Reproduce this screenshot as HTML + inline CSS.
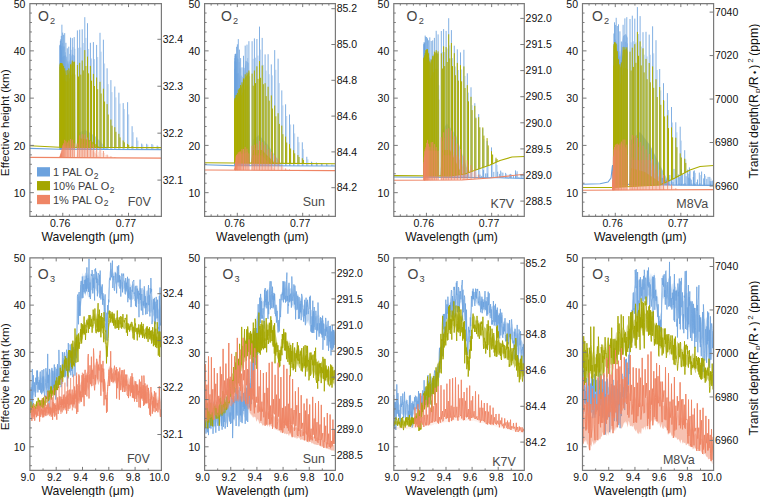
<!DOCTYPE html>
<html><head><meta charset="utf-8"><style>
html,body{margin:0;padding:0;background:#fff;}
svg{display:block;}
text{font-family:"Liberation Sans", sans-serif;fill:#111;}
.tk{font-size:10.5px;}
.ti{font-size:12.2px;}
.yt{font-size:11.75px;}
.mol{font-size:14px;fill:#454545;}
.star{font-size:12.5px;fill:#4a4a4a;}
.leg{font-size:11px;fill:#404040;}
</style></head><body>
<svg width="760" height="497" viewBox="0 0 760 497">
<rect width="760" height="497" fill="#fff"/>
<path d="M29.9 148.4 L59.4 149.3 L161.4 149.6" fill="none" stroke="#6ca2de" stroke-width="1.1"/>
<path d="M59.5 149.3 60.2 63.7 60.5 57.9 66 55 68 65 72 54 75 56 75.2 133.8 L75.3 149.3 L59.5 149.3Z" fill="#6ca2de" fill-opacity="0.45"/>
<path d="M76.2 149.3 78 133.5 78.2 132.9 85 129.7 95 136 108 149.4 L108 149.4 L76.2 149.3Z" fill="#6ca2de" fill-opacity="0.45"/>
<path d="M74.9 149.3V48.8M78.5 149.4V47.8M73 149.3V47.2M80.8 149.4V47.5M71.2 149.3V49.8M83.3 149.4V43M69.5 149.3V53.9M85.9 149.4V37.9M68 149.3V61.3M88.6 149.4V49M66.7 149.3V56.8M91.5 149.4V58.5M65.4 149.3V52.3M94.5 149.4V59.1M64.4 149.3V46.5M97.7 149.4V57.1M63.4 149.3V46.5M101.1 149.4V51.7M62.6 149.3V43.1M104.6 149.4V63.5M62 149.3V46.3M108.2 149.4V84.1M61.5 149.3V45.7M112 149.5V92.1M61.1 149.3V49.8M115.9 149.5V97.4M60.9 149.3V52.5M120 149.5V103.6M60.8 149.3V51.2M124.3 149.5V109.1M60.9 149.3V51.8M128.7 149.5V114.4M61.1 149.3V50.2M133.2 149.5V132.2M137.9 149.5V140.6M142.8 149.5V144.5M147.8 149.6V144.7M153 149.6V144.8M158.4 149.6V146.5" stroke="#6ca2de" stroke-width="0.85" stroke-opacity="0.55" fill="none"/>
<path d="M74.2 149.3V37.1M77.4 149.4V30.4M72.3 149.3V38.1M79.7 149.4V29.7M70.5 149.3V37.6M82.2 149.4V29.3M68.8 149.3V46.7M84.8 149.4V17.2M67.3 149.3V48.3M87.5 149.4V23.2M65.9 149.3V42.8M90.4 149.4V42.8M64.7 149.3V33.1M93.4 149.4V42.1M63.6 149.3V34.8M96.6 149.4V44.9M62.7 149.3V32.6M100 149.4V32.8M61.9 149.3V24.7M103.4 149.4V39.7M61.3 149.3V35.9M107.1 149.4V68.3M60.8 149.3V39.3M110.9 149.5V80.1M60.4 149.3V40.9M114.8 149.5V86.5M60.2 149.3V45.1M118.9 149.5V92.7M60.1 149.3V45.2M123.2 149.5V103.1M60.2 149.3V45.8M127.6 149.5V102.2M60.4 149.3V44.2M132.1 149.5V126.2M136.8 149.5V137.4M141.7 149.5V143.6M146.7 149.6V143.8M151.9 149.6V144M157.2 149.6V145.6" stroke="#6ca2de" stroke-width="0.85" fill="none"/>
<path d="M29.9 145.7 L59.4 147.3 L161.4 147.6" fill="none" stroke="#abad00" stroke-width="1.1"/>
<path d="M59.5 147.3 60.2 64.9 62 63 66 75 68 75 72 62 75 62 75.2 133.1 L75.3 147.3 L59.5 147.3Z" fill="#abad00" fill-opacity="0.7"/>
<path d="M76.2 147.3 78 138.3 78.2 138 90 140 100 147.4 L100 147.4 L76.2 147.3Z" fill="#abad00" fill-opacity="0.7"/>
<path d="M74.9 147.3V74.6M73 147.3V73.6M71.2 147.3V74.8M69.5 147.3V78.3M68 147.3V81.5M66.7 147.3V81.6M65.4 147.3V80.8M64.4 147.3V79.2M63.4 147.3V77.8M62.6 147.3V76.6M62 147.3V75.6M61.5 147.3V75.6M61.1 147.3V75.6M60.9 147.3V75.6M60.8 147.3V75.6M60.9 147.3V75.6M61.1 147.3V75.6" stroke="#abad00" stroke-width="1.0" stroke-opacity="0.55" fill="none"/>
<path d="M74.2 147.3V61.5M77.4 147.4V65M78.5 147.4V76.5M72.3 147.3V60.6M79.7 147.4V62.8M80.8 147.4V74.6M70.5 147.3V64.3M82.2 147.4V60.5M83.3 147.4V70.4M68.8 147.3V68.3M84.8 147.4V50.1M85.9 147.4V66M67.3 147.3V70.1M87.5 147.4V56.6M88.6 147.4V73.3M65.9 147.3V70.5M90.4 147.4V65.9M91.5 147.4V80.7M64.7 147.3V68.2M93.4 147.4V73.9M94.5 147.4V86M63.6 147.3V65.9M96.6 147.4V77.5M97.7 147.4V89.2M62.7 147.3V64.3M100 147.4V81.8M101.1 147.4V93.5M61.9 147.3V63M103.4 147.4V88.7M104.6 147.4V101.5M61.3 147.3V63.2M107.1 147.4V104.1M108.2 147.4V114.5M60.8 147.3V63.1M110.9 147.5V119.5M112 147.5V125.7M60.4 147.3V63.2M114.8 147.5V127.2M115.9 147.5V131.8M60.2 147.3V64.4M118.9 147.5V133.8M120 147.5V137.4M60.1 147.3V66.8M123.2 147.5V140.5M124.3 147.5V142.3M60.2 147.3V64.6M127.6 147.5V143.9M128.7 147.5V144.9M60.4 147.3V63.2M132.1 147.5V146.1M133.2 147.5V146.8" stroke="#abad00" stroke-width="1.0" fill="none"/>
<path d="M29.9 157.4 L161.4 158.1" fill="none" stroke="#ef8565" stroke-width="1.1"/>
<path d="M60 157.5 62.5 146.3 74 146 75.2 157.2 L75.3 157.6 L60 157.6Z" fill="#ef8565" fill-opacity="0.25"/>
<path d="M76.2 157.6 78 148.3 78.2 148 90 148 100 157.8 L100 157.8 L76.2 157.6Z" fill="#ef8565" fill-opacity="0.25"/>
<path d="M74.9 157.6V146.9M78.5 157.7V142.3M78.9 157.7V145.9M73 157.6V143M80.8 157.7V138.2M81.3 157.7V143.8M71.2 157.6V141.3M83.3 157.7V137.8M83.8 157.7V143.7M69.5 157.6V141.2M85.9 157.7V139M86.5 157.7V144.9M68 157.6V143M88.6 157.7V141.6M89.3 157.7V146.9M66.7 157.6V144.6M91.5 157.7V144.5M92.3 157.7V148.9M65.4 157.6V144M94.5 157.7V147.2M95.4 157.7V150.9M64.4 157.6V143.5M97.7 157.8V149.2M98.7 157.8V151.8M63.4 157.6V145.3M101.1 157.8V150.2M102.1 157.8V153M62.6 157.6V147.4M104.6 157.8V153M105.7 157.8V155.1M62 157.6V149.7M108.2 157.8V155.6M109.4 157.8V156.5M61.5 157.6V151.5M112 157.8V156.7M113.2 157.8V157.2M61.1 157.6V152.9M115.9 157.9V157.5M60.9 157.6V153.7M60.8 157.6V154M60.9 157.6V153.8M61.1 157.6V153" stroke="#ef8565" stroke-width="0.8" stroke-opacity="0.3" fill="none"/>
<path d="M74.2 157.6V143.4M77.4 157.7V143.5M72.3 157.6V139.6M79.7 157.7V135.3M70.5 157.6V139M82.2 157.7V134.2M68.8 157.6V140.4M84.8 157.7V134.5M67.3 157.6V142.4M87.5 157.7V137.5M65.9 157.6V141.1M90.4 157.7V140.9M64.7 157.6V139.8M93.4 157.7V144.2M63.6 157.6V143.3M96.6 157.8V147.5M62.7 157.6V145.3M100 157.8V147.9M61.9 157.6V148.7M103.4 157.8V151M61.3 157.6V151.5M107.1 157.8V154.7M60.8 157.6V153.7M110.9 157.8V156.3M60.4 157.6V155.3M114.8 157.9V157.1M60.2 157.6V156.3M60.1 157.6V156.6M60.2 157.6V156.4M60.4 157.6V155.4" stroke="#ef8565" stroke-width="0.8" fill="none"/>
<path d="M204.6 164.8 L233.5 165.6 L335.4 166" fill="none" stroke="#6ca2de" stroke-width="1.1"/>
<path d="M234.2 165.6 234.9 79.7 235.2 74 238.9 73 240.9 86.6 241.2 86.1 242.9 78.2 245.9 61.3 246.2 61.1 248.9 63 249.7 152.8 L249.8 165.7 L234.2 165.6Z" fill="#6ca2de" fill-opacity="0.45"/>
<path d="M251 165.7 253 140 259 135 268 145 282 165.8 L282 165.8 L251 165.7Z" fill="#6ca2de" fill-opacity="0.45"/>
<path d="M249.6 165.7V76.2M253.2 165.7V58.8M247.7 165.7V58.1M255.5 165.7V57.7M245.9 165.6V60.8M258 165.7V55.6M244.2 165.6V68M260.6 165.7V49.6M242.7 165.6V76.9M263.3 165.7V64.9M241.4 165.6V75.6M266.2 165.7V70.6M240.1 165.6V68.4M269.2 165.7V74.2M239.1 165.6V62.2M272.4 165.8V75.4M238.1 165.6V59.2M275.8 165.8V69.8M237.3 165.6V58.3M279.3 165.8V83.1M236.7 165.6V56.2M282.9 165.8V105.4M236.2 165.6V62M286.7 165.8V116M235.8 165.6V65.3M290.6 165.8V124.5M235.6 165.6V67.6M294.7 165.8V133.4M235.5 165.6V66.3M299 165.9V142.2M235.6 165.6V66.2M303.4 165.9V149.1M235.8 165.6V66.6M307.9 165.9V159.3M312.6 165.9V162.5M317.5 165.9V163.1M322.5 165.9V163.7M327.7 166V164.3M333.1 166V164.9" stroke="#6ca2de" stroke-width="0.85" stroke-opacity="0.55" fill="none"/>
<path d="M248.9 165.7V41.2M252.1 165.7V41.2M247 165.7V44.6M254.4 165.7V38.4M245.2 165.6V45.6M256.9 165.7V39M243.5 165.6V55.8M259.5 165.7V26.6M242 165.6V67.4M262.2 165.7V37.9M240.6 165.6V58.1M265.1 165.7V54.4M239.4 165.6V49.6M268.1 165.7V54.2M238.3 165.6V39.1M271.3 165.7V64.4M237.4 165.6V44.3M274.7 165.8V50.1M236.6 165.6V46.8M278.1 165.8V58.7M236 165.6V53.8M281.8 165.8V90.4M235.5 165.6V53.8M285.6 165.8V104.3M235.1 165.6V55.7M289.5 165.8V114.5M234.9 165.6V58.2M293.6 165.8V124.4M234.8 165.6V68.8M297.9 165.9V136.8M234.9 165.6V61.3M302.3 165.9V142.3M235.1 165.6V54M306.8 165.9V156.8M311.5 165.9V161.7M316.4 165.9V162.5M321.4 165.9V163.2M326.6 166V163.9M331.9 166V164.6" stroke="#6ca2de" stroke-width="0.85" fill="none"/>
<path d="M204.6 162.8 L233.5 163 L335.4 163.7" fill="none" stroke="#abad00" stroke-width="1.1"/>
<path d="M234.2 163 234.9 108.6 235.2 104.4 238.2 95.5 244.9 78.1 249.4 72.1 249.7 132.7 L249.8 163.1 L234.2 163Z" fill="#abad00" fill-opacity="0.7"/>
<path d="M251 163.1 253 150 262 150 275 163.3 L275 163.3 L251 163.1Z" fill="#abad00" fill-opacity="0.7"/>
<path d="M247.7 163.1V84.8M245.9 163.1V85.9M244.2 163.1V89.4M242.7 163.1V92.6M241.4 163.1V95.2M240.1 163V97.3M239.1 163V99.1M238.1 163V100.7M237.3 163V102.1M236.7 163V103.4M236.2 163V104.7M235.8 163V105.6M235.6 163V106.2M235.5 163V106.4M235.6 163V106.2M235.8 163V105.7" stroke="#abad00" stroke-width="1.0" stroke-opacity="0.55" fill="none"/>
<path d="M248.9 163.1V70.5M252.1 163.1V73.6M253.2 163.1V85.7M247 163.1V72.6M254.4 163.1V70.5M255.5 163.2V83.1M245.2 163.1V74.3M256.9 163.2V66.3M258 163.2V78.9M243.5 163.1V78.4M259.5 163.2V61M260.6 163.2V77.8M242 163.1V82.3M262.2 163.2V65.5M263.3 163.2V84.2M240.6 163V85M265.1 163.2V83.2M266.2 163.2V96.1M239.4 163V88.2M268.1 163.2V86.7M269.2 163.2V100.7M238.3 163V89.5M271.3 163.3V95.4M272.4 163.3V108.5M237.4 163V93M274.7 163.3V105.5M275.8 163.3V116.3M236.6 163V94.9M278.1 163.3V113.2M279.3 163.3V123.9M236 163V95.1M281.8 163.3V125.6M282.9 163.3V134.2M235.5 163V97.7M285.6 163.4V136.6M286.7 163.4V142.5M235.1 163V97.9M289.5 163.4V144.2M290.6 163.4V148.5M234.9 163V99.5M293.6 163.4V150.2M294.7 163.4V153.3M234.8 163V101.2M297.9 163.4V155.1M299 163.4V157M234.9 163V100.6M302.3 163.5V158.3M303.4 163.5V160M235.1 163V98.7" stroke="#abad00" stroke-width="1.0" fill="none"/>
<path d="M204.6 170 L335.4 170.6" fill="none" stroke="#ef8565" stroke-width="1.1"/>
<path d="M234.8 169.3 236.1 156.2 247.8 152.1 248.1 152.5 249.6 168.9 L249.6 170.2 L234.8 170.1Z" fill="#ef8565" fill-opacity="0.25"/>
<path d="M251 169.5 252.5 155.2 262 155.2 275 169.6 L275 170.3 L251 170.2Z" fill="#ef8565" fill-opacity="0.25"/>
<path d="M253.2 170.2V149.1M253.6 170.2V155.2M247.7 170.2V151.3M255.5 170.2V148.1M256 170.2V154.5M245.9 170.2V150.3M258 170.2V146.8M258.5 170.2V153.3M244.2 170.2V150.6M260.6 170.3V145.1M261.2 170.3V152.8M242.7 170.2V152M263.3 170.3V147.3M264 170.3V154.5M241.4 170.2V152.8M266.2 170.3V150.1M267 170.3V156.7M240.1 170.2V153.3M269.2 170.3V153.1M270.1 170.3V158.6M239.1 170.2V154M272.4 170.3V155.5M273.4 170.3V160.4M238.1 170.2V155M275.8 170.3V158.2M276.8 170.3V162.3M237.3 170.2V156.1M279.3 170.3V161.9M280.4 170.3V165.6M236.7 170.1V157.1M282.9 170.4V166.8M284.1 170.4V168.5M236.2 170.1V157.8M286.7 170.4V168.9M287.9 170.4V169.5M235.8 170.1V159.8M235.6 170.1V161.8M235.5 170.1V162.6M235.6 170.1V162M235.8 170.1V160" stroke="#ef8565" stroke-width="0.8" stroke-opacity="0.3" fill="none"/>
<path d="M248.9 170.2V153.4M252.1 170.2V145.9M247 170.2V148.6M254.4 170.2V144.7M245.2 170.2V146.9M256.9 170.2V143.7M243.5 170.2V149M259.5 170.3V140.8M242 170.2V148.9M262.2 170.3V142.1M240.6 170.2V151.4M265.1 170.3V145M239.4 170.2V151.6M268.1 170.3V149.2M238.3 170.2V152.3M271.3 170.3V151.8M237.4 170.2V153.8M274.7 170.3V155.1M236.6 170.1V154.9M278.1 170.3V158.3M236 170.1V156.4M281.8 170.4V165.2M235.5 170.1V161.9M285.6 170.4V168.4M235.1 170.1V165.8M289.5 170.4V169.4M234.9 170.1V168.2M234.9 170.1V168.4M235.1 170.1V166.1" stroke="#ef8565" stroke-width="0.8" fill="none"/>
<path d="M393.8 177 L420 177.2 L500 177.8 L524.3 178.5" fill="none" stroke="#6ca2de" stroke-width="1.1"/>
<path d="M423.2 177.2 423.9 63.6 424.2 55.9 427.9 54 429.9 67.6 430.2 67.3 433.9 54.2 434.2 54 438.4 54 438.7 136.2 L438.8 177.3 L423.2 177.2Z" fill="#6ca2de" fill-opacity="0.45"/>
<path d="M440.5 177.4 442 130 447 123.6 456 135 470 177.5 L470 177.6 L440.5 177.4Z" fill="#6ca2de" fill-opacity="0.45"/>
<path d="M438.8 177.3V85.3M442.4 177.4V52.1M436.9 177.3V51.2M444.7 177.4V52.1M435.1 177.3V51.9M447.2 177.4V48.5M433.4 177.3V54.4M449.8 177.4V45.4M431.9 177.3V58.9M452.5 177.4V58.1M430.6 177.3V58.9M455.4 177.5V66.5M429.3 177.3V57.4M458.4 177.5V70M428.3 177.3V53.3M461.6 177.5V69.5M427.3 177.3V52.6M465 177.5V75.9M426.5 177.2V53.3M468.5 177.6V92.6M425.9 177.2V53.8M472.1 177.6V105.2M425.4 177.2V54.9M475.9 177.6V116.9M425 177.2V56.8M479.8 177.6V127M424.8 177.2V58M483.9 177.7V139M424.7 177.2V58.4M488.2 177.7V147.6M424.8 177.2V58.1M492.6 177.7V154.5M425 177.2V57M497.1 177.8V164.9M501.8 177.9V172.2M506.7 178V173.9M511.7 178.1V174.3M516.9 178.3V174.1M522.3 178.4V175.1" stroke="#6ca2de" stroke-width="0.85" stroke-opacity="0.55" fill="none"/>
<path d="M438.1 177.3V34.4M441.3 177.4V31M436.2 177.3V30.8M443.6 177.4V29.1M434.4 177.3V37.9M446.1 177.4V30.9M432.7 177.3V40.4M448.7 177.4V18.2M431.2 177.3V41M451.4 177.4V30.1M429.8 177.3V37.4M454.3 177.5V45.7M428.6 177.3V40.3M457.3 177.5V49.3M427.5 177.3V38.3M460.5 177.5V52.4M426.6 177.2V37M463.9 177.5V49.8M425.8 177.2V36.9M467.3 177.6V73.3M425.2 177.2V35.6M471 177.6V87.3M424.7 177.2V42.7M474.8 177.6V103.2M424.3 177.2V45.2M478.7 177.6V114.1M424.1 177.2V42.1M482.8 177.7V128.4M424 177.2V43.8M487.1 177.7V141M424.1 177.2V44.3M491.5 177.7V147.4M424.3 177.2V43.6M496 177.8V159.5M500.7 177.8V170.6M505.6 178V172.9M510.6 178.1V173.9M515.8 178.3V173.2M521.1 178.4V174.3M480 177.7V174.6M481.7 177.7V175.9M483.5 177.7V170.1M485.6 177.7V173.4M487.3 177.7V173.4M488.7 177.7V177.6M491.2 177.7V177.7M493.8 177.8V171.9M496.2 177.8V177.7M497.7 177.8V171.7M499.6 177.8V173.9M501 177.8V177.2M502.9 177.9V172.7M504.9 177.9V177.7M507.4 178V177.6M509.3 178.1V174.4M511 178.1V175.9M513.5 178.2V175.7M515.5 178.2V170.4M517.1 178.3V171.3M518.9 178.3V176.9M521.4 178.4V178.3M523.9 178.5V172.1" stroke="#6ca2de" stroke-width="0.85" fill="none"/>
<path d="M393.8 175.6 L450 176 L465 174 L475 170.2 L490 165 L500 160.5 L512 157 L524.3 156.5" fill="none" stroke="#abad00" stroke-width="1.1"/>
<path d="M423.2 175.7 423.9 69.1 424.2 60.8 425.9 50.3 426.2 50 427.9 50 429.9 63.6 430.2 63.5 432.9 57.1 435.9 52.1 438.4 54 438.7 135.2 L438.8 175.9 L423.2 175.8Z" fill="#abad00" fill-opacity="0.7"/>
<path d="M440.5 175.9 442 150 450 150 462 174.4 L462 174.4 L440.5 175.9Z" fill="#abad00" fill-opacity="0.7"/>
<path d="M438.8 175.9V99.7M436.9 175.9V68.9M435.1 175.9V68.9M433.4 175.9V72.2M431.9 175.9V75.2M430.6 175.9V78M429.3 175.9V75.5M428.3 175.8V69.5M427.3 175.8V68M426.5 175.8V68M425.9 175.8V68.4M425.4 175.8V70.3M425 175.8V71.7M424.8 175.8V72.5M424.7 175.8V72.8M424.8 175.8V72.6M425 175.8V71.8" stroke="#abad00" stroke-width="1.0" stroke-opacity="0.55" fill="none"/>
<path d="M438.1 175.9V51.4M441.3 175.9V53.3M442.4 175.9V68.5M436.2 175.9V50.2M443.6 176V46.3M444.7 176V66.1M434.4 175.9V51.6M446.1 176V47.1M447.2 176V62M432.7 175.9V55.8M448.7 176V34.3M449.8 176V58.4M431.2 175.9V59.6M451.4 175.8V43M452.5 175.7V66.1M429.8 175.9V61.4M454.3 175.4V53.2M455.4 175.3V75.2M428.6 175.8V53.3M457.3 175V62.9M458.4 174.9V80.6M427.5 175.8V49.1M460.5 174.6V65.2M461.6 174.4V81.3M426.6 175.8V49.3M463.9 174.2V66.4M465 174V88M425.8 175.8V50.2M467.3 173.1V85.1M468.5 172.7V101.3M425.2 175.8V53M471 171.7V96.8M472.1 171.3V110.1M424.7 175.8V55.3M474.8 170.3V105.8M475.9 169.9V118.2M424.3 175.8V57.2M478.7 168.9V117.2M479.8 168.5V127.4M424.1 175.8V58.3M482.8 167.5V127.4M483.9 167.1V135.6M424 175.8V58.6M487.1 166V138.1M488.2 165.6V145.4M424.1 175.8V58.1M491.5 164.3V151.2M492.6 163.8V154.6M424.3 175.8V57.1M496 162.3V157.7M497.1 161.8V159.1" stroke="#abad00" stroke-width="1.0" fill="none"/>
<path d="M393.8 180.3 L462 180 L490 178 L524.3 174.3" fill="none" stroke="#ef8565" stroke-width="1.1"/>
<path d="M423.3 180.1 424.6 151 436.8 150.7 437.1 151.5 438.8 180.1 L438.8 180.1 L423.3 180.2Z" fill="#ef8565" fill-opacity="0.25"/>
<path d="M440.5 180.1 443 155.2 458 155.2 467.8 179.4 468 179.6 L468 179.6 L440.5 180.1Z" fill="#ef8565" fill-opacity="0.25"/>
<path d="M442.4 180.1V141.3M442.8 180.1V152.3M436.9 180.1V152.4M444.7 180.1V137.8M445.2 180.1V149.8M435.1 180.1V150.4M447.2 180.1V136.5M447.7 180.1V149.2M433.4 180.1V147.9M449.8 180.1V136.6M450.4 180.1V149.8M431.9 180.1V147.2M452.5 180V139M453.2 180V152M430.6 180.1V149.7M455.4 180V145.5M456.2 180V156.9M429.3 180.1V149.6M458.4 180V150.6M459.3 180V160.1M428.3 180.1V146.9M461.6 180V155.9M462.6 180V164.3M427.3 180.2V146.9M465 179.8V160.7M466 179.7V167M426.5 180.2V148.5M468.5 179.5V164.5M469.6 179.5V169.8M425.9 180.2V151M472.1 179.3V168.5M473.3 179.2V172.5M425.4 180.2V152.9M475.9 179V172.3M477.1 178.9V175.1M425 180.2V154.3M479.8 178.7V176.2M481.1 178.6V177.3M424.8 180.2V155.1M483.9 178.4V177.7M424.7 180.2V155.4M424.8 180.2V155.2M425 180.2V154.4" stroke="#ef8565" stroke-width="0.8" stroke-opacity="0.3" fill="none"/>
<path d="M438.1 180.1V150.8M441.3 180.1V137.3M436.2 180.1V147.1M443.6 180.1V132.3M434.4 180.1V144.1M446.1 180.1V129.2M432.7 180.1V142M448.7 180.1V128.2M431.2 180.1V142.3M451.4 180V130.6M429.8 180.1V146.7M454.3 180V136.3M428.6 180.1V143.7M457.3 180V143.7M427.5 180.2V139.9M460.5 180V149.1M426.6 180.2V142.8M463.9 179.9V156M425.8 180.2V147.3M467.3 179.6V160.3M425.2 180.2V149.2M471 179.4V165.2M424.7 180.2V151.3M474.8 179.1V169.8M424.3 180.2V156.7M478.7 178.8V174.5M424.1 180.2V161.9M482.8 178.5V177.1M424 180.2V163.7M424.1 180.2V162.2M424.3 180.2V157.4" stroke="#ef8565" stroke-width="0.8" fill="none"/>
<path d="M582.5 184.2 L600 183.8 L608 182.1 L611 178 L612.5 165 L613 184 L660 185 L713.6 185.4" fill="none" stroke="#6ca2de" stroke-width="1.1"/>
<path d="M612.8 176.4 613.5 50 616.8 48.1 617 48.2 619.8 57.3 620 57.6 623 36 625.8 34.1 626 34.1 627.8 38 L628 184.3 L612.8 176.4Z" fill="#6ca2de" fill-opacity="0.6"/>
<path d="M629.3 184.3 631 140 640 132.1 650 145.1 669.8 184.6 L670 185.1 L629.3 184.3Z" fill="#6ca2de" fill-opacity="0.6"/>
<path d="M627.5 184.3V43.4M631.1 184.4V42.3M625.6 184.3V41.8M633.4 184.4V41.3M623.8 184.2V46.1M635.9 184.5V42.5M622.1 184.2V55.7M638.5 184.5V34M620.6 184.2V62M641.2 184.6V46.6M619.3 184.1V51.3M644.1 184.7V54.7M618 184.1V45.1M647.1 184.7V56.4M617 184.1V43.3M650.3 184.8V54.8M616 184.1V41.2M653.7 184.9V53.3M615.2 184V39.5M657.2 184.9V70M614.6 184V40.3M660.8 185V90.4M614.1 184V48.3M664.6 185V100.7M613.7 184V56.4M668.5 185.1V110M672.6 185.1V122.5M676.9 185.1V132.3M681.3 185.2V140.6M613.7 184V57.1M685.8 185.2V159.4M690.5 185.2V170.8M695.4 185.3V172.9M700.4 185.3V175.1M705.6 185.3V175.7M711 185.4V178.5" stroke="#6ca2de" stroke-width="0.85" stroke-opacity="0.55" fill="none"/>
<path d="M626.8 184.3V17.2M630 184.4V19M624.9 184.3V18.4M632.3 184.4V15.7M623.1 184.2V24.8M634.8 184.5V18.6M621.4 184.2V41.5M637.4 184.5V7.1M619.9 184.1V31.3M640.1 184.6V16.1M618.5 184.1V24.3M643 184.6V32.2M617.3 184.1V26M646 184.7V31.8M616.2 184.1V17.8M649.2 184.8V34.6M615.3 184V24.9M652.6 184.8V26.3M614.5 184V22.3M656 184.9V40.2M613.9 184V33.5M659.7 185V69M663.5 185V83.2M667.4 185.1V93.1M671.5 185.1V107M675.8 185.1V122.3M680.2 185.2V126.7M684.7 185.2V150.2M689.4 185.2V167.4M694.3 185.3V170.4M699.3 185.3V172.6M704.5 185.3V174M709.8 185.4V176.9M660 185V171.3M662.4 185V178M664 185V184.8M665.8 185V180.1M667.1 185.1V184.8M669.8 185.1V175M671.3 185.1V179.6M674 185.1V168.9M676.5 185.1V180.4M678.4 185.1V174.5M679.7 185.1V177.2M681.3 185.2V169.4M682.6 185.2V174.4M685.1 185.2V183.1M687.6 185.2V169.6M688.9 185.2V173.8M690.1 185.2V178.4M691.9 185.2V183.5M693.6 185.3V171.3M695.3 185.3V184.2M697.5 185.3V179.5M699.9 185.3V183.1M701.6 185.3V171.5M703.6 185.3V178.4M705.1 185.3V185.3M707.7 185.4V184.9M710.2 185.4V181.1M712.8 185.4V180.5M662 185V177.7M663.6 185V180.8M666 185V179.6M668.6 185.1V177.8M671.1 185.1V185M673 185.1V182M674.3 185.1V185.1M676.7 185.1V176.2M679.1 185.1V183.5M681.4 185.2V183.7M683.7 185.2V183.8M686.1 185.2V176.2M688.7 185.2V177.6M691.3 185.2V179.7M693.3 185.2V177M694.7 185.3V183.2M696.8 185.3V182.2M699.2 185.3V184.5M700.5 185.3V184.9M703.1 185.3V184.9M704.7 185.3V183.2M706.8 185.3V178.9M708.1 185.4V176.9M710.5 185.4V183.7M711.9 185.4V181.1" stroke="#6ca2de" stroke-width="0.85" fill="none"/>
<path d="M582.5 187.5 L612 187.5 L660 185 L675 178 L690 170 L700 166.5 L713.6 165.5" fill="none" stroke="#abad00" stroke-width="1.1"/>
<path d="M612.8 187.5 613.5 46 615.8 44.2 616 44.3 619 64.1 620.8 67.6 621 67.6 623 50 626.8 49.1 627 49.2 627.8 52 L628 186.7 L612.8 187.5Z" fill="#abad00" fill-opacity="0.7"/>
<path d="M629.3 186.6 631 168 645 172 659.8 181.9 L660 185 L629.3 186.6Z" fill="#abad00" fill-opacity="0.7"/>
<path d="M627.5 186.7V69.3M625.6 186.8V68M623.8 186.9V68M622.1 187V74.9M620.6 187.1V83.5M619.3 187.1V81.2M618 187.2V75.4M617 187.2V69.3M616 187.3V64M615.2 187.3V63.8M614.6 187.4V63.8M614.1 187.4V64.9M613.7 187.4V65.8M613.7 187.4V65.9" stroke="#abad00" stroke-width="1.0" stroke-opacity="0.55" fill="none"/>
<path d="M626.8 186.7V47.3M630 186.6V51.7M631.1 186.5V70.5M624.9 186.8V47.2M632.3 186.4V47.7M633.4 186.4V66.9M623.1 186.9V47.1M634.8 186.3V44.2M635.9 186.3V62.8M621.4 187V62.5M637.4 186.2V31.9M638.5 186.1V55.8M619.9 187.1V64.3M640.1 186V41.4M641.2 186V65.4M618.5 187.2V59.3M643 185.9V48.3M644.1 185.8V72.4M617.3 187.2V51.2M646 185.7V58.9M647.1 185.7V79.2M616.2 187.3V43.7M649.2 185.6V63M650.3 185.5V82.3M615.3 187.3V42.4M652.6 185.4V66.4M653.7 185.3V87.8M614.5 187.4V42.2M656 185.2V79.2M657.2 185.1V97M613.9 187.4V44.2M659.7 185V87M660.8 184.6V104.8M663.5 183.4V100.1M664.6 182.9V116.4M667.4 181.5V115.4M668.5 181V128.1M671.5 179.6V127.4M672.6 179.1V137.3M675.8 177.6V137.7M676.9 177V147.2M680.2 175.3V153.4M681.3 174.6V157.5M684.7 172.8V158.7M685.8 172.2V162.9" stroke="#abad00" stroke-width="1.0" fill="none"/>
<path d="M582.5 190.3 L713.6 189.6" fill="none" stroke="#ef8565" stroke-width="1.1"/>
<path d="M612.8 190.1 613.5 151.9 618 146 623 143.1 626.8 149.6 627 152.5 627.8 190.1 L627.8 190.1 L612.8 190.1Z" fill="#ef8565" fill-opacity="0.25"/>
<path d="M629.3 190.1 632 160 650 160.1 664.8 189.6 L665 189.9 L629.3 190.1Z" fill="#ef8565" fill-opacity="0.25"/>
<path d="M627.5 190.1V155M631.1 190V144.8M631.5 190V157.6M625.6 190.1V147.3M633.4 190V143.6M633.9 190V157.3M623.8 190.1V146.3M635.9 190V144.1M636.4 190V158M622.1 190.1V147.1M638.5 190V147.2M639.1 190V160.4M620.6 190.1V149.3M641.2 190V150.4M641.9 190V162.6M619.3 190.1V151.4M644.1 190V153.4M644.9 190V164.7M618 190.1V151M647.1 190V156.9M648 190V167.3M617 190.1V150M650.3 189.9V160.7M651.3 189.9V170.2M616 190.1V149.2M653.7 189.9V165.2M654.7 189.9V173.5M615.2 190.1V151.3M657.2 189.9V169.6M658.3 189.9V176.5M614.6 190.1V153.1M660.8 189.9V173.9M662 189.9V179.6M614.1 190.1V154.4M664.6 189.9V178.5M665.8 189.9V182.7M613.7 190.1V155.4M668.5 189.8V182.5M669.8 189.8V185.6M613.5 190.1V156.1M672.6 189.8V186.3M674 189.8V188.1M613.4 190.1V158.8M676.9 189.8V188.8M678.3 189.8V189.4M613.5 190.1V156.6M613.7 190.1V155.5" stroke="#ef8565" stroke-width="0.8" stroke-opacity="0.3" fill="none"/>
<path d="M626.8 190.1V144.6M630 190V140M624.9 190.1V139.5M632.3 190V135.1M623.1 190.1V139.5M634.8 190V135.7M621.4 190.1V141.5M637.4 190V138M619.9 190.1V143.4M640.1 190V142.1M618.5 190.1V144.6M643 190V145.6M617.3 190.1V143.6M646 190V149.4M616.2 190.1V144M649.2 189.9V153.9M615.3 190.1V144.9M652.6 189.9V159.1M614.5 190.1V147M656 189.9V164.5M613.9 190.1V149.5M659.7 189.9V169.6M613.4 190.1V156.7M663.5 189.9V174.9M613 190.1V171M667.4 189.8V179.9M612.8 190.1V180.1M671.5 189.8V184.5M612.7 190.1V183.9M675.8 189.8V188.2M612.8 190.1V180.4M613 190.1V173.5" stroke="#ef8565" stroke-width="0.8" fill="none"/>
<path d="M30.5 381.9 31.1 381.5 31.7 384 32.3 384.8 32.9 385.2 33.5 378.8 34.1 384.4 34.7 385.3 35.3 378.5 35.9 377.5 36.5 378.2 37.1 380.9 37.7 374.9 38.3 377.2 38.9 376.5 39.5 380.6 40.1 374.7 40.7 377.2 41.3 378.2 41.9 372.2 42.5 379 43.1 375.9 43.7 379 44.3 375 44.9 379.3 45.5 379.3 46.1 372.5 46.7 370.9 47.3 371.8 47.9 374.1 48.5 378.6 49.1 370.8 49.7 377.1 50.3 370.6 50.9 368.9 51.5 369.6 52.1 368.6 52.7 371 53.3 371.7 53.9 374.6 54.5 367.9 55.1 373.8 55.7 369.1 56.3 373.5 56.9 365.5 57.5 369.8 58.1 369.3 58.7 365.8 59.3 365.3 59.9 370.2 60.5 370 61.1 364.6 61.7 367.8 62.3 363 62.9 358.2 63.5 359 64.1 362.3 64.7 362.2 65.3 361.3 65.9 354.7 66.5 356.8 67.1 351.4 67.7 352.7 68.3 348.4 68.9 350.7 69.5 353.3 70.1 351.9 70.7 346.4 71.3 351.9 71.9 349.6 72.5 344.3 73.1 349.7 73.7 342.6 74.3 342.2 74.9 348.9 75.5 347.1 76.1 346.6 76.7 327.9 77.3 311.5 77.9 303.7 78.5 296 79.1 295.9 79.7 292.7 80.3 285.2 80.9 284.2 81.5 280.7 82.1 282.4 82.7 272.6 83.3 276.4 83.9 275.5 84.5 276.6 85.1 273 85.7 272.6 86.3 275.8 86.9 276.9 87.5 272.1 88.1 276 88.7 273 89.3 279.8 89.9 274.2 90.5 280.9 91.1 273 91.7 279.5 92.3 279.4 92.9 272 93.5 279.1 94.1 278.9 94.7 276.4 95.3 278 95.9 273.1 96.5 276 97.1 275.3 97.7 278.1 98.3 279.4 98.9 279.4 99.5 283.5 100.1 284.8 100.7 284.8 101.3 284.6 101.9 290.9 102.5 289.4 103.1 294.5 103.7 296.3 104.3 295.9 104.9 307 105.5 310.2 106.1 313.5 106.7 320.1 107.3 314.9 107.9 307.2 108.5 290.7 109.1 285.9 109.7 272.1 110.3 269.8 110.9 269 111.5 269.1 112.1 273.7 112.7 271.4 113.3 273.9 113.9 271.7 114.5 271.7 115.1 274.1 115.7 271.1 116.3 274 116.9 273.4 117.5 272 118.1 276.2 118.7 274.4 119.3 277 119.9 277.2 120.5 275.2 121.1 276.7 121.7 281.4 122.3 281.8 122.9 282.5 123.5 277.9 124.1 281.5 124.7 280 125.3 283.4 125.9 282.8 126.5 279.7 127.1 285.8 127.7 285.9 128.3 286.3 128.9 282.1 129.5 287.8 130.1 286.7 130.7 282.9 131.3 286.4 131.9 284.4 132.5 284.5 133.1 283.5 133.7 283.8 134.3 287.7 134.9 285.8 135.5 286.5 136.1 285.4 136.7 285.7 137.3 285.4 137.9 286 138.5 290.8 139.1 293.9 139.7 286.8 140.3 292 140.9 290.9 141.5 289.2 142.1 288.2 142.7 287.7 143.3 289.4 143.9 289.9 144.5 291.1 145.1 288.2 145.7 295.9 146.3 290.8 146.9 290.7 147.5 290.4 148.1 289.9 148.7 294.4 149.3 294.3 149.9 289.8 150.5 290 151.1 300.4 151.7 299.6 152.3 295.7 152.9 302.4 153.5 302.5 154.1 303.4 154.7 300.2 155.3 302.8 155.9 306.7 156.5 299.6 157.1 306.7 157.7 305.8 158.3 310.5 158.9 308.2 159.5 303.7 160.1 308.8 160.7 303.8 160.7 324.1 160.1 326 159.5 318.7 158.9 318.1 158.3 321.5 157.7 321.1 157.1 318.4 156.5 318.8 155.9 319.5 155.3 313.1 154.7 314.6 154.1 316.7 153.5 314.9 152.9 317.7 152.3 312 151.7 313 151.1 310.8 150.5 312.9 149.9 312.8 149.3 311.5 148.7 311.6 148.1 311.6 147.5 304 146.9 308.4 146.3 307.9 145.7 306.9 145.1 306 144.5 306.3 143.9 307.1 143.3 308.3 142.7 304.9 142.1 305.9 141.5 305.7 140.9 306.7 140.3 303.1 139.7 304.8 139.1 300.1 138.5 304 137.9 304 137.3 298.8 136.7 302.9 136.1 303.3 135.5 301.6 134.9 300.8 134.3 301.2 133.7 298.8 133.1 298.9 132.5 300.2 131.9 298.6 131.3 298.5 130.7 300.1 130.1 299.9 129.5 295.6 128.9 295.1 128.3 295 127.7 296.5 127.1 296 126.5 291.5 125.9 294.1 125.3 291.5 124.7 289.8 124.1 288.4 123.5 289 122.9 291.7 122.3 291.2 121.7 285.8 121.1 290.1 120.5 287.9 119.9 288.5 119.3 288 118.7 286.3 118.1 286.4 117.5 282.2 116.9 283.3 116.3 285.4 115.7 283 115.1 284 114.5 280.6 113.9 279.8 113.3 279.7 112.7 280.1 112.1 279.7 111.5 277 110.9 279.1 110.3 278.2 109.7 283.2 109.1 295.4 108.5 302.5 107.9 315.7 107.3 324.1 106.7 333.1 106.1 331.9 105.5 322.6 104.9 318.9 104.3 311.3 103.7 304.9 103.1 305.7 102.5 301.3 101.9 299.5 101.3 296 100.7 295.6 100.1 291 99.5 292.3 98.9 294.7 98.3 292.9 97.7 291.4 97.1 291 96.5 291.1 95.9 288.3 95.3 289.5 94.7 291.3 94.1 294.2 93.5 286.7 92.9 293.8 92.3 290.7 91.7 289.8 91.1 290.5 90.5 290.7 89.9 295.8 89.3 291.8 88.7 289.4 88.1 290.2 87.5 296.8 86.9 292.5 86.3 290.2 85.7 295.3 85.1 295.7 84.5 292.2 83.9 289.8 83.3 292.7 82.7 296.6 82.1 298.9 81.5 301.8 80.9 306.9 80.3 304.9 79.7 314 79.1 311.3 78.5 319.9 77.9 317.7 77.3 328.6 76.7 345 76.1 360.4 75.5 363.4 74.9 363.9 74.3 361.9 73.7 364.6 73.1 367.3 72.5 365.6 71.9 360.7 71.3 368 70.7 364.9 70.1 361.9 69.5 367.1 68.9 371.2 68.3 364.2 67.7 366.5 67.1 368.8 66.5 370.7 65.9 376.2 65.3 370.9 64.7 375.1 64.1 377 63.5 376 62.9 375.5 62.3 380.8 61.7 376.9 61.1 379 60.5 377.9 59.9 378.8 59.3 379.6 58.7 380.8 58.1 382.3 57.5 384.3 56.9 388.2 56.3 381.7 55.7 388.5 55.1 387.7 54.5 387 53.9 389.4 53.3 389.5 52.7 388 52.1 391.1 51.5 388.2 50.9 393.9 50.3 391.8 49.7 388.5 49.1 392 48.5 390.7 47.9 387.7 47.3 387.9 46.7 389.6 46.1 388.3 45.5 387 44.9 392.6 44.3 388 43.7 393 43.1 386.9 42.5 389.1 41.9 390.7 41.3 390 40.7 392.2 40.1 389.5 39.5 387.5 38.9 387.1 38.3 388.4 37.7 388.5 37.1 389.3 36.5 392.8 35.9 392.9 35.3 393.6 34.7 392.3 34.1 398.5 33.5 395 32.9 395.2 32.3 398.1 31.7 399.3 31.1 399.7 30.5 396.6Z" fill="#6ca2de" fill-opacity="0.45"/>
<path d="M30.5 402.1 30.9 390.7 31.2 387.3 31.6 412.5 31.9 400.1 32.3 369 32.6 409.3 33 399.6 33.3 375.2 33.7 384.4 34 391.5 34.4 387 34.7 382.3 35.1 393.2 35.4 396.8 35.8 377.7 36.1 380.8 36.5 384.8 36.8 370.5 37.2 383.3 37.5 370.6 37.9 392.4 38.2 382.2 38.6 383.8 38.9 389.7 39.3 380.1 39.6 389.8 40 373.6 40.3 371.6 40.7 392.6 41 382.9 41.4 388.4 41.7 394.2 42.1 370.1 42.4 384 42.8 392.6 43.1 376.5 43.5 391.1 43.8 369.2 44.2 390.8 44.5 396.7 44.9 397.3 45.2 386.8 45.6 382.7 45.9 368.2 46.3 375.1 46.6 390.4 47 398.2 47.3 393.4 47.7 353.9 48 383 48.4 374.8 48.7 397.5 49.1 408.5 49.4 368.9 49.8 378.3 50.1 388.5 50.5 387.9 50.8 395.9 51.2 392.6 51.5 397.6 51.9 367.9 52.2 381.1 52.6 392.9 52.9 370.8 53.3 389.8 53.6 394.2 54 375.1 54.3 364.5 54.7 394.4 55 367.2 55.4 388.1 55.7 399.5 56.1 393.3 56.4 383.7 56.8 368.8 57.1 376.4 57.5 364.2 57.8 385 58.2 381.5 58.5 387.8 58.9 349.9 59.2 360.3 59.6 379.5 59.9 376.1 60.3 379.5 60.6 365.1 61 387.2 61.3 385.7 61.7 374.3 62 383.8 62.4 352.1 62.7 356.8 63.1 367.3 63.4 359.8 63.8 357.5 64.1 352.3 64.5 352.4 64.8 377.4 65.2 361.1 65.5 376.4 65.9 365.9 66.2 353.9 66.6 349.7 66.9 353.6 67.3 386.5 67.6 365.8 68 378.6 68.3 343.1 68.7 371.3 69 367.3 69.4 362.9 69.7 372.4 70.1 344.4 70.4 349.3 70.8 375.3 71.1 356.5 71.5 370.8 71.8 352.1 72.2 365.2 72.5 371.8 72.9 377.1 73.2 353.2 73.6 347.1 73.9 361 74.3 349.3 74.6 359.7 75 375.7 75.3 360.7 75.7 359.9 76 338.2 76.4 358.3 76.7 350 77.1 322 77.4 296.3 77.8 294.5 78.1 301 78.5 324.3 78.8 293.3 79.2 292 79.5 315.8 79.9 301.4 80.2 315.8 80.6 284.7 80.9 281.1 81.3 281.1 81.6 281.1 82 298.3 82.3 276.5 82.7 295.3 83 297.8 83.4 290.6 83.7 284.1 84.1 291.9 84.4 280.1 84.8 280.3 85.1 293.4 85.5 279.6 85.8 289.1 86.2 275.7 86.5 291.3 86.9 267.4 87.2 288.7 87.6 282.2 87.9 278.1 88.3 283.4 88.6 292 89 258.8 89.3 297.2 89.7 289.7 90 282.4 90.4 299 90.7 294.8 91.1 273.9 91.4 274.2 91.8 276.1 92.1 270 92.5 274.6 92.8 293.4 93.2 277.9 93.5 287.8 93.9 274.1 94.2 286 94.6 300.5 94.9 269.3 95.3 271.5 95.6 268.4 96 279.4 96.3 271.7 96.7 282.9 97 278.8 97.4 296.3 97.7 280.6 98.1 273.1 98.4 273.5 98.8 275.3 99.1 285.3 99.5 274.8 99.8 297.7 100.2 270.6 100.5 293.6 100.9 299.5 101.2 286.6 101.6 292.3 101.9 294.3 102.3 284.4 102.6 304.7 103 293.3 103.3 300.1 103.7 298.9 104 302.4 104.4 321.1 104.7 307.5 105.1 294.4 105.4 322.4 105.8 330.7 106.1 340.2 106.5 327.8 106.8 312.7 107.2 340.8 107.5 305.2 107.9 310.5 108.2 314.3 108.6 299.6 108.9 302.3 109.3 280.4 109.6 278.7 110 277.7 110.3 280.3 110.7 262.8 111 266 111.4 276 111.7 277.2 112.1 267.5 112.4 260.6 112.8 288 113.1 282 113.5 278.4 113.8 275.9 114.2 289.8 114.5 290.7 114.9 282.5 115.2 280.8 115.6 272.6 115.9 275.5 116.3 287.7 116.6 293.3 117 280.2 117.3 266.3 117.7 270.4 118 282.3 118.4 271.4 118.7 265.2 119.1 282.3 119.4 275.2 119.8 283.7 120.1 288.7 120.5 279.8 120.8 296.6 121.2 276.3 121.5 275.5 121.9 273.4 122.2 284.4 122.6 292.4 122.9 274.6 123.3 275.6 123.6 273.6 124 281.4 124.3 281.2 124.7 288.7 125 293.6 125.4 294.4 125.7 278.1 126.1 291.3 126.4 282.7 126.8 287.7 127.1 289.4 127.5 276.8 127.8 302.2 128.2 289.5 128.5 298.1 128.9 278.7 129.2 290.5 129.6 294.9 129.9 299.5 130.3 287.2 130.6 293.9 131 307.1 131.3 303.9 131.7 294.7 132 289.8 132.4 291.7 132.7 281.7 133.1 281.6 133.4 281.1 133.8 280 134.1 293.7 134.5 292.6 134.8 296.2 135.2 296.3 135.5 306.2 135.9 285.8 136.2 305.2 136.6 307.1 136.9 295.4 137.3 288.6 137.6 296.6 138 298.7 138.3 290.8 138.7 304.7 139 317.2 139.4 293.1 139.7 295 140.1 279.6 140.4 300 140.8 288.2 141.1 310.4 141.5 310.4 141.8 294 142.2 305.1 142.5 310 142.9 315.1 143.2 301.3 143.6 305.6 143.9 296 144.3 286.3 144.6 302.4 145 308.3 145.3 296.2 145.7 314.5 146 302.6 146.4 305 146.7 303 147.1 314 147.4 297.9 147.8 295.8 148.1 291.9 148.5 285.1 148.8 305.2 149.2 295.3 149.5 302.7 149.9 316.4 150.2 288 150.6 293.4 150.9 278 151.3 291.7 151.6 288.9 152 324.1 152.3 320.8 152.7 321.2 153 308.1 153.4 299.1 153.7 309.5 154.1 306.1 154.4 297.9 154.8 331.4 155.1 301.7 155.5 324.2 155.8 317.7 156.2 296.9 156.5 303.4 156.9 313.7 157.2 318.1 157.6 299.7 157.9 319.8 158.3 328.9 158.6 327.1 159 340.5 159.3 295.9 159.7 335.8 160 287.5 160.4 325.4 160.7 322.6" fill="none" stroke="#6ca2de" stroke-width="0.8" stroke-linejoin="round"/>
<path d="M30.5 405.8 31.1 407.7 31.7 407.3 32.3 404.6 32.9 404.5 33.5 405.5 34.1 406.2 34.7 404.1 35.3 404 35.9 405 36.5 402.5 37.1 404.7 37.7 404.9 38.3 404 38.9 404.3 39.5 402.4 40.1 401 40.7 402.9 41.3 403.2 41.9 402.1 42.5 399.5 43.1 400 43.7 399.3 44.3 400.9 44.9 398.5 45.5 397.3 46.1 398.2 46.7 397.5 47.3 396.7 47.9 396.3 48.5 396 49.1 394.9 49.7 393.6 50.3 391.5 50.9 393.3 51.5 390.9 52.1 389.6 52.7 391.4 53.3 388.5 53.9 390.3 54.5 387.7 55.1 388.9 55.7 387.6 56.3 386.2 56.9 383.9 57.5 380.2 58.1 380.6 58.7 378.3 59.3 377.6 59.9 374.5 60.5 373.9 61.1 371.8 61.7 369.9 62.3 368.4 62.9 368.4 63.5 365 64.1 364.2 64.7 362.8 65.3 359.5 65.9 361.8 66.5 360.7 67.1 359.9 67.7 357.1 68.3 357.7 68.9 355.4 69.5 350.8 70.1 350.5 70.7 353.8 71.3 351.3 71.9 352.7 72.5 344.4 73.1 350.1 73.7 345.8 74.3 340.7 74.9 342.5 75.5 344 76.1 339.6 76.7 342.8 77.3 339 77.9 335.8 78.5 339.8 79.1 338.3 79.7 331.8 80.3 332.5 80.9 328.6 81.5 330.2 82.1 328.9 82.7 327.1 83.3 325.2 83.9 323.5 84.5 321.3 85.1 324.2 85.7 322.5 86.3 320.8 86.9 318.7 87.5 318.3 88.1 319 88.7 318.7 89.3 319.3 89.9 315.5 90.5 314.6 91.1 318.9 91.7 316.6 92.3 315.5 92.9 318.1 93.5 317.6 94.1 317.1 94.7 313.4 95.3 314.6 95.9 318.9 96.5 312.4 97.1 318.4 97.7 319.5 98.3 319.2 98.9 319.1 99.5 320.2 100.1 314.7 100.7 316.6 101.3 317.3 101.9 321.1 102.5 321.2 103.1 325.3 103.7 326.3 104.3 331.6 104.9 332.8 105.5 335.3 106.1 341.4 106.7 343.8 107.3 341.9 107.9 334.6 108.5 327.8 109.1 321.1 109.7 317.2 110.3 313.4 110.9 314.6 111.5 315.7 112.1 317 112.7 315 113.3 317.9 113.9 316.1 114.5 318.5 115.1 318.2 115.7 318.4 116.3 317.9 116.9 317.1 117.5 317.1 118.1 321 118.7 317.6 119.3 321.2 119.9 319.8 120.5 322.3 121.1 320.2 121.7 323.7 122.3 321 122.9 323.2 123.5 321.1 124.1 321.4 124.7 322.5 125.3 323.3 125.9 322.4 126.5 321.4 127.1 321.5 127.7 324.6 128.3 324.2 128.9 324 129.5 323.8 130.1 325.5 130.7 322.7 131.3 323.6 131.9 323.6 132.5 324.3 133.1 325.1 133.7 325.9 134.3 325.9 134.9 327.1 135.5 327.6 136.1 327.4 136.7 328.5 137.3 328 137.9 327 138.5 327.9 139.1 329.9 139.7 326.9 140.3 330.1 140.9 326.6 141.5 327.5 142.1 327.7 142.7 328 143.3 327.9 143.9 329.6 144.5 329.6 145.1 328.6 145.7 328.2 146.3 328.6 146.9 329.8 147.5 331.3 148.1 331.6 148.7 333.4 149.3 333.8 149.9 331.2 150.5 331.4 151.1 331 151.7 334.3 152.3 330.8 152.9 331.5 153.5 331.2 154.1 332.6 154.7 330.3 155.3 334 155.9 334.7 156.5 331.8 157.1 337.7 157.7 336.5 158.3 334.2 158.9 337.3 159.5 333.5 160.1 336.9 160.7 335.4 160.7 346.7 160.1 346.3 159.5 343.9 158.9 348.5 158.3 348.6 157.7 346.8 157.1 342.5 156.5 346.7 155.9 346.9 155.3 344.8 154.7 342.4 154.1 340.4 153.5 339.7 152.9 339.7 152.3 340.4 151.7 342.3 151.1 339.5 150.5 341.3 149.9 337.7 149.3 339.8 148.7 338.1 148.1 336.6 147.5 338.6 146.9 338.4 146.3 339.4 145.7 335.5 145.1 337.4 144.5 337.3 143.9 337.6 143.3 337.7 142.7 335.1 142.1 335.2 141.5 335.8 140.9 334.4 140.3 335.4 139.7 333.8 139.1 333.8 138.5 334.4 137.9 334.4 137.3 334.6 136.7 334.5 136.1 333.8 135.5 331.2 134.9 331.3 134.3 330.7 133.7 330.4 133.1 332.1 132.5 332.9 131.9 332.1 131.3 329.7 130.7 329.7 130.1 330.8 129.5 331.1 128.9 329.8 128.3 330.1 127.7 330.6 127.1 330.2 126.5 328 125.9 329.8 125.3 328.1 124.7 328.9 124.1 329.5 123.5 328 122.9 328.9 122.3 327 121.7 327.9 121.1 327.5 120.5 327.2 119.9 328.2 119.3 327.6 118.7 328 118.1 326.6 117.5 325 116.9 325 116.3 323.8 115.7 324.5 115.1 325.9 114.5 323.4 113.9 324 113.3 322.1 112.7 324 112.1 320.5 111.5 323.4 110.9 320 110.3 322.2 109.7 324.2 109.1 327.7 108.5 336.1 107.9 344.1 107.3 350.3 106.7 353.7 106.1 352.6 105.5 343.9 104.9 343.9 104.3 338.9 103.7 339.5 103.1 334.1 102.5 333.2 101.9 332.4 101.3 331 100.7 328.4 100.1 329.5 99.5 332 98.9 331.3 98.3 325.7 97.7 327 97.1 326.9 96.5 326.2 95.9 328.2 95.3 326.8 94.7 323.2 94.1 324.2 93.5 328.5 92.9 328.1 92.3 323.7 91.7 325.2 91.1 327.2 90.5 326.8 89.9 323.3 89.3 326.2 88.7 325.8 88.1 323.7 87.5 327.9 86.9 327.2 86.3 327.1 85.7 329.1 85.1 330.8 84.5 333.1 83.9 334.3 83.3 334.9 82.7 339.2 82.1 339.7 81.5 343.1 80.9 340.5 80.3 340.4 79.7 347.3 79.1 347.4 78.5 348.6 77.9 351.8 77.3 349.1 76.7 349.9 76.1 352.5 75.5 358.2 74.9 355.3 74.3 357.1 73.7 363 73.1 358.3 72.5 360.5 71.9 362.7 71.3 364.3 70.7 362.2 70.1 364 69.5 367.5 68.9 368.6 68.3 364.2 67.7 368.1 67.1 370 66.5 370.2 65.9 371.6 65.3 369 64.7 369.3 64.1 372.5 63.5 375.9 62.9 375.2 62.3 378 61.7 379.9 61.1 380.1 60.5 378.9 59.9 380.4 59.3 382.2 58.7 384.7 58.1 387.5 57.5 388.1 56.9 387.7 56.3 390.7 55.7 390.5 55.1 394.3 54.5 393.7 53.9 394.7 53.3 394.2 52.7 396.3 52.1 396.1 51.5 398.3 50.9 398.5 50.3 397.2 49.7 400.2 49.1 399.6 48.5 400.9 47.9 401.9 47.3 401.9 46.7 402.7 46.1 403.2 45.5 403.6 44.9 404.4 44.3 405.4 43.7 405.4 43.1 405.4 42.5 404.8 41.9 407.4 41.3 407.8 40.7 406.1 40.1 407 39.5 407.8 38.9 406.9 38.3 407.8 37.7 409.6 37.1 408.8 36.5 408.7 35.9 410.2 35.3 409.6 34.7 410.5 34.1 410.4 33.5 410.4 32.9 411.3 32.3 411.6 31.7 412 31.1 412.3 30.5 411.1Z" fill="#a4a600" fill-opacity="0.6"/>
<path d="M30.5 413 30.9 401.6 31.2 411.8 31.6 411.7 31.9 409.9 32.3 410.9 32.6 406.2 33 411.8 33.3 403.5 33.7 403.7 34 412.5 34.4 406.4 34.7 413.6 35.1 410.9 35.4 407.5 35.8 407.3 36.1 406.6 36.5 401.5 36.8 408.6 37.2 409.2 37.5 402.6 37.9 400.5 38.2 397.8 38.6 400.9 38.9 409.8 39.3 399.9 39.6 401.9 40 400.2 40.3 405.3 40.7 407.3 41 400.6 41.4 400.8 41.7 400.4 42.1 406.9 42.4 407.5 42.8 398.2 43.1 408.5 43.5 397.5 43.8 406.9 44.2 401.2 44.5 403.2 44.9 404.2 45.2 405.7 45.6 396 45.9 395.9 46.3 397.8 46.6 398.9 47 397.1 47.3 398.5 47.7 397.7 48 390.6 48.4 400.6 48.7 400.9 49.1 391.8 49.4 391.4 49.8 396.6 50.1 390.1 50.5 392.5 50.8 386.4 51.2 399.6 51.5 386.6 51.9 393.8 52.2 394.3 52.6 390.7 52.9 391.1 53.3 392.9 53.6 394.2 54 386.2 54.3 384.7 54.7 395.2 55 391.1 55.4 385.9 55.7 380.7 56.1 381.5 56.4 390 56.8 377.4 57.1 382.3 57.5 390.1 57.8 387.4 58.2 387 58.5 387.9 58.9 376.2 59.2 384.6 59.6 376.1 59.9 384.9 60.3 367.8 60.6 373.3 61 371 61.3 372 61.7 374.8 62 378.6 62.4 364.5 62.7 381.8 63.1 370.3 63.4 376.9 63.8 376.4 64.1 364.4 64.5 359.7 64.8 367.7 65.2 356.2 65.5 357.8 65.9 363.9 66.2 358.2 66.6 368 66.9 370.8 67.3 369.5 67.6 373.2 68 377.4 68.3 354.7 68.7 350.3 69 370.6 69.4 350.1 69.7 351.4 70.1 350.4 70.4 357.4 70.8 357.4 71.1 350.9 71.5 367 71.8 343.7 72.2 368.6 72.5 367.5 72.9 340.7 73.2 365.1 73.6 361.5 73.9 365.4 74.3 366.4 74.6 362.5 75 328.5 75.3 343.1 75.7 351.3 76 362.6 76.4 336.7 76.7 346.2 77.1 334.6 77.4 343.8 77.8 362.1 78.1 361.1 78.5 333.5 78.8 347.9 79.2 348.8 79.5 342.5 79.9 343.9 80.2 342.6 80.6 329.2 80.9 336.8 81.3 323.2 81.6 343.5 82 338.2 82.3 324.2 82.7 334.3 83 325.5 83.4 332 83.7 333 84.1 316.5 84.4 334.4 84.8 326.8 85.1 325 85.5 340 85.8 332.9 86.2 329.6 86.5 332.9 86.9 320.2 87.2 321.3 87.6 324.5 87.9 322.5 88.3 332.9 88.6 322.6 89 315 89.3 328.9 89.7 316.4 90 315.1 90.4 325.9 90.7 324.5 91.1 326.8 91.4 319.2 91.8 323.1 92.1 332.7 92.5 324.8 92.8 325.8 93.2 309.6 93.5 317.8 93.9 320.6 94.2 320.5 94.6 318.3 94.9 308.5 95.3 322.9 95.6 331.2 96 333.1 96.3 333.1 96.7 328.6 97 318.7 97.4 331.5 97.7 313.1 98.1 303.2 98.4 332.2 98.8 314.4 99.1 318.4 99.5 309.7 99.8 331.7 100.2 316.2 100.5 331.1 100.9 337.3 101.2 331.1 101.6 313 101.9 326.4 102.3 328.3 102.6 317.3 103 318.5 103.3 318.2 103.7 342.2 104 312.2 104.4 326.9 104.7 326.7 105.1 331.4 105.4 331.6 105.8 330.5 106.1 344.5 106.5 363.4 106.8 346.3 107.2 356.7 107.5 348 107.9 343.9 108.2 338.3 108.6 322.7 108.9 312.4 109.3 310.6 109.6 317.8 110 311.1 110.3 322.5 110.7 320.9 111 313.6 111.4 318.6 111.7 318.3 112.1 311.9 112.4 322.7 112.8 313.6 113.1 313.6 113.5 325.6 113.8 320.8 114.2 313.7 114.5 323.6 114.9 327.7 115.2 328.6 115.6 320.2 115.9 327.2 116.3 328.2 116.6 327.2 117 316.9 117.3 310.5 117.7 328 118 321.1 118.4 320 118.7 329.8 119.1 317.3 119.4 317.3 119.8 320.9 120.1 324.3 120.5 319.5 120.8 316 121.2 327.7 121.5 328.6 121.9 317 122.2 324.9 122.6 326.9 122.9 314.1 123.3 321.6 123.6 321.3 124 320.6 124.3 320.2 124.7 322.6 125 318.1 125.4 318.7 125.7 317.9 126.1 320.9 126.4 332.6 126.8 314.5 127.1 322.3 127.5 335.9 127.8 323.1 128.2 323.4 128.5 326.6 128.9 329.5 129.2 326.2 129.6 331.6 129.9 328.5 130.3 325.4 130.6 324.2 131 326.8 131.3 322.1 131.7 322.2 132 322.1 132.4 326.6 132.7 331.6 133.1 338.4 133.4 327.2 133.8 328.3 134.1 339.8 134.5 333.8 134.8 318.4 135.2 325.5 135.5 323.5 135.9 331.8 136.2 330.4 136.6 328.4 136.9 331.1 137.3 340.4 137.6 330.7 138 327.9 138.3 332.3 138.7 324.5 139 324.5 139.4 337.3 139.7 332.1 140.1 329.6 140.4 332.5 140.8 324.5 141.1 334.3 141.5 322.3 141.8 334 142.2 326.1 142.5 338 142.9 326.8 143.2 323.9 143.6 331.4 143.9 335.6 144.3 334.4 144.6 338.7 145 336.5 145.3 332.9 145.7 332.9 146 333.9 146.4 327.4 146.7 338.5 147.1 326.2 147.4 327.8 147.8 336.6 148.1 341.9 148.5 328.8 148.8 330.5 149.2 334.9 149.5 327.2 149.9 339.2 150.2 331 150.6 331 150.9 337.6 151.3 330.4 151.6 343.5 152 342.2 152.3 336.5 152.7 327.2 153 331.4 153.4 346.2 153.7 334.5 154.1 345.1 154.4 340 154.8 321.6 155.1 343 155.5 347.1 155.8 328.7 156.2 345.2 156.5 336.8 156.9 348.1 157.2 322.2 157.6 333.4 157.9 332.3 158.3 355.6 158.6 343.5 159 331.3 159.3 345.8 159.7 357 160 331.6 160.4 347.2 160.7 337.4" fill="none" stroke="#a4a600" stroke-width="0.9" stroke-linejoin="round"/>
<path d="M41.6 414.8 42 398.5 42.4 414.2 43.5 409.9 43.8 415.1 44.5 415.4 44.9 395.4 45.3 414.9 46.4 404.8 46.7 414.2 47.3 415.3 47.7 391.8 48.1 414.8 49.1 403.2 49.4 416.1 50.2 414.5 50.6 393.8 51 412.3 52.1 407.7 52.4 414 53.1 415.4 53.5 387.9 53.9 411.3 55 410.2 55.3 415.4 55.9 409.6 56.3 389.9 56.7 411 57.7 398.6 58 410 58.7 409.6 59.1 385.6 59.5 410.2 60.6 405.9 60.9 413.9 61.5 409.6 61.9 378.1 62.3 412.4 63.4 395 63.7 409.7 64.5 407.2 64.9 382.6 65.3 410.3 66.3 391.3 66.6 413.2 67.3 406.5 67.7 375.9 68.1 411 69.2 393.5 69.5 405.3 70.2 403.7 70.6 378 71 404.5 72 395.3 72.3 410.4 73.2 404.1 73.6 374.5 74 407.8 75 390.5 75.3 408.5 76.2 399.9 76.6 372.6 77 401.8 78 397.8 78.3 402.6 79.1 403.5 79.5 375.6 79.9 402.5 80.9 391.8 81.2 402 82 397.1 82.4 372.7 82.8 397.3 83.8 386.9" fill="none" stroke="#ef8565" stroke-width="0.9" stroke-opacity="0.6" stroke-linejoin="round"/>
<path d="M30.5 409.9 31.1 410 31.7 409.8 32.3 411.3 32.9 410.6 33.5 412.4 34.1 410.5 34.7 409.2 35.3 408.6 35.9 410.9 36.5 410 37.1 410.3 37.7 409 38.3 408.3 38.9 408.7 39.5 410.2 40.1 410.5 40.7 410.3 41.3 407.8 41.9 410.5 42.5 410.2 43.1 407.3 43.7 410.5 44.3 409.4 44.9 407 45.5 406.3 46.1 407.8 46.7 408.2 47.3 407.4 47.9 409.3 48.5 408 49.1 405.3 49.7 408 50.3 407 50.9 405.6 51.5 408.3 52.1 407.3 52.7 407.8 53.3 407.6 53.9 404.4 54.5 403.2 55.1 403.8 55.7 402.6 56.3 403.5 56.9 405.1 57.5 403.5 58.1 403.3 58.7 400.9 59.3 401.1 59.9 401.6 60.5 398.7 61.1 403.2 61.7 398.2 62.3 401.5 62.9 399.2 63.5 401.5 64.1 398.7 64.7 399.4 65.3 398.9 65.9 396.5 66.5 398.8 67.1 397.6 67.7 394.5 68.3 393.6 68.9 393.6 69.5 394.2 70.1 395.3 70.7 394.7 71.3 394.1 71.9 391.4 72.5 397.6 73.1 393.3 73.7 392.6 74.3 389.2 74.9 393 75.5 392.9 76.1 388.3 76.7 387 77.3 388.3 77.9 391.5 78.5 387.9 79.1 385.4 79.7 385.3 80.3 385.1 80.9 382.3 81.5 381.7 82.1 379.2 82.7 382.2 83.3 378.8 83.9 378.4 84.5 377.7 85.1 378 85.7 377.7 86.3 372.9 86.9 372.5 87.5 370.7 88.1 377.4 88.7 371.8 89.3 374.5 89.9 374.4 90.5 372.5 91.1 364.5 91.7 371.2 92.3 369.5 92.9 367.9 93.5 370 94.1 362.7 94.7 365.5 95.3 365.4 95.9 361.7 96.5 361.2 97.1 364.5 97.7 369.2 98.3 362.2 98.9 367.2 99.5 367.2 100.1 362.1 100.7 364.4 101.3 365.3 101.9 367.3 102.5 371.5 103.1 369.9 103.7 371.3 104.3 372.6 104.9 384.6 105.5 379.7 106.1 391.8 106.7 395.6 107.3 383.5 107.9 379.6 108.5 370.1 109.1 365.6 109.7 367.4 110.3 369.1 110.9 371.1 111.5 370.4 112.1 368.4 112.7 368.7 113.3 371.4 113.9 372.3 114.5 373.6 115.1 373.4 115.7 371.2 116.3 372.4 116.9 373.1 117.5 371.8 118.1 375.1 118.7 373.7 119.3 373.3 119.9 372.4 120.5 375.9 121.1 372.9 121.7 371.7 122.3 376.3 122.9 380 123.5 377.8 124.1 379.4 124.7 374.1 125.3 380.7 125.9 379.8 126.5 379.7 127.1 378.8 127.7 381.6 128.3 375.8 128.9 383.7 129.5 378.3 130.1 378.8 130.7 381.6 131.3 383.8 131.9 377.8 132.5 381.2 133.1 383.7 133.7 386.1 134.3 381.9 134.9 379.3 135.5 385.3 136.1 380.9 136.7 381.5 137.3 388.3 137.9 388.1 138.5 381.9 139.1 386.5 139.7 383.7 140.3 389.9 140.9 385.2 141.5 386.4 142.1 388.7 142.7 385.9 143.3 386.2 143.9 392.5 144.5 388.1 145.1 392.2 145.7 389.2 146.3 392.7 146.9 388.4 147.5 390.6 148.1 393.5 148.7 392.1 149.3 389.7 149.9 394 150.5 396.8 151.1 397.3 151.7 394.8 152.3 396.6 152.9 393.8 153.5 394.7 154.1 398.3 154.7 398.3 155.3 397.6 155.9 400 156.5 398.7 157.1 395.7 157.7 400.5 158.3 400 158.9 396.3 159.5 398.5 160.1 398.2 160.7 401.9 160.7 411.9 160.1 411 159.5 409.6 158.9 409.6 158.3 410.9 157.7 406.1 157.1 406 156.5 405.5 155.9 405.6 155.3 409.3 154.7 408.4 154.1 408.6 153.5 405.9 152.9 404.9 152.3 405.7 151.7 403.9 151.1 406.4 150.5 406.2 149.9 406.5 149.3 406.2 148.7 403.3 148.1 400 147.5 405.1 146.9 402.3 146.3 402.7 145.7 404 145.1 399.2 144.5 400.9 143.9 397.7 143.3 401.8 142.7 400.6 142.1 401.1 141.5 398.9 140.9 398.2 140.3 398.3 139.7 400.2 139.1 395.4 138.5 399.1 137.9 397 137.3 394.9 136.7 393 136.1 395.7 135.5 397.3 134.9 392.9 134.3 393.4 133.7 393.9 133.1 396.2 132.5 395 131.9 393.2 131.3 390.8 130.7 394.4 130.1 392.8 129.5 390.6 128.9 390.8 128.3 389.5 127.7 388.6 127.1 392.6 126.5 390.2 125.9 391.3 125.3 392.6 124.7 386.7 124.1 391.9 123.5 392 122.9 387.9 122.3 387.4 121.7 384.7 121.1 389.6 120.5 390.3 119.9 385.5 119.3 389 118.7 388.7 118.1 382.5 117.5 384.7 116.9 384 116.3 381.4 115.7 384 115.1 382 114.5 381.4 113.9 384.6 113.3 379.2 112.7 378.9 112.1 381.2 111.5 380.6 110.9 382.6 110.3 379.5 109.7 378.5 109.1 378 108.5 383 107.9 389.4 107.3 398.1 106.7 404.5 106.1 399.7 105.5 397.7 104.9 391.9 104.3 388.8 103.7 390.4 103.1 390.9 102.5 387.3 101.9 381.6 101.3 383 100.7 380 100.1 382.9 99.5 380.7 98.9 384.2 98.3 384.9 97.7 380.1 97.1 384.8 96.5 377.1 95.9 378.6 95.3 382.1 94.7 380.3 94.1 386.1 93.5 384.7 92.9 386.5 92.3 382.2 91.7 386 91.1 388.1 90.5 383.2 89.9 382.1 89.3 387.2 88.7 389.2 88.1 391.1 87.5 386.4 86.9 392.1 86.3 391.1 85.7 387.1 85.1 391.7 84.5 390.8 83.9 395.4 83.3 389.5 82.7 395.5 82.1 390.8 81.5 393.3 80.9 393.4 80.3 395.6 79.7 399 79.1 401.1 78.5 401.7 77.9 399.4 77.3 402.3 76.7 400.1 76.1 404.7 75.5 402.2 74.9 401.6 74.3 403.4 73.7 404.1 73.1 403.6 72.5 404.3 71.9 403.9 71.3 404.9 70.7 408.3 70.1 408.7 69.5 404.1 68.9 406.6 68.3 408.4 67.7 409.4 67.1 404.9 66.5 405 65.9 409 65.3 406.6 64.7 408.4 64.1 409.3 63.5 410.7 62.9 410.8 62.3 407.8 61.7 412.1 61.1 411.2 60.5 412 59.9 411.6 59.3 408.8 58.7 408.8 58.1 410.5 57.5 410.5 56.9 409.2 56.3 412 55.7 410.7 55.1 411.8 54.5 410.6 53.9 412.1 53.3 412.6 52.7 414.3 52.1 413.9 51.5 411.3 50.9 414.3 50.3 414.1 49.7 411.8 49.1 414.7 48.5 413.8 47.9 414.5 47.3 413.1 46.7 413 46.1 412.6 45.5 414.7 44.9 413.2 44.3 416 43.7 414 43.1 413.7 42.5 416.3 41.9 413.3 41.3 413.5 40.7 415.2 40.1 413.6 39.5 415.8 38.9 416 38.3 416 37.7 416.5 37.1 415.9 36.5 414.2 35.9 415 35.3 414.8 34.7 416 34.1 415.9 33.5 416.1 32.9 416.8 32.3 415.3 31.7 415.4 31.1 414.9 30.5 415.5Z" fill="#ef8565" fill-opacity="0.6"/>
<path d="M30.5 409.5 30.9 407.1 31.2 409.9 31.6 416 31.9 420.9 32.3 408.1 32.6 411.8 33 418.8 33.3 405.4 33.7 403.9 34 416.9 34.4 406.9 34.7 420.7 35.1 413.5 35.4 408.8 35.8 413.7 36.1 412.3 36.5 417.2 36.8 406.2 37.2 412.4 37.5 415.4 37.9 406.7 38.2 402.5 38.6 411.3 38.9 409 39.3 405.7 39.6 421.6 40 410.6 40.3 405.7 40.7 416.8 41 415.3 41.4 411 41.7 408.6 42.1 410.8 42.4 410.4 42.8 417.5 43.1 408.1 43.5 415.2 43.8 417.1 44.2 404.8 44.5 408.9 44.9 412 45.2 407.7 45.6 411.1 45.9 416.1 46.3 409.1 46.6 407 47 406.9 47.3 409.1 47.7 404 48 403.6 48.4 404.5 48.7 412.9 49.1 413.2 49.4 409.2 49.8 407.3 50.1 414.6 50.5 407.9 50.8 410.2 51.2 416.7 51.5 410.3 51.9 410.5 52.2 397.4 52.6 419.8 52.9 402 53.3 402.1 53.6 406.9 54 413.3 54.3 403.6 54.7 416.7 55 412.6 55.4 405.1 55.7 408.9 56.1 408.1 56.4 412.6 56.8 419.7 57.1 409.4 57.5 401.1 57.8 397.3 58.2 413.9 58.5 404.7 58.9 408.8 59.2 407.8 59.6 396.6 59.9 396.2 60.3 405.2 60.6 405.1 61 396.9 61.3 407.3 61.7 399 62 399.9 62.4 399.5 62.7 405.1 63.1 400.1 63.4 396.7 63.8 408 64.1 394.4 64.5 403.7 64.8 402.3 65.2 404.2 65.5 407.2 65.9 396.9 66.2 404.8 66.6 413.6 66.9 395.5 67.3 404 67.6 398.7 68 390.3 68.3 397.8 68.7 400.4 69 408.8 69.4 395.7 69.7 389.6 70.1 395.3 70.4 393.7 70.8 404.2 71.1 404.1 71.5 402.9 71.8 399.8 72.2 389.6 72.5 399.7 72.9 406.6 73.2 397.7 73.6 404.2 73.9 394.8 74.3 404.3 74.6 386.5 75 399.1 75.3 395 75.7 394.4 76 398.2 76.4 375.9 76.7 413.9 77.1 384.4 77.4 400.2 77.8 412 78.1 401.5 78.5 385.8 78.8 374.4 79.2 384 79.5 396.8 79.9 390.6 80.2 400.5 80.6 391.7 80.9 395.7 81.3 401.6 81.6 393.8 82 375.2 82.3 385.5 82.7 392.9 83 397.1 83.4 373.8 83.7 396.9 84.1 406.2 84.4 395.4 84.8 375.8 85.1 369.8 85.5 394.7 85.8 375.4 86.2 377.1 86.5 380 86.9 396.4 87.2 374.6 87.6 382.4 87.9 357.9 88.3 354 88.6 374.6 89 398.5 89.3 384.2 89.7 373.6 90 365.3 90.4 381.3 90.7 384.2 91.1 372.8 91.4 356.7 91.8 386 92.1 370 92.5 370.8 92.8 375.3 93.2 378.9 93.5 348.5 93.9 355.4 94.2 385.1 94.6 390.3 94.9 386 95.3 374.9 95.6 384.4 96 378.2 96.3 365.9 96.7 358.8 97 361.2 97.4 361.5 97.7 379.3 98.1 371.8 98.4 364.6 98.8 369.2 99.1 370.5 99.5 355.5 99.8 357.6 100.2 350.8 100.5 382.1 100.9 395.8 101.2 382 101.6 364.4 101.9 382.3 102.3 368 102.6 372.1 103 360.9 103.3 391.6 103.7 368.7 104 405.4 104.4 379 104.7 384.1 105.1 399.4 105.4 395.9 105.8 395 106.1 395.3 106.5 412.9 106.8 398 107.2 411.7 107.5 391.5 107.9 385 108.2 385.6 108.6 375.5 108.9 369.7 109.3 371.3 109.6 385.9 110 380 110.3 379 110.7 351.2 111 373.1 111.4 367.8 111.7 381.8 112.1 373.4 112.4 375.9 112.8 382.6 113.1 382.4 113.5 382.1 113.8 368.7 114.2 368.9 114.5 365.7 114.9 380.6 115.2 375.8 115.6 370.4 115.9 375.2 116.3 367.2 116.6 398.6 117 369 117.3 388.2 117.7 377.8 118 381.5 118.4 380.1 118.7 371.5 119.1 390.7 119.4 399.7 119.8 367.6 120.1 380.4 120.5 382.8 120.8 390.2 121.2 380.6 121.5 373.5 121.9 370.1 122.2 384.4 122.6 391.9 122.9 370.2 123.3 387.4 123.6 376.2 124 373.9 124.3 369.6 124.7 392 125 389.6 125.4 386.3 125.7 374.5 126.1 385.4 126.4 385.7 126.8 374.6 127.1 394.9 127.5 395.4 127.8 396.1 128.2 384.4 128.5 398.1 128.9 389.3 129.2 385.7 129.6 384.9 129.9 389 130.3 396.2 130.6 377.4 131 376.3 131.3 384.9 131.7 392.7 132 373.2 132.4 397.7 132.7 376.9 133.1 384 133.4 398.2 133.8 385.4 134.1 386.6 134.5 401.5 134.8 389.3 135.2 381.2 135.5 382.9 135.9 398.9 136.2 396.8 136.6 384.1 136.9 402 137.3 384.6 137.6 388.9 138 394.9 138.3 392.2 138.7 390.9 139 407.3 139.4 379.5 139.7 392.9 140.1 386.8 140.4 407.7 140.8 381.7 141.1 386.7 141.5 398.3 141.8 375.7 142.2 382.8 142.5 394.3 142.9 398.6 143.2 385 143.6 406 143.9 375.5 144.3 382.3 144.6 404.7 145 383.4 145.3 403.3 145.7 387.2 146 386.2 146.4 403.4 146.7 399.6 147.1 384.7 147.4 389.2 147.8 391.5 148.1 403.1 148.5 387.9 148.8 408.3 149.2 403.1 149.5 407.3 149.9 414.9 150.2 398.9 150.6 416.2 150.9 387 151.3 399.3 151.6 392.6 152 398.5 152.3 413.7 152.7 400.8 153 411.5 153.4 404.8 153.7 397.2 154.1 408 154.4 391.1 154.8 396 155.1 412.2 155.5 403.1 155.8 392.6 156.2 407.5 156.5 410.8 156.9 407.4 157.2 402.9 157.6 405.2 157.9 412.3 158.3 404 158.6 403.8 159 399.3 159.3 386.2 159.7 401.2 160 413.7 160.4 416.9 160.7 409.2" fill="none" stroke="#ef8565" stroke-width="0.9" stroke-linejoin="round"/>
<path d="M205 415.2 205.6 411.6 206.2 416.5 206.8 413.8 207.4 413.6 208 415.3 208.6 411.5 209.2 410.6 209.8 408.6 210.4 406.4 211 413.7 211.6 412.3 212.2 414.8 212.8 409.1 213.4 413 214 410.4 214.6 411.3 215.2 406.2 215.8 409.6 216.4 403.2 217 409.8 217.6 405.7 218.2 410.6 218.8 407.5 219.4 406.6 220 407.9 220.6 407.6 221.2 407.2 221.8 400.9 222.4 402.9 223 406.2 223.6 402.7 224.2 404.2 224.8 398.9 225.4 406.9 226 400.2 226.6 408.1 227.2 401.2 227.8 400.3 228.4 403.1 229 406 229.6 402.1 230.2 405.8 230.8 407.4 231.4 404.6 232 397.5 232.6 404.2 233.2 396.3 233.8 406.5 234.4 401.1 235 398.4 235.6 397.4 236.2 398 236.8 403.1 237.4 395.1 238 395.8 238.6 397.4 239.2 398.8 239.8 402.6 240.4 393.1 241 393.6 241.6 401.9 242.2 394.9 242.8 398.7 243.4 391.3 244 394 244.6 396.4 245.2 393.2 245.8 396 246.4 385.6 247 388.2 247.6 393.2 248.2 390.5 248.8 384.5 249.4 383.5 250 392.4 250.6 381.2 251.2 376 251.8 361.9 252.4 355.6 253 351 253.6 356.1 254.2 336.6 254.8 338.7 255.4 328.8 256 322.4 256.6 317.1 257.2 315.2 257.8 311.9 258.4 310.5 259 313.5 259.6 311.7 260.2 307.6 260.8 297.9 261.4 297.3 262 297.9 262.6 302 263.2 301.2 263.8 300.7 264.4 299.8 265 294.5 265.6 294.2 266.2 298.4 266.8 294.8 267.4 297.2 268 292.2 268.6 288.1 269.2 291.6 269.8 286.2 270.4 294.8 271 296 271.6 290.9 272.2 292.1 272.8 292.9 273.4 298.3 274 293.8 274.6 293.6 275.2 294.4 275.8 305.9 276.4 308.5 277 305.6 277.6 311.4 278.2 320.4 278.8 323.1 279.4 317.5 280 314.2 280.6 308.5 281.2 301.5 281.8 291.9 282.4 289 283 283.9 283.6 289 284.2 288.4 284.8 288.1 285.4 287.3 286 283.6 286.6 288.9 287.2 285.1 287.8 290.1 288.4 285.4 289 283.3 289.6 289.8 290.2 287.8 290.8 289.1 291.4 285.8 292 293.2 292.6 286.9 293.2 296.1 293.8 291.9 294.4 293.1 295 293.7 295.6 289.8 296.2 295.9 296.8 299 297.4 294 298 293.8 298.6 296.3 299.2 302.3 299.8 299.1 300.4 297.3 301 299.5 301.6 298.5 302.2 303.4 302.8 306.5 303.4 303.9 304 306.3 304.6 305.1 305.2 302.1 305.8 310.1 306.4 304.8 307 306.2 307.6 304.5 308.2 307.3 308.8 312.9 309.4 308.7 310 309.1 310.6 308.6 311.2 309.8 311.8 310.2 312.4 315.1 313 310.5 313.6 315.2 314.2 309.7 314.8 314.8 315.4 318.7 316 313 316.6 316.6 317.2 316.4 317.8 314.3 318.4 320.2 319 314.2 319.6 316.7 320.2 321.1 320.8 322.4 321.4 322 322 323 322.6 325.7 323.2 320.1 323.8 319.8 324.4 323.9 325 324.6 325.6 327.7 326.2 324.5 326.8 324.6 327.4 330.4 328 326.3 328.6 332 329.2 326.3 329.8 327.9 330.4 332.5 331 333.9 331.6 328.7 332.2 335.5 332.8 331.4 333.4 330.3 334 331.6 334.6 338.3 334.6 350.8 334 343.8 333.4 349 332.8 348.3 332.2 343.6 331.6 343.7 331 343.9 330.4 344.3 329.8 345.7 329.2 341.7 328.6 340.9 328 343.7 327.4 336.2 326.8 338.7 326.2 337 325.6 335.2 325 336.7 324.4 336 323.8 336.8 323.2 335.1 322.6 334.7 322 337.2 321.4 332.4 320.8 331.9 320.2 330.7 319.6 328.7 319 329.9 318.4 334.9 317.8 331 317.2 331.2 316.6 332.1 316 326.9 315.4 328.9 314.8 324.6 314.2 325.1 313.6 329.7 313 328.8 312.4 328 311.8 329 311.2 323.9 310.6 323.2 310 324.4 309.4 326.5 308.8 319.6 308.2 324.4 307.6 320.7 307 323.8 306.4 323.4 305.8 318.5 305.2 322 304.6 317.8 304 319.2 303.4 314.8 302.8 317.7 302.2 315.9 301.6 312.1 301 314.6 300.4 313.5 299.8 312.3 299.2 313.6 298.6 313.6 298 308 297.4 309.6 296.8 310.5 296.2 309.8 295.6 308.4 295 308.4 294.4 310.5 293.8 303.7 293.2 308.1 292.6 306 292 304.7 291.4 306.1 290.8 303.1 290.2 300.5 289.6 300.1 289 302.6 288.4 301 287.8 300.3 287.2 300.9 286.6 298.3 286 297.6 285.4 294.2 284.8 296.5 284.2 297.9 283.6 295.3 283 299 282.4 295.4 281.8 304.5 281.2 310.1 280.6 316.5 280 323.9 279.4 332.4 278.8 331.1 278.2 327.2 277.6 326.3 277 324 276.4 319.1 275.8 317.4 275.2 311.3 274.6 313.5 274 308.2 273.4 309 272.8 308.5 272.2 308.4 271.6 308 271 307.6 270.4 304.3 269.8 305.1 269.2 305.2 268.6 303.8 268 305.5 267.4 304.6 266.8 308.6 266.2 305.8 265.6 309.2 265 306.2 264.4 310.3 263.8 314.4 263.2 314.2 262.6 309.4 262 312.8 261.4 316.1 260.8 323.4 260.2 324.3 259.6 328.9 259 330.5 258.4 330.9 257.8 336.8 257.2 339.6 256.6 348.3 256 352.6 255.4 358.2 254.8 355 254.2 369.4 253.6 376.3 253 374.8 252.4 378.5 251.8 387.8 251.2 391.5 250.6 400.1 250 410.4 249.4 408.3 248.8 409.8 248.2 407.5 247.6 405 247 405.5 246.4 413.9 245.8 407.6 245.2 408.1 244.6 417.8 244 416.5 243.4 414.2 242.8 413.5 242.2 412.4 241.6 418.1 241 416.6 240.4 413.8 239.8 418.8 239.2 420.6 238.6 419.7 238 415.5 237.4 412.6 236.8 413.6 236.2 413.7 235.6 417.7 235 418.1 234.4 421.7 233.8 416.3 233.2 418 232.6 417 232 414.5 231.4 416.2 230.8 416 230.2 420.1 229.6 418 229 417.7 228.4 416.6 227.8 415.7 227.2 419.1 226.6 424.1 226 422.1 225.4 424 224.8 417.3 224.2 421.3 223.6 423.5 223 424.8 222.4 418.5 221.8 418.6 221.2 420.3 220.6 424.8 220 420.3 219.4 425.6 218.8 422.1 218.2 426.3 217.6 421.4 217 419.7 216.4 422.3 215.8 423.7 215.2 424.7 214.6 428.5 214 424.1 213.4 426.7 212.8 424.2 212.2 425.1 211.6 429.5 211 428.2 210.4 430.1 209.8 426.3 209.2 424.4 208.6 425.7 208 430.5 207.4 429.9 206.8 432 206.2 425 205.6 427.3 205 426.1Z" fill="#6ca2de" fill-opacity="0.45"/>
<path d="M205 405.7 205.3 416.8 205.7 413.2 206 433.6 206.4 415.5 206.7 403.7 207.1 422.1 207.4 432.3 207.8 403.9 208.1 413.1 208.5 435.1 208.8 412.9 209.2 401.9 209.5 428.1 209.9 406.2 210.2 411.3 210.6 427.3 210.9 428.4 211.3 402.1 211.6 426 212 419.2 212.3 411.7 212.7 418.9 213 433.8 213.4 424.7 213.7 417.3 214.1 401.8 214.4 410.2 214.8 418.3 215.1 426.3 215.5 405.7 215.8 432.7 216.2 407.4 216.5 415.1 216.9 411.9 217.2 418.7 217.6 424.9 217.9 425.9 218.3 409.2 218.6 421.9 219 430.9 219.3 424.5 219.7 398.7 220 401.4 220.4 410.4 220.7 416.5 221.1 401.6 221.4 426.1 221.8 407.8 222.1 429.7 222.5 407 222.8 395.2 223.2 404.4 223.5 426.8 223.9 408.2 224.2 421.9 224.6 396.1 224.9 428.4 225.3 428.5 225.6 425.4 226 416.5 226.3 396.7 226.7 408.2 227 404.5 227.4 427 227.7 422.1 228.1 417.1 228.4 402.5 228.8 400.7 229.1 405.4 229.5 417.9 229.8 421.5 230.2 412.5 230.5 424 230.9 399.7 231.2 394.6 231.6 397.8 231.9 423.3 232.3 398.2 232.6 438.1 233 422.6 233.3 401.1 233.7 419.4 234 396.1 234.4 401.2 234.7 402.9 235.1 402 235.4 392.3 235.8 387.6 236.1 426 236.5 377.9 236.8 410.4 237.2 415.5 237.5 393.2 237.9 391.1 238.2 390.3 238.6 398.6 238.9 426.3 239.3 415.8 239.6 394.7 240 387.2 240.3 415.4 240.7 396.3 241 421.9 241.4 396.6 241.7 412 242.1 423.1 242.4 419.1 242.8 401.7 243.1 406.9 243.5 393 243.8 410.9 244.2 400.1 244.5 408.8 244.9 391.6 245.2 423.8 245.6 398 245.9 397.5 246.3 420.6 246.6 388.3 247 393.6 247.3 378.4 247.7 422 248 401.6 248.4 369.7 248.7 375.5 249.1 387.4 249.4 407.5 249.8 383.2 250.1 395.8 250.5 388.3 250.8 377.6 251.2 361.5 251.5 404.1 251.9 360 252.2 351.8 252.6 375.3 252.9 386.6 253.3 358.5 253.6 396.1 254 330.6 254.3 352.8 254.7 340.7 255 332.2 255.4 365.1 255.7 353.7 256.1 339.9 256.4 328 256.8 335.7 257.1 337 257.5 358.2 257.8 327.1 258.2 304.2 258.5 339.8 258.9 315.1 259.2 329 259.6 297.7 259.9 302.6 260.3 322.9 260.6 293.9 261 315.8 261.3 301 261.7 318.7 262 315.4 262.4 318.5 262.7 310.6 263.1 308.3 263.4 318.8 263.8 319 264.1 328.5 264.5 289.8 264.8 306.5 265.2 288 265.5 302.1 265.9 299.1 266.2 305 266.6 291.2 266.9 308.4 267.3 289.7 267.6 303.1 268 318.9 268.3 301.7 268.7 314.2 269 302 269.4 301.8 269.7 286.8 270.1 281.2 270.4 309.3 270.8 294.8 271.1 281.3 271.5 293.3 271.8 308 272.2 302.5 272.5 286.7 272.9 299.7 273.2 295.6 273.6 307.4 273.9 292.9 274.3 300.3 274.6 294 275 313.6 275.3 312.9 275.7 316.2 276 304.8 276.4 322.6 276.7 319.7 277.1 310.9 277.4 322.8 277.8 329.1 278.1 332.5 278.5 324.8 278.8 320.1 279.2 331.4 279.5 321.2 279.9 298.9 280.2 315 280.6 317.1 280.9 294.5 281.3 294.3 281.6 294.4 282 300.3 282.3 292.6 282.7 294.9 283 281.1 283.4 302.3 283.7 281.6 284.1 296.4 284.4 299.4 284.8 281.5 285.1 282.5 285.5 302.6 285.8 295.7 286.2 301.6 286.5 279.4 286.9 272.6 287.2 300.9 287.6 295.9 287.9 313.7 288.3 304.2 288.6 305.7 289 282.8 289.3 302.3 289.7 295.1 290 301.3 290.4 293.9 290.7 293.6 291.1 300.3 291.4 307.6 291.8 276.5 292.1 283.5 292.5 298.2 292.8 300.8 293.2 297.1 293.5 296.3 293.9 284.4 294.2 301.3 294.6 304.5 294.9 285.6 295.3 292.7 295.6 319.4 296 299.6 296.3 291.4 296.7 299.8 297 309.7 297.4 307 297.7 295.8 298.1 301.6 298.4 318.9 298.8 313.1 299.1 297.1 299.5 318.6 299.8 308.4 300.2 303.9 300.5 312.2 300.9 300.8 301.2 320.2 301.6 293.9 301.9 295.1 302.3 296.5 302.6 307.7 303 310.5 303.3 315 303.7 321.7 304 309.4 304.4 316.1 304.7 299.8 305.1 321.2 305.4 325.2 305.8 303.1 306.1 297.7 306.5 314.5 306.8 301.7 307.2 306.6 307.5 299.8 307.9 311.2 308.2 314.1 308.6 310.7 308.9 306 309.3 301.8 309.6 296.9 310 309 310.3 295.7 310.7 330.9 311 331.7 311.4 324.8 311.7 332.5 312.1 316.3 312.4 333 312.8 300.7 313.1 331.3 313.5 311.3 313.8 333 314.2 307 314.5 327.1 314.9 327.5 315.2 329.8 315.6 315.3 315.9 310.8 316.3 317 316.6 339.7 317 326.5 317.3 323.4 317.7 330.2 318 302.5 318.4 317.6 318.7 318.1 319.1 336.7 319.4 323.3 319.8 333.2 320.1 330.8 320.5 317.2 320.8 333.6 321.2 320.7 321.5 334.5 321.9 317.9 322.2 337.6 322.6 315.7 322.9 349.8 323.3 336.9 323.6 323.5 324 335.6 324.3 339.4 324.7 340.1 325 328.8 325.4 335.9 325.7 317.9 326.1 323.1 326.4 331.5 326.8 326.9 327.1 345.6 327.5 334.5 327.8 323.3 328.2 320.8 328.5 350.8 328.9 339.5 329.2 326 329.6 341.3 329.9 340.1 330.3 347.8 330.6 325.8 331 355.4 331.3 331.5 331.7 349.6 332 344.8 332.4 325.1 332.7 349.9 333.1 330.2 333.4 347.7 333.8 329.9 334.1 345 334.5 339.3 334.8 331.4" fill="none" stroke="#6ca2de" stroke-width="0.8" stroke-linejoin="round"/>
<path d="M205 413 205.6 408.8 206.2 409.7 206.8 408.4 207.4 411.9 208 409.7 208.6 411 209.2 406.5 209.8 411.3 210.4 411.2 211 405.3 211.6 408.9 212.2 408.6 212.8 405.2 213.4 409.4 214 406.9 214.6 405 215.2 406.9 215.8 403.5 216.4 403.1 217 406.3 217.6 405.8 218.2 404 218.8 407.4 219.4 403.1 220 406.4 220.6 402.5 221.2 405.8 221.8 400.2 222.4 405 223 405.2 223.6 402.7 224.2 401.3 224.8 401.1 225.4 399.9 226 397.7 226.6 395.8 227.2 396.2 227.8 392.5 228.4 387.9 229 392.2 229.6 392.2 230.2 384.9 230.8 382.1 231.4 382.2 232 377.8 232.6 382.1 233.2 373.6 233.8 378.7 234.4 371.5 235 367.6 235.6 372.6 236.2 371.4 236.8 363.1 237.4 365.8 238 367.4 238.6 364.9 239.2 359.1 239.8 356.5 240.4 355.6 241 354.9 241.6 351.9 242.2 352.9 242.8 346 243.4 347.6 244 345.3 244.6 334.8 245.2 338.7 245.8 341.4 246.4 338.6 247 331.4 247.6 329.3 248.2 327.4 248.8 334.4 249.4 337.1 250 334.1 250.6 332.9 251.2 331.5 251.8 335.2 252.4 327.8 253 334.1 253.6 332.1 254.2 331.2 254.8 335.6 255.4 330.6 256 333.4 256.6 334.1 257.2 338.8 257.8 336.6 258.4 335.5 259 327.9 259.6 332.5 260.2 328.5 260.8 332.6 261.4 329.1 262 328.7 262.6 329 263.2 324.6 263.8 329.5 264.4 331.8 265 331.9 265.6 324.7 266.2 322 266.8 323.6 267.4 324.9 268 321.9 268.6 323.7 269.2 326.5 269.8 323.5 270.4 326.9 271 326.2 271.6 324.7 272.2 327.2 272.8 332.5 273.4 326.1 274 327.9 274.6 331.7 275.2 329.4 275.8 334.8 276.4 337.9 277 342.1 277.6 343.2 278.2 349.8 278.8 349.7 279.4 350.2 280 349.4 280.6 346.4 281.2 339.1 281.8 339 282.4 338.6 283 332.8 283.6 330.6 284.2 334.3 284.8 331.5 285.4 335.5 286 340.7 286.6 340.8 287.2 342.9 287.8 338.8 288.4 345.6 289 340.2 289.6 343.2 290.2 342.6 290.8 352.1 291.4 345 292 352.5 292.6 345.2 293.2 348.7 293.8 351.2 294.4 352.6 295 352.5 295.6 355.1 296.2 350.8 296.8 349.1 297.4 349.2 298 355 298.6 348 299.2 348.4 299.8 351.8 300.4 350 301 350.6 301.6 357.6 302.2 357.6 302.8 354.5 303.4 352 304 353.3 304.6 357.4 305.2 358.8 305.8 354.6 306.4 359.4 307 354.7 307.6 358.7 308.2 361.4 308.8 356.4 309.4 357.4 310 361.8 310.6 356.1 311.2 355.4 311.8 359.3 312.4 359.3 313 361.1 313.6 362.3 314.2 358.6 314.8 358.7 315.4 360.6 316 358.4 316.6 358.8 317.2 361.9 317.8 361.1 318.4 360.7 319 360.3 319.6 363.2 320.2 366.4 320.8 365.1 321.4 361.6 322 361.4 322.6 368.5 323.2 365.8 323.8 363.6 324.4 366.7 325 368.2 325.6 366.6 326.2 368.9 326.8 365.3 327.4 371.1 328 366.5 328.6 365.4 329.2 371.2 329.8 367.2 330.4 368.1 331 369.7 331.6 372.5 332.2 368.3 332.8 371.1 333.4 370.4 334 371.1 334.6 372.2 334.6 386.4 334 383.1 333.4 384.5 332.8 380.8 332.2 383 331.6 383.2 331 378 330.4 377.9 329.8 381.6 329.2 379 328.6 380.7 328 383.1 327.4 381.6 326.8 381.7 326.2 376.3 325.6 381.1 325 381.2 324.4 380.1 323.8 381.1 323.2 375.6 322.6 379.4 322 378.1 321.4 378.3 320.8 376.4 320.2 378.8 319.6 373.5 319 378.7 318.4 374.1 317.8 376.5 317.2 375.7 316.6 374.8 316 373.9 315.4 375.7 314.8 371.8 314.2 376.3 313.6 375.3 313 370.1 312.4 373.2 311.8 375.2 311.2 373.9 310.6 371.2 310 368.5 309.4 373.9 308.8 371.6 308.2 369.8 307.6 371.5 307 372.3 306.4 371.5 305.8 367.8 305.2 369.1 304.6 367 304 368.9 303.4 368.1 302.8 367.7 302.2 369.5 301.6 364.3 301 370.1 300.4 363.6 299.8 368.4 299.2 368.1 298.6 366.2 298 363.5 297.4 365.1 296.8 367.7 296.2 363.8 295.6 362.3 295 361 294.4 361 293.8 364.4 293.2 364 292.6 359.8 292 363.9 291.4 364.2 290.8 358.7 290.2 357.1 289.6 358.1 289 357.4 288.4 358.9 287.8 357 287.2 351.2 286.6 349.7 286 349.3 285.4 347.6 284.8 345.3 284.2 347.9 283.6 344 283 343.3 282.4 349.3 281.8 348.6 281.2 355.6 280.6 355.7 280 357.8 279.4 362.9 278.8 362.2 278.2 357.9 277.6 359.1 277 356.4 276.4 354.3 275.8 350.1 275.2 351.8 274.6 346.4 274 345.7 273.4 347.3 272.8 345.3 272.2 345.1 271.6 341.3 271 340.9 270.4 343 269.8 341.4 269.2 338.6 268.6 335.4 268 336 267.4 340.1 266.8 339.6 266.2 343.5 265.6 341.3 265 340.3 264.4 343.5 263.8 341.3 263.2 343.5 262.6 345 262 347 261.4 342.4 260.8 350.5 260.2 343.3 259.6 348.9 259 353 258.4 354.2 257.8 351.1 257.2 351.4 256.6 352.4 256 351.3 255.4 349 254.8 349.3 254.2 345.8 253.6 350.5 253 346.9 252.4 352.7 251.8 354.2 251.2 346.7 250.6 348.1 250 353.8 249.4 353 248.8 348.1 248.2 345.3 247.6 355 247 353.9 246.4 357.1 245.8 350.9 245.2 355.1 244.6 361.4 244 362.4 243.4 365.2 242.8 366.1 242.2 370.2 241.6 371.8 241 366.8 240.4 370 239.8 378.9 239.2 378.4 238.6 382.7 238 376.3 237.4 377.6 236.8 386 236.2 387.4 235.6 382.4 235 384.2 234.4 391 233.8 394.1 233.2 392.3 232.6 391.6 232 394.8 231.4 395.7 230.8 395.5 230.2 397.4 229.6 403.2 229 403 228.4 406.3 227.8 407.4 227.2 409.9 226.6 406.8 226 411.8 225.4 413.6 224.8 412.7 224.2 414 223.6 412.8 223 415.6 222.4 416 221.8 415.3 221.2 416.2 220.6 415.4 220 413.2 219.4 412.2 218.8 417 218.2 414.3 217.6 414.4 217 413.8 216.4 413.4 215.8 415.6 215.2 415.6 214.6 414.9 214 414.8 213.4 418.9 212.8 418.9 212.2 417.8 211.6 418.4 211 417.7 210.4 417.2 209.8 415.6 209.2 417.8 208.6 420.2 208 420.7 207.4 417.1 206.8 419.1 206.2 422 205.6 420.4 205 419.2Z" fill="#a4a600" fill-opacity="0.6"/>
<path d="M205 419.3 205.3 420.9 205.7 427.9 206 411.5 206.4 415.2 206.7 404.4 207.1 402.7 207.4 407.1 207.8 428.5 208.1 411.8 208.5 411.3 208.8 422.6 209.2 414 209.5 416.6 209.9 418.8 210.2 402.9 210.6 414.3 210.9 425.7 211.3 416.7 211.6 403.5 212 414.3 212.3 418.5 212.7 426.4 213 411.3 213.4 407.9 213.7 413.1 214.1 403.7 214.4 410.1 214.8 404.4 215.1 409.3 215.5 407.4 215.8 412.3 216.2 418.7 216.5 405.6 216.9 402.1 217.2 404.9 217.6 411.4 217.9 418.6 218.3 416.3 218.6 408.1 219 405.5 219.3 425.7 219.7 398.9 220 403.8 220.4 403.5 220.7 397.4 221.1 403.8 221.4 408.2 221.8 414.1 222.1 403.5 222.5 400.3 222.8 391 223.2 391.5 223.5 407.3 223.9 394.1 224.2 396.3 224.6 409.7 224.9 404.1 225.3 402.2 225.6 405.2 226 404.5 226.3 409.6 226.7 409.6 227 405.7 227.4 397.5 227.7 394.7 228.1 389.5 228.4 402.7 228.8 395.6 229.1 396.3 229.5 403.3 229.8 379.4 230.2 396.9 230.5 385.6 230.9 384.5 231.2 381.1 231.6 378.1 231.9 373.5 232.3 391.9 232.6 380 233 393.8 233.3 393.9 233.7 367 234 373.2 234.4 368 234.7 392.4 235.1 362.5 235.4 370.4 235.8 377.9 236.1 352.1 236.5 388.7 236.8 385.3 237.2 385.9 237.5 378.2 237.9 360 238.2 383.2 238.6 358.8 238.9 364.1 239.3 377.6 239.6 343.8 240 383.3 240.3 374 240.7 362.5 241 365.2 241.4 364.6 241.7 326.9 242.1 355.5 242.4 345.9 242.8 356.8 243.1 365.8 243.5 368.3 243.8 341 244.2 341.1 244.5 329.1 244.9 357.4 245.2 350.5 245.6 350 245.9 340.8 246.3 360.6 246.6 329.4 247 330.7 247.3 356.2 247.7 326.5 248 350.3 248.4 342.8 248.7 352 249.1 332.7 249.4 337.1 249.8 359.1 250.1 354.1 250.5 331.2 250.8 354.7 251.2 342.5 251.5 333.8 251.9 361.1 252.2 340.6 252.6 345.5 252.9 362.9 253.3 322.6 253.6 356.8 254 328 254.3 347.4 254.7 346.1 255 357.7 255.4 318.9 255.7 321.7 256.1 352.8 256.4 333 256.8 368.8 257.1 347.2 257.5 351.6 257.8 332.9 258.2 352 258.5 336.2 258.9 312.6 259.2 348.9 259.6 352.9 259.9 326 260.3 354.6 260.6 329.7 261 324 261.3 350.3 261.7 336.6 262 320.4 262.4 348.3 262.7 324.7 263.1 329.9 263.4 349.4 263.8 345.7 264.1 320.8 264.5 348.1 264.8 338.4 265.2 348.1 265.5 345.2 265.9 341.5 266.2 318.1 266.6 352.3 266.9 343.2 267.3 330 267.6 339.7 268 329.6 268.3 344 268.7 340.6 269 336.4 269.4 325.6 269.7 322.7 270.1 342.5 270.4 333.3 270.8 316.3 271.1 332.7 271.5 320 271.8 324 272.2 341 272.5 330.2 272.9 335.2 273.2 346.6 273.6 329.9 273.9 325.3 274.3 353.6 274.6 323.2 275 363.3 275.3 343.7 275.7 355.6 276 347.1 276.4 342.7 276.7 346.2 277.1 352 277.4 348.6 277.8 345.2 278.1 345.5 278.5 362.7 278.8 352.6 279.2 367.3 279.5 353.6 279.9 366.3 280.2 350.2 280.6 361 280.9 359.1 281.3 346.6 281.6 349.9 282 355.2 282.3 334 282.7 348 283 334.2 283.4 339.9 283.7 328.9 284.1 344.4 284.4 350.4 284.8 347.6 285.1 332.4 285.5 350.6 285.8 332.7 286.2 347.8 286.5 359.2 286.9 341.3 287.2 342.3 287.6 342.5 287.9 361.9 288.3 346.7 288.6 346.1 289 360.6 289.3 364.6 289.7 352.4 290 348.1 290.4 376.3 290.7 344.9 291.1 359.8 291.4 361.8 291.8 351 292.1 367.8 292.5 345.7 292.8 343 293.2 370.3 293.5 363.8 293.9 368.9 294.2 367.7 294.6 347.5 294.9 350.6 295.3 365 295.6 371.9 296 353.1 296.3 358.3 296.7 350.6 297 349.4 297.4 342 297.7 360.4 298.1 353.3 298.4 345.5 298.8 361 299.1 358.6 299.5 363.5 299.8 354.4 300.2 355.4 300.5 352.1 300.9 351.3 301.2 370.7 301.6 349 301.9 348.1 302.3 371.6 302.6 363.3 303 366.6 303.3 354.8 303.7 346.4 304 363.5 304.4 365.9 304.7 361.8 305.1 345.1 305.4 376.4 305.8 355.7 306.1 367.6 306.5 353.5 306.8 345.7 307.2 366.5 307.5 346 307.9 357.3 308.2 361.5 308.6 360 308.9 380.4 309.3 377.8 309.6 360.3 310 352.7 310.3 375.8 310.7 362.1 311 352.5 311.4 359.6 311.7 357 312.1 355.4 312.4 365.2 312.8 363.3 313.1 354.6 313.5 377.8 313.8 360.5 314.2 359 314.5 351 314.9 365.4 315.2 357.8 315.6 347.7 315.9 379.5 316.3 380.7 316.6 382.9 317 362.1 317.3 377 317.7 388.7 318 364.2 318.4 376.3 318.7 381.1 319.1 363.5 319.4 367.4 319.8 363.5 320.1 373.2 320.5 365.8 320.8 363.1 321.2 383.1 321.5 367.2 321.9 370.9 322.2 369.9 322.6 373.1 322.9 356.9 323.3 369 323.6 378.9 324 358.8 324.3 391.3 324.7 377.1 325 358.9 325.4 367 325.7 380.3 326.1 365.5 326.4 377.6 326.8 369.7 327.1 377.2 327.5 373.3 327.8 369.6 328.2 384.6 328.5 366.5 328.9 383.1 329.2 385.6 329.6 386.3 329.9 384.5 330.3 384.7 330.6 364.5 331 384.8 331.3 371.8 331.7 365.5 332 387.6 332.4 378.9 332.7 366.9 333.1 379.5 333.4 376.1 333.8 380 334.1 370.2 334.5 370.2 334.8 379.1" fill="none" stroke="#a4a600" stroke-width="0.9" stroke-linejoin="round"/>
<path d="M205 405.2 205.7 400.8 206.4 403.5 207.1 406.2 207.8 404.5 208.5 405.9 209.2 401.3 209.9 400 210.6 399.3 211.3 398.9 212 402.6 212.7 403.2 213.4 399.5 214.1 404.5 214.8 399.9 215.5 399.2 216.2 401.7 216.9 396.7 217.6 399 218.3 399.8 219 398.5 219.7 395.8 220.4 399 221.1 396.8 221.8 396.3 222.5 394.6 223.2 397.9 223.9 391.3 224.6 392 225.3 394.5 226 391.2 226.7 393.7 227.4 393.1 228.1 390.3 228.8 392.6 229.5 391.1 230.2 390.4 230.9 389 231.6 388.6 232.3 390.4 233 389.3 233.7 384.7 234.4 388.6 235.1 386.2 235.8 385.1 236.5 385.3 237.2 385.1 237.9 384.5 238.6 387.5 239.3 385.9 240 381.5 240.7 382.4 241.4 382.8 242.1 386.5 242.8 383.6 243.5 384.8 244.2 388.2 244.9 388.6 245.6 386 246.3 387.3 247 390.8 247.7 391.4 248.4 389.4 249.1 394.1 249.8 398.1 250.5 397.3 251.2 394.5 251.9 399.2 252.6 396.6 253.3 402.7 254 400.8 254.7 403.9 255.4 404 256.1 406.1 256.8 404.1 257.5 404.8 258.2 403 258.9 407.7 259.6 405.9 260.3 406.7 261 409 261.7 409.8 262.4 406.9 263.1 409.7 263.8 406.9 264.5 407.5 265.2 410.8 265.9 411.9 266.6 410.7 267.3 412.1 268 413.6 268.7 412.3 269.4 414.5 270.1 412.6 270.8 414.9 271.5 414.4 272.2 414.8 272.9 414.5 273.6 416.5 274.3 416.1 275 417.7 275.7 418.1 276.4 417.6 277.1 416.5 277.8 419.9 278.5 418.7 279.2 417.5 279.9 420.6 280.6 418.2 281.3 417.6 282 422.2 282.7 419.6 283.4 420.6 284.1 421.6 284.8 420.3 285.5 422.5 286.2 422.3 286.9 421.2 287.6 422.9 288.3 424.7 289 426.1 289.7 425.1 290.4 426.9 291.1 425.8 291.8 425.2 292.5 426.5 293.2 426.9 293.9 428 294.6 427 295.3 428.6 296 426.7 296.7 427.4 297.4 428.2 298.1 427.9 298.8 428.5 299.5 429 300.2 430.8 300.9 430.1 301.6 429.7 302.3 429.5 303 432.5 303.7 432.4 304.4 432.6 305.1 431 305.8 431.2 306.5 432.5 307.2 431.9 307.9 432.9 308.6 435.6 309.3 434.3 310 435.6 310.7 436.4 311.4 435.5 312.1 436.7 312.8 436.5 313.5 436.5 314.2 437.7 314.9 436.5 315.6 436.9 316.3 438.1 317 437.5 317.7 437.4 318.4 438.9 319.1 439.5 319.8 438.9 320.5 439.2 321.2 440.1 321.9 439.5 322.6 439.9 323.3 439.8 324 441.4 324.7 441.1 325.4 442.1 326.1 441.8 326.8 442.8 327.5 442.6 328.2 442.5 328.9 443.1 329.6 443.5 330.3 442.5 331 443.5 331.7 443.1 332.4 444.8 333.1 444.5 333.8 445.5 334.5 444.7 334.5 451.4 333.8 450.9 333.1 450.1 332.4 450.7 331.7 450.6 331 450.3 330.3 449.8 329.6 449.2 328.9 449.4 328.2 448.8 327.5 448.8 326.8 448.4 326.1 448.7 325.4 447.6 324.7 447.9 324 446.8 323.3 447 322.6 446.2 321.9 446.3 321.2 446.7 320.5 446.3 319.8 445.9 319.1 444.8 318.4 444.7 317.7 445 317 444.9 316.3 444.7 315.6 444.5 314.9 444.4 314.2 444.2 313.5 444.1 312.8 442.5 312.1 443.7 311.4 442.9 310.7 441.8 310 442 309.3 441.7 308.6 442.7 307.9 441.1 307.2 440.4 306.5 441 305.8 440.1 305.1 440.8 304.4 439.3 303.7 440.2 303 440.3 302.3 439.3 301.6 439.4 300.9 439.5 300.2 440 299.5 437.7 298.8 437.7 298.1 437.3 297.4 438.4 296.7 438.7 296 436.4 295.3 438.2 294.6 437.5 293.9 437.2 293.2 436.7 292.5 435.7 291.8 436.1 291.1 435.7 290.4 434.1 289.7 433.9 289 436.2 288.3 434.4 287.6 433.8 286.9 433.9 286.2 434.5 285.5 433.2 284.8 433.9 284.1 433.4 283.4 431.7 282.7 433.6 282 432.6 281.3 432.4 280.6 432.7 279.9 431.6 279.2 429.9 278.5 430.6 277.8 430.8 277.1 428.6 276.4 430.2 275.7 428.8 275 430 274.3 427 273.6 426.7 272.9 429.1 272.2 427.3 271.5 426.2 270.8 425.8 270.1 425 269.4 427.5 268.7 424.4 268 425.3 267.3 426.7 266.6 424.1 265.9 426.3 265.2 423.3 264.5 425 263.8 424.8 263.1 425.4 262.4 425.4 261.7 423.5 261 423.1 260.3 422.5 259.6 423.9 258.9 422.3 258.2 419.8 257.5 419 256.8 421.7 256.1 420.2 255.4 417.1 254.7 417.3 254 416.2 253.3 417.8 252.6 417.1 251.9 414.1 251.2 415.9 250.5 413.5 249.8 413.2 249.1 409.1 248.4 409.5 247.7 409.1 247 406 246.3 405.7 245.6 405.6 244.9 401 244.2 401.5 243.5 400.7 242.8 399.4 242.1 397.6 241.4 399.5 240.7 400.5 240 399.8 239.3 400.5 238.6 402.3 237.9 400.5 237.2 401.5 236.5 400.7 235.8 401.1 235.1 400.7 234.4 404.7 233.7 402.2 233 404.6 232.3 403.9 231.6 406.4 230.9 406.3 230.2 405.7 229.5 405 228.8 407.8 228.1 409.1 227.4 408.6 226.7 407 226 409.5 225.3 407.8 224.6 410.5 223.9 411.9 223.2 411.3 222.5 413 221.8 413.8 221.1 414.6 220.4 413.2 219.7 416 219 414.6 218.3 417.2 217.6 416.7 216.9 416.2 216.2 415 215.5 415.3 214.8 416.1 214.1 416.4 213.4 419.5 212.7 420.1 212 417.2 211.3 417.5 210.6 417.7 209.9 418.3 209.2 420.5 208.5 419.8 207.8 421.1 207.1 420.9 206.4 422.2 205.7 422.5 205 419Z" fill="#ef8565" fill-opacity="0.5"/>
<path d="M205.1 419.9 205.5 364.2 205.9 420.2 206.9 384.7 207.2 407.9 208.1 405.7 208.5 356.4 208.9 411.3 210 394.4 210.3 412.5 211 414.4 211.4 357.3 211.8 412.4 212.8 389.3 213.1 409 213.9 419.8 214.3 368 214.7 405.8 215.8 383.8 216.1 408.2 216.9 399.9 217.3 373.2 217.7 412.6 218.8 395.9 219.1 404.4 219.9 401.8 220.3 366.7 220.7 396.9 221.7 374.2 222 404.8 222.7 397.1 223.1 348.9 223.5 403.6 224.6 380.6 224.9 398.5 225.5 393.1 225.9 363.6 226.3 395.3 227.4 378.6 227.7 394.1 228.4 401.9 228.8 343 229.2 400.4 230.2 376.8 230.5 387.2 231.2 393.9 231.6 353.9 232 399.5 233.1 381 233.4 401.9 234.1 393.5 234.5 356.4 234.9 386.9 235.9 369.7 236.2 393.8 236.9 393.4 237.3 337.9 237.7 399.2 238.7 365.5 239 382.2 239.7 386.2 240.1 349.5 240.5 391 241.6 373.7 241.9 401.7 242.7 386.1 243.1 337.8 243.5 380.2 244.5 370.3 244.8 391.7 245.6 403.6 246 343.8 246.4 385.3 247.5 369.2 247.8 403.9 248.6 393.1 249 339.5 249.4 395.9 250.4 388 250.7 410.7 251.4 397.8 251.8 343.4 252.2 399.4 253.3 370.4 253.6 401.1 254.4 413.3 254.8 348.2 255.2 407.3 256.2 396.8 256.5 401.9 257.2 402.9 257.6 355.2 258 412.6 259.1 386.4 259.4 411 260.1 411.8 260.5 370.1 260.9 420.8 261.9 401.7 262.2 411.7 263 408.5 263.4 373 263.8 417.3 264.8 392.9 265.1 425.7 266 411.4 266.4 372.3 266.8 424.6 267.9 387.9 268.2 410.6 268.8 419 269.2 362.9 269.6 424.3 270.6 405.6 270.9 423.9 271.7 416.8 272.1 361.8 272.5 428.7 273.6 399.2 273.9 413.4 274.7 414.1 275.1 374.8 275.5 427.9 276.5 394.7 276.8 429 277.7 421.5 278.1 362.7 278.5 416.6 279.5 398.8 279.8 430.2 280.5 428.5 280.9 377.1 281.3 430.3 282.4 407.9 282.7 432.8 283.4 423.3 283.8 364.9 284.2 428.1 285.3 406.4 285.6 425.2 286.5 425.8 286.9 368.8 287.3 428.2 288.3 403.8 288.6 430.6 289.3 422.9 289.7 375.3 290.1 432.7 291.1 408.3 291.4 424.5 292.2 437.2 292.6 379 293 424.3 294.1 410 294.4 430.9 295 429 295.4 391.3 295.8 425.8 296.9 405.2 297.2 434.9 298 436 298.4 387.4 298.8 431 299.8 413 300.1 433.7 300.8 436.5 301.2 395.2 301.6 428.7 302.7 422.9 303 435.8 303.7 431.1 304.1 403.5 304.5 440.3 305.5 410.7 305.8 432.4 306.5 434.4 306.9 398.7 307.3 441.7 308.3 414.3 308.6 436 309.3 441.2 309.7 404.5 310.1 439.7 311.1 428.7 311.4 437.7 312.3 440.3 312.7 396.9 313.1 434.8 314.2 418.5 314.5 438.2 315.1 437.7 315.5 403.2 315.9 441 317 422.2 317.3 441.8 318.1 442.7 318.5 401.2 318.9 440.1 320 424.5 320.3 445.5 320.9 438.8 321.3 404.9 321.7 439.8 322.8 433.1 323.1 446.5 323.9 447.8 324.3 417.3 324.7 441.9 325.7 425.8 326 441.6 326.9 447.8 327.3 413 327.7 444.3 328.7 433.7 329 446.9 329.7 446.3 330.1 414.5 330.5 448.2 331.6 440.9 331.9 446.5 332.5 445.7 332.9 419.6 333.3 444 334.4 429.8 334.7 444.1" fill="none" stroke="#ef8565" stroke-width="1.0" stroke-opacity="1" stroke-linejoin="round"/>
<path d="M394 402.7 394.6 402.3 395.2 401.7 395.8 398.2 396.4 397.7 397 405.9 397.6 405.1 398.2 402.3 398.8 402.9 399.4 405.1 400 404.3 400.6 403.6 401.2 403.8 401.8 398.7 402.4 402.9 403 398.3 403.6 405.8 404.2 398.7 404.8 401.6 405.4 401 406 400.2 406.6 398.3 407.2 403.5 407.8 404.8 408.4 405.2 409 401.3 409.6 405.1 410.2 403.6 410.8 404.9 411.4 405 412 399.6 412.6 403.7 413.2 403.8 413.8 403.8 414.4 397.9 415 404.2 415.6 397.8 416.2 401.2 416.8 398.8 417.4 397.3 418 400.5 418.6 401.3 419.2 397.7 419.8 397.7 420.4 395 421 394.1 421.6 393 422.2 395.8 422.8 391.1 423.4 394.9 424 391.3 424.6 392.5 425.2 392.3 425.8 392.4 426.4 390.9 427 389.3 427.6 386.8 428.2 388.3 428.8 383.6 429.4 385.6 430 381.9 430.6 384.2 431.2 383 431.8 379.7 432.4 381.6 433 382.1 433.6 379 434.2 379.8 434.8 377.7 435.4 373.3 436 373.8 436.6 367.2 437.2 366 437.8 364.7 438.4 362.6 439 363.6 439.6 357.6 440.2 358.4 440.8 352.1 441.4 350.5 442 344.3 442.6 333.6 443.2 332.4 443.8 318.4 444.4 318.2 445 313.4 445.6 305.3 446.2 313.2 446.8 306.6 447.4 303.8 448 306.7 448.6 303.1 449.2 304.5 449.8 306.4 450.4 299.7 451 297.5 451.6 302 452.2 297.1 452.8 299.4 453.4 299.9 454 297.6 454.6 293.1 455.2 296.3 455.8 288.8 456.4 295.6 457 292.4 457.6 295 458.2 292.4 458.8 295.3 459.4 295.3 460 291.1 460.6 292.5 461.2 290.6 461.8 295.5 462.4 290.2 463 298.8 463.6 299.8 464.2 300.1 464.8 306 465.4 313.4 466 319.2 466.6 322.7 467.2 330.5 467.8 339.4 468.4 335.4 469 337.6 469.6 330.5 470.2 315.1 470.8 311.6 471.4 303.6 472 293.5 472.6 290.7 473.2 288.5 473.8 293.2 474.4 291.7 475 291.4 475.6 295.9 476.2 291.4 476.8 296.2 477.4 297.4 478 294.1 478.6 298.6 479.2 295.6 479.8 296.9 480.4 295.8 481 300.3 481.6 297.5 482.2 301.3 482.8 296.8 483.4 302.5 484 302.1 484.6 297.8 485.2 303.1 485.8 301.1 486.4 300.9 487 301.1 487.6 303.7 488.2 305.1 488.8 305.8 489.4 306.3 490 309.1 490.6 305.7 491.2 307.6 491.8 306.3 492.4 305.5 493 307.3 493.6 309.5 494.2 311.9 494.8 307.4 495.4 311.4 496 312.4 496.6 310.4 497.2 316.8 497.8 311.2 498.4 312.9 499 317.3 499.6 316.3 500.2 314.3 500.8 317.2 501.4 313.9 502 315.2 502.6 315.1 503.2 322.6 503.8 321.6 504.4 321.5 505 321.2 505.6 324.8 506.2 321.3 506.8 323.8 507.4 322.6 508 322.4 508.6 323.8 509.2 329 509.8 325.2 510.4 328 511 329 511.6 326.1 512.2 323.7 512.8 329.5 513.4 331.3 514 332.6 514.6 326.8 515.2 333.4 515.8 329.6 516.4 332.7 517 335.1 517.6 333.1 518.2 333.1 518.8 334.1 519.4 336.7 520 338.3 520.6 342.7 521.2 340.2 521.8 340.4 522.4 341.9 523 345.2 523.6 342.6 523.6 356.8 523 359.8 522.4 354.2 521.8 352.3 521.2 354.5 520.6 352.8 520 348.5 519.4 354.8 518.8 351.8 518.2 350.5 517.6 346.6 517 344 516.4 344.7 515.8 349 515.2 344.4 514.6 341.1 514 345.6 513.4 341 512.8 339 512.2 344 511.6 338.9 511 340.2 510.4 338.2 509.8 336.2 509.2 339.9 508.6 336 508 340 507.4 333.5 506.8 336.3 506.2 333.3 505.6 334.6 505 333.1 504.4 329.9 503.8 333.7 503.2 333.7 502.6 333.3 502 331.7 501.4 327.5 500.8 327.1 500.2 327.5 499.6 330.9 499 327.5 498.4 323.2 497.8 327.3 497.2 323.4 496.6 322.4 496 323.7 495.4 322 494.8 320.2 494.2 324.2 493.6 320.2 493 320 492.4 319.2 491.8 322.2 491.2 321.2 490.6 316.1 490 316 489.4 319.8 488.8 313.9 488.2 314.8 487.6 315.7 487 316.3 486.4 311.5 485.8 311.3 485.2 309.4 484.6 313.2 484 308.2 483.4 310.7 482.8 310.1 482.2 309.7 481.6 308.1 481 308.6 480.4 305.1 479.8 305.3 479.2 307 478.6 303.3 478 305.9 477.4 303.6 476.8 304.8 476.2 302.2 475.6 299.9 475 303.6 474.4 299.4 473.8 301.4 473.2 298.1 472.6 301.7 472 307.7 471.4 314.5 470.8 325.6 470.2 332.2 469.6 340.9 469 350.4 468.4 356 467.8 352.8 467.2 348.4 466.6 341 466 333.6 465.4 326.8 464.8 317.4 464.2 314.4 463.6 309.5 463 308.5 462.4 309.4 461.8 304.8 461.2 301.6 460.6 303.7 460 302.1 459.4 306 458.8 307 458.2 308 457.6 305.4 457 302.4 456.4 308.4 455.8 304.6 455.2 309.1 454.6 309.3 454 309.3 453.4 312.8 452.8 312.9 452.2 310.5 451.6 313.4 451 317.8 450.4 316.8 449.8 315.7 449.2 313.9 448.6 316.8 448 321.7 447.4 318.5 446.8 320.1 446.2 326.9 445.6 328.7 445 329.6 444.4 331.6 443.8 340.8 443.2 344 442.6 349.5 442 356.9 441.4 358.5 440.8 367.4 440.2 369 439.6 370.7 439 374.6 438.4 375.3 437.8 375.7 437.2 381.7 436.6 383.3 436 382.4 435.4 386.6 434.8 385 434.2 385.4 433.6 387.2 433 387.1 432.4 388.6 431.8 392.3 431.2 391.2 430.6 393.1 430 393.2 429.4 397.5 428.8 400.3 428.2 400.6 427.6 399.5 427 401.5 426.4 402.9 425.8 403.7 425.2 407.7 424.6 404.2 424 407.9 423.4 404.4 422.8 405.5 422.2 408.1 421.6 405.1 421 407.8 420.4 407.9 419.8 409.5 419.2 409.5 418.6 410.4 418 411 417.4 413.3 416.8 414.6 416.2 411 415.6 409.3 415 411.9 414.4 414.1 413.8 415.7 413.2 413.4 412.6 415.6 412 416.4 411.4 413.3 410.8 412.6 410.2 413.2 409.6 417.5 409 417.5 408.4 415.8 407.8 416.9 407.2 413.5 406.6 415.7 406 413.6 405.4 417.2 404.8 417.5 404.2 413.7 403.6 411.9 403 414.1 402.4 415.3 401.8 413.9 401.2 413.7 400.6 412.6 400 416.5 399.4 416.3 398.8 416.8 398.2 415.9 397.6 413.7 397 414.3 396.4 413.8 395.8 418.3 395.2 415 394.6 416.8 394 413.2Z" fill="#6ca2de" fill-opacity="0.45"/>
<path d="M394 395 394.4 428.9 394.7 402.2 395.1 408.9 395.4 402.1 395.8 430 396.1 421.2 396.5 417.4 396.8 384.4 397.2 413.6 397.5 403.2 397.9 393.1 398.2 397.8 398.6 416.3 398.9 409.9 399.3 419.4 399.6 417.8 400 413.5 400.3 421.8 400.7 397.7 401 396.1 401.4 406.9 401.7 403.8 402.1 405 402.4 403.1 402.8 393.5 403.1 405.5 403.5 418 403.8 402.3 404.2 402.4 404.5 391.8 404.9 402.7 405.2 415.7 405.6 420.6 405.9 409.3 406.3 404.3 406.6 401.3 407 400.3 407.3 403.5 407.7 405 408 419.5 408.4 410.8 408.7 411.5 409.1 420.3 409.4 395.7 409.8 425.8 410.1 395.3 410.5 395.4 410.8 415.3 411.2 411.6 411.5 418.6 411.9 403 412.2 427.6 412.6 411.1 412.9 401.4 413.3 409 413.6 404.2 414 410.2 414.3 401.6 414.7 397.2 415 401.8 415.4 395.7 415.7 396.9 416.1 405.5 416.4 408.8 416.8 396.6 417.1 400 417.5 409.3 417.8 400.9 418.2 406.8 418.5 391 418.9 410.4 419.2 405.2 419.6 393.5 419.9 403.2 420.3 408.6 420.6 409.3 421 395.7 421.3 397 421.7 406 422 409 422.4 400 422.7 390.4 423.1 393.2 423.4 411.7 423.8 396.1 424.1 380.2 424.5 401.2 424.8 388.6 425.2 387.4 425.5 405 425.9 400.8 426.2 403.7 426.6 395.8 426.9 390.1 427.3 387.2 427.6 405.1 428 375 428.3 403.6 428.7 380.8 429 391.7 429.4 401.5 429.7 402.3 430.1 404.1 430.4 400.8 430.8 376.5 431.1 384.9 431.5 393 431.8 396.3 432.2 383.8 432.5 387.3 432.9 392.2 433.2 388.4 433.6 376.2 433.9 393.3 434.3 373.7 434.6 370.5 435 370.9 435.3 394 435.7 371.4 436 370.5 436.4 387.3 436.7 383.9 437.1 378.3 437.4 374.1 437.8 367 438.1 366.7 438.5 365.8 438.8 377.8 439.2 353.3 439.5 347.8 439.9 369.1 440.2 350.9 440.6 347.4 440.9 363.6 441.3 346.6 441.6 345.5 442 346.1 442.3 352.4 442.7 356 443 325.2 443.4 314 443.7 329.2 444.1 320.2 444.4 313.9 444.8 337.2 445.1 327.1 445.5 331.5 445.8 299.7 446.2 316.4 446.5 318.7 446.9 304.3 447.2 313.8 447.6 311.4 447.9 296.7 448.3 307.6 448.6 314.4 449 313.2 449.3 305.3 449.7 311.8 450 307.7 450.4 302.5 450.7 309.9 451.1 295 451.4 290.1 451.8 290.9 452.1 317.3 452.5 296 452.8 306.3 453.2 301.1 453.5 315.3 453.9 286.9 454.2 290 454.6 286.9 454.9 317.5 455.3 305.6 455.6 299.6 456 299.7 456.3 282.7 456.7 295.1 457 281 457.4 312.2 457.7 305.8 458.1 308.4 458.4 287.1 458.8 288.1 459.1 293.3 459.5 311.8 459.8 291.4 460.2 292.6 460.5 291.3 460.9 299.4 461.2 292.8 461.6 284.9 461.9 284.5 462.3 280 462.6 320.5 463 289.7 463.3 312.3 463.7 310.4 464 302.9 464.4 295.6 464.7 297.4 465.1 320.5 465.4 303.5 465.8 321.1 466.1 341.1 466.5 309.7 466.8 332.7 467.2 345.4 467.5 355.1 467.9 344.4 468.2 340.7 468.6 326.8 468.9 329 469.3 332.4 469.6 330.2 470 341.7 470.3 317.4 470.7 326.2 471 313.9 471.4 296.1 471.7 299.4 472.1 306.7 472.4 291.3 472.8 299.1 473.1 288.7 473.5 299.2 473.8 292 474.2 297.6 474.5 304.4 474.9 305.9 475.2 301.9 475.6 288.6 475.9 297.3 476.3 291.6 476.6 298.5 477 289.1 477.3 290.6 477.7 288.9 478 295.8 478.4 302.9 478.7 301.5 479.1 305.4 479.4 291.1 479.8 293.5 480.1 295.6 480.5 310.2 480.8 312.3 481.2 301.2 481.5 309.2 481.9 296.7 482.2 313.2 482.6 306.3 482.9 299.3 483.3 307.2 483.6 301.9 484 309.4 484.3 307.5 484.7 296 485 291.1 485.4 299.6 485.7 309.8 486.1 301.4 486.4 305.1 486.8 315.7 487.1 297.1 487.5 314.1 487.8 308 488.2 291.7 488.5 305.3 488.9 299.1 489.2 293.3 489.6 312 489.9 313 490.3 308.5 490.6 304.1 491 318.1 491.3 309.4 491.7 324.5 492 321.3 492.4 324.5 492.7 320 493.1 321.8 493.4 301 493.8 321.8 494.1 325.6 494.5 325.1 494.8 305.6 495.2 321.9 495.5 303.9 495.9 322.5 496.2 326.3 496.6 309.8 496.9 325.3 497.3 307.6 497.6 316.1 498 336.5 498.3 315.3 498.7 317.7 499 323.6 499.4 313.5 499.7 338.4 500.1 317.6 500.4 308.9 500.8 335.4 501.1 316.9 501.5 322.9 501.8 312.6 502.2 330.9 502.5 337.1 502.9 337.9 503.2 326.7 503.6 334.3 503.9 323.7 504.3 328.7 504.6 331.3 505 318.2 505.3 338.4 505.7 341.4 506 335 506.4 341.1 506.7 336.3 507.1 334.2 507.4 341.6 507.8 335.2 508.1 323.5 508.5 344.3 508.8 338.3 509.2 336.6 509.5 320 509.9 336.9 510.2 333.7 510.6 339 510.9 337 511.3 320.1 511.6 319.4 512 326.6 512.3 337.5 512.7 343 513 343.4 513.4 343 513.7 340.6 514.1 359.4 514.4 331.8 514.8 336.2 515.1 328.8 515.5 358.2 515.8 346.1 516.2 340.1 516.5 355.1 516.9 334 517.2 324.9 517.6 346.5 517.9 347.3 518.3 366.2 518.6 354.6 519 329.4 519.3 331.4 519.7 335.1 520 345.3 520.4 331.1 520.7 333.6 521.1 360.8 521.4 351.3 521.8 349.7 522.1 350.1 522.5 347 522.8 347.1 523.2 364.7 523.5 344.3 523.9 356.5" fill="none" stroke="#6ca2de" stroke-width="0.8" stroke-linejoin="round"/>
<path d="M394 419.1 394.6 421.3 395.2 421.1 395.8 421.6 396.4 421.4 397 420.7 397.6 420.4 398.2 421.8 398.8 421.9 399.4 419.6 400 421.9 400.6 421.8 401.2 419.3 401.8 421.9 402.4 420.6 403 419.3 403.6 421.2 404.2 419.3 404.8 421.8 405.4 418.7 406 421.2 406.6 420.7 407.2 419.4 407.8 421.3 408.4 421.3 409 420 409.6 420.3 410.2 419.6 410.8 419.4 411.4 419.2 412 421.7 412.6 421.4 413.2 419.8 413.8 418.9 414.4 418.3 415 416 415.6 416.5 416.2 415.7 416.8 415.5 417.4 415.7 418 413.6 418.6 412.9 419.2 413.2 419.8 410.2 420.4 411.3 421 410.9 421.6 408 422.2 401.1 422.8 403.3 423.4 400.1 424 396 424.6 397.4 425.2 392 425.8 395.4 426.4 393.4 427 388 427.6 392.7 428.2 391.9 428.8 387.1 429.4 381.5 430 382.3 430.6 385.3 431.2 382.4 431.8 378.9 432.4 375.7 433 379.3 433.6 373.7 434.2 379.9 434.8 378.6 435.4 376.6 436 372.6 436.6 368.5 437.2 362.3 437.8 364.4 438.4 362.8 439 361.1 439.6 354.8 440.2 345.9 440.8 350.4 441.4 346.7 442 338.2 442.6 339.5 443.2 335.5 443.8 332.2 444.4 331.7 445 331.8 445.6 328.5 446.2 323.8 446.8 317.9 447.4 318.6 448 320.4 448.6 314.2 449.2 316.6 449.8 310.4 450.4 310.6 451 310 451.6 315.3 452.2 315.3 452.8 316.1 453.4 315.7 454 318.7 454.6 313.1 455.2 314.1 455.8 312.8 456.4 312.9 457 314.9 457.6 313.7 458.2 318.2 458.8 315.7 459.4 311.4 460 315.3 460.6 316.6 461.2 316.9 461.8 315.6 462.4 314.5 463 317.7 463.6 322.1 464.2 324.2 464.8 333.3 465.4 336.7 466 342.5 466.6 345.5 467.2 350.8 467.8 352.2 468.4 357.5 469 349.7 469.6 350.3 470.2 344.9 470.8 339.5 471.4 331.8 472 323.6 472.6 320.5 473.2 315.6 473.8 314.8 474.4 316.6 475 316.3 475.6 320.4 476.2 320.6 476.8 320.3 477.4 320.5 478 319.7 478.6 321.2 479.2 325.1 479.8 324 480.4 321.7 481 327.8 481.6 325.1 482.2 328.2 482.8 328.4 483.4 331.5 484 328.5 484.6 326.2 485.2 328.1 485.8 327.7 486.4 332.9 487 328.1 487.6 331.9 488.2 330.3 488.8 329.7 489.4 332.5 490 334.4 490.6 337.9 491.2 338.3 491.8 336.5 492.4 334 493 336.4 493.6 340.4 494.2 333.7 494.8 338.6 495.4 341.5 496 339.8 496.6 341.7 497.2 341.1 497.8 341 498.4 339.5 499 338.7 499.6 342 500.2 341.9 500.8 345.4 501.4 346.4 502 345.8 502.6 341.3 503.2 342.6 503.8 345.3 504.4 349 505 346.2 505.6 346.3 506.2 344.9 506.8 343.7 507.4 347 508 351.1 508.6 347.9 509.2 348.8 509.8 350.9 510.4 348.9 511 354.3 511.6 354.7 512.2 353.4 512.8 347.9 513.4 351.2 514 351 514.6 355 515.2 353.4 515.8 358.1 516.4 354.7 517 354 517.6 358.7 518.2 358.7 518.8 356.6 519.4 363.1 520 359.1 520.6 360.5 521.2 359.5 521.8 361.9 522.4 366.8 523 362.1 523.6 365.6 523.6 376.4 523 378.1 522.4 373.8 521.8 373.5 521.2 377.2 520.6 377.6 520 375.6 519.4 370 518.8 369.9 518.2 372.5 517.6 372.9 517 366.1 516.4 371 515.8 365.4 515.2 366.2 514.6 368.3 514 366 513.4 363.2 512.8 365.8 512.2 362.2 511.6 364.7 511 359.9 510.4 363.5 509.8 360.2 509.2 357.7 508.6 357.2 508 358.3 507.4 359.1 506.8 359.6 506.2 357.6 505.6 358.6 505 358.8 504.4 358.4 503.8 358.4 503.2 356.3 502.6 352.4 502 355.5 501.4 352.2 500.8 351.4 500.2 350.6 499.6 351.6 499 354.3 498.4 350.5 497.8 353.8 497.2 354 496.6 353.4 496 352.6 495.4 352.6 494.8 352 494.2 350.3 493.6 345.6 493 349.2 492.4 345.7 491.8 347.5 491.2 348.7 490.6 347.7 490 344.8 489.4 343 488.8 345.3 488.2 345 487.6 347.2 487 342.9 486.4 342.6 485.8 345.5 485.2 341 484.6 342 484 341 483.4 341.9 482.8 337.5 482.2 335 481.6 336.7 481 334 480.4 335.2 479.8 335.2 479.2 331.4 478.6 331.9 478 333.3 477.4 328 476.8 329.5 476.2 330.4 475.6 328.2 475 328.6 474.4 327.8 473.8 326 473.2 324.7 472.6 328.6 472 333.7 471.4 341.8 470.8 347.7 470.2 353.1 469.6 359.3 469 367 468.4 369.5 467.8 367.3 467.2 361.1 466.6 357.7 466 351.6 465.4 352.4 464.8 348.8 464.2 342 463.6 339 463 333.9 462.4 329.8 461.8 332.4 461.2 330 460.6 332.8 460 327.5 459.4 331.6 458.8 330.1 458.2 328.6 457.6 325.2 457 325.7 456.4 324.8 455.8 326.3 455.2 328.1 454.6 330.9 454 326.3 453.4 326.1 452.8 330.3 452.2 324.2 451.6 328.8 451 324.8 450.4 330.3 449.8 329.4 449.2 329.3 448.6 333.4 448 334.1 447.4 333.4 446.8 337.9 446.2 336.7 445.6 343.5 445 347.3 444.4 345.2 443.8 353.4 443.2 355.8 442.6 357.2 442 359.4 441.4 357.1 440.8 362.5 440.2 365.4 439.6 370.2 439 376.7 438.4 373 437.8 380.8 437.2 379.1 436.6 381.1 436 385.9 435.4 393.1 434.8 391.7 434.2 387.7 433.6 394.3 433 394.6 432.4 393.9 431.8 396.4 431.2 393.6 430.6 403.4 430 395.8 429.4 399.2 428.8 398.4 428.2 405.2 427.6 408.5 427 403.3 426.4 405.7 425.8 404.6 425.2 408.6 424.6 407.9 424 409.5 423.4 411.3 422.8 412.1 422.2 415.8 421.6 416.1 421 419.1 420.4 417.3 419.8 418.9 419.2 420.2 418.6 419.2 418 423.2 417.4 423.2 416.8 422.7 416.2 422.3 415.6 422.5 415 423.6 414.4 423.7 413.8 424 413.2 426.4 412.6 424.1 412 424.5 411.4 425.2 410.8 424.6 410.2 424.7 409.6 424.4 409 426.5 408.4 426.1 407.8 426 407.2 424.5 406.6 425.7 406 425.9 405.4 425.4 404.8 426.3 404.2 425.5 403.6 425.2 403 426 402.4 424.5 401.8 426.1 401.2 426.4 400.6 426.1 400 426.1 399.4 425 398.8 424 398.2 426.2 397.6 424.1 397 424.2 396.4 425.5 395.8 424.1 395.2 424.1 394.6 426.5 394 424.9Z" fill="#a4a600" fill-opacity="0.6"/>
<path d="M394 426.2 394.4 421.7 394.7 423.9 395.1 424.4 395.4 419.2 395.8 417.3 396.1 417.4 396.5 419.5 396.8 418.9 397.2 422.9 397.5 425.7 397.9 422 398.2 421.4 398.6 418 398.9 424.1 399.3 421.9 399.6 424.1 400 426.3 400.3 427.6 400.7 425.4 401 421.3 401.4 418 401.7 427.9 402.1 423.2 402.4 417 402.8 417.4 403.1 426.2 403.5 430.1 403.8 426.4 404.2 424.4 404.5 424 404.9 421.5 405.2 427.5 405.6 417.8 405.9 420.7 406.3 422.1 406.6 417.1 407 423.3 407.3 424.7 407.7 418.1 408 417.1 408.4 420.1 408.7 418.5 409.1 426.7 409.4 414.9 409.8 425 410.1 420.4 410.5 426.8 410.8 422.2 411.2 417.7 411.5 425.3 411.9 417.1 412.2 422.5 412.6 417.8 412.9 422.6 413.3 423.5 413.6 418.1 414 424.1 414.3 417.2 414.7 423.6 415 422.1 415.4 416.4 415.7 421.3 416.1 413.3 416.4 423.9 416.8 423.4 417.1 424.4 417.5 411.8 417.8 411.9 418.2 411.7 418.5 409.2 418.9 431 419.2 410.3 419.6 430.2 419.9 425.7 420.3 429.5 420.6 421.3 421 429.4 421.3 402.8 421.7 417.1 422 408.9 422.4 405.3 422.7 412 423.1 407.2 423.4 402.1 423.8 393.2 424.1 405.3 424.5 409.3 424.8 391.3 425.2 399.7 425.5 398.8 425.9 387.9 426.2 386.3 426.6 395.7 426.9 394.8 427.3 380.4 427.6 376.5 428 407.2 428.3 383.6 428.7 400.3 429 403.7 429.4 382.1 429.7 381.7 430.1 373.5 430.4 383.6 430.8 400 431.1 404.8 431.5 400.6 431.8 412.1 432.2 394.2 432.5 382.7 432.9 378.1 433.2 394 433.6 387 433.9 376 434.3 390.1 434.6 395.4 435 404.8 435.3 397.8 435.7 390.3 436 367.4 436.4 375.1 436.7 392 437.1 379.6 437.4 372.5 437.8 373.4 438.1 386.4 438.5 377.6 438.8 373.9 439.2 368.8 439.5 361.2 439.9 372.6 440.2 360.5 440.6 357.9 440.9 333.9 441.3 373.4 441.6 339.4 442 340.9 442.3 325.5 442.7 315.8 443 359.3 443.4 357.3 443.7 333.8 444.1 347.5 444.4 343.1 444.8 340.5 445.1 326.6 445.5 335.2 445.8 345.4 446.2 321.9 446.5 321.8 446.9 335.1 447.2 340.5 447.6 333.3 447.9 340 448.3 329 448.6 306.6 449 318.8 449.3 329.9 449.7 305.1 450 332.9 450.4 333.8 450.7 319.1 451.1 328.1 451.4 319.6 451.8 339.6 452.1 310.6 452.5 311.8 452.8 321.1 453.2 320.8 453.5 320.4 453.9 301.3 454.2 332.6 454.6 320.1 454.9 318.5 455.3 315.6 455.6 315.9 456 305.5 456.3 331.1 456.7 340.9 457 324.4 457.4 331.6 457.7 320.3 458.1 306.1 458.4 326.9 458.8 332.5 459.1 306.7 459.5 329.6 459.8 331.1 460.2 336.1 460.5 334.3 460.9 309.5 461.2 317.2 461.6 322.5 461.9 332.4 462.3 327.1 462.6 340.6 463 329.9 463.3 338.6 463.7 322.3 464 332.3 464.4 321.1 464.7 363.3 465.1 329.6 465.4 337.2 465.8 353 466.1 354.9 466.5 347.6 466.8 369.2 467.2 356 467.5 364.2 467.9 357 468.2 376.6 468.6 370.8 468.9 360.7 469.3 370.4 469.6 349.6 470 358.6 470.3 340.6 470.7 350.5 471 336.1 471.4 350.7 471.7 329.9 472.1 338.8 472.4 317.9 472.8 316.2 473.1 313.6 473.5 328.4 473.8 326.2 474.2 325 474.5 332 474.9 324.6 475.2 325.6 475.6 326.5 475.9 332 476.3 328.2 476.6 334.1 477 315.9 477.3 322.9 477.7 323.3 478 336.5 478.4 330.5 478.7 323.6 479.1 337.7 479.4 338.8 479.8 334.7 480.1 322.6 480.5 323.7 480.8 335.3 481.2 321.6 481.5 324 481.9 321.8 482.2 323.2 482.6 330.2 482.9 316.8 483.3 343.5 483.6 348.9 484 340.2 484.3 337.8 484.7 340.4 485 348.3 485.4 341.5 485.7 353.6 486.1 344.3 486.4 348.5 486.8 341.3 487.1 324.2 487.5 349.8 487.8 338.1 488.2 320.4 488.5 330.7 488.9 325.9 489.2 342.7 489.6 351.6 489.9 357.2 490.3 326.2 490.6 336.3 491 340.2 491.3 348.9 491.7 349.5 492 328.7 492.4 335.2 492.7 343.5 493.1 348.9 493.4 334.3 493.8 333.1 494.1 352.5 494.5 347.9 494.8 356.1 495.2 345.8 495.5 350.2 495.9 344.8 496.2 356.8 496.6 326.6 496.9 356.5 497.3 325.5 497.6 337.7 498 337.5 498.3 331.3 498.7 339.3 499 354.7 499.4 351 499.7 352.9 500.1 343.2 500.4 355.9 500.8 347.6 501.1 358.7 501.5 360 501.8 343.6 502.2 346.9 502.5 340.6 502.9 344.5 503.2 345.9 503.6 344.7 503.9 353.7 504.3 345.2 504.6 345.6 505 353.6 505.3 358 505.7 350.2 506 348.9 506.4 349.3 506.7 346.2 507.1 333.6 507.4 348.4 507.8 342 508.1 359.9 508.5 346.9 508.8 351.1 509.2 366.8 509.5 363.9 509.9 366.5 510.2 333.9 510.6 351.5 510.9 352.1 511.3 365.3 511.6 353.9 512 348.2 512.3 360.7 512.7 354.3 513 351.2 513.4 351 513.7 348.1 514.1 349.3 514.4 344.7 514.8 350.4 515.1 355.8 515.5 360.3 515.8 338 516.2 347.6 516.5 370.4 516.9 355.8 517.2 365.2 517.6 355.2 517.9 376.8 518.3 362.5 518.6 365.7 519 363.1 519.3 382.3 519.7 366.3 520 379.4 520.4 358.8 520.7 367.8 521.1 358.9 521.4 371.4 521.8 355.7 522.1 377.3 522.5 381.5 522.8 377.8 523.2 363.4 523.5 375.6 523.9 375.2" fill="none" stroke="#a4a600" stroke-width="0.9" stroke-linejoin="round"/>
<path d="M394 427.2 394.7 427.2 395.4 427.7 396.1 427.2 396.8 427 397.5 426.9 398.2 426.8 398.9 427.3 399.6 426.3 400.3 426.6 401 427 401.7 427 402.4 426 403.1 426.2 403.8 425.8 404.5 426 405.2 426 405.9 425.7 406.6 426.5 407.3 425.4 408 425.5 408.7 425.9 409.4 425.7 410.1 425.7 410.8 424.8 411.5 425 412.2 425 412.9 424.2 413.6 424.4 414.3 424.5 415 424.2 415.7 424.1 416.4 423.3 417.1 423.8 417.8 424 418.5 422.8 419.2 423.1 419.9 422.6 420.6 422.2 421.3 423.4 422 422.3 422.7 421.5 423.4 421.8 424.1 421.4 424.8 421.3 425.5 421.7 426.2 421.5 426.9 421.8 427.6 421.8 428.3 420.8 429 420.5 429.7 420.6 430.4 420.6 431.1 420.2 431.8 420.1 432.5 421.2 433.2 419.5 433.9 420.7 434.6 419.9 435.3 420 436 420.3 436.7 419.5 437.4 420.1 438.1 418.9 438.8 419.4 439.5 418.2 440.2 418.7 440.9 418.1 441.6 419 442.3 418.9 443 418.8 443.7 418 444.4 417.6 445.1 417.5 445.8 417.7 446.5 417.9 447.2 416.7 447.9 417.8 448.6 416.6 449.3 416.7 450 415.4 450.7 415.6 451.4 416.2 452.1 416.3 452.8 415.2 453.5 415.6 454.2 414.6 454.9 414.2 455.6 415.4 456.3 415.3 457 415.4 457.7 414.4 458.4 415.1 459.1 415.5 459.8 416.1 460.5 414.7 461.2 416.1 461.9 416 462.6 414.6 463.3 415.9 464 416.4 464.7 415.7 465.4 415.5 466.1 416 466.8 415.6 467.5 415.8 468.2 416.2 468.9 415.5 469.6 415.4 470.3 415.7 471 415.6 471.7 417 472.4 416.4 473.1 415.9 473.8 417.3 474.5 417.7 475.2 417.7 475.9 417.8 476.6 417.3 477.3 417.3 478 418.2 478.7 418 479.4 417.6 480.1 417.8 480.8 418.7 481.5 419 482.2 418.9 482.9 419.8 483.6 418.7 484.3 419.5 485 419.3 485.7 420.3 486.4 419.7 487.1 420.1 487.8 420.8 488.5 421.3 489.2 420.5 489.9 421.1 490.6 421.8 491.3 421.5 492 421.5 492.7 422.3 493.4 422.4 494.1 422.2 494.8 423 495.5 423.2 496.2 423.2 496.9 423.7 497.6 424.4 498.3 423.5 499 424.6 499.7 425 500.4 425.2 501.1 424.6 501.8 424.7 502.5 425.7 503.2 425.6 503.9 425.9 504.6 425.9 505.3 426.1 506 426.4 506.7 426.6 507.4 427.1 508.1 427 508.8 426.7 509.5 427.8 510.2 427.1 510.9 428.1 511.6 427.5 512.3 428 513 427.8 513.7 428.8 514.4 428.5 515.1 428.8 515.8 428.8 516.5 429.3 517.2 429.7 517.9 429.8 518.6 430.3 519.3 429.7 520 430.3 520.7 430.3 521.4 430.6 522.1 430.9 522.8 430.9 523.5 431.6 523.5 433.5 522.8 433.2 522.1 433 521.4 433 520.7 433.2 520 432.7 519.3 432.6 518.6 432.5 517.9 431.8 517.2 432 516.5 431.5 515.8 431.5 515.1 431.6 514.4 431.1 513.7 431 513 431.1 512.3 430.8 511.6 430.5 510.9 430 510.2 429.9 509.5 430.2 508.8 430 508.1 429.6 507.4 429.7 506.7 429.3 506 429.2 505.3 429.2 504.6 428.8 503.9 428.8 503.2 428.5 502.5 428.1 501.8 428.1 501.1 427.8 500.4 427.4 499.7 427.9 499 427.5 498.3 427.3 497.6 426.6 496.9 427 496.2 426.2 495.5 426.6 494.8 426.2 494.1 425.7 493.4 426 492.7 425.5 492 425.7 491.3 425.6 490.6 424.7 489.9 425.3 489.2 424.5 488.5 424.8 487.8 424.2 487.1 424.3 486.4 424.2 485.7 424.2 485 423 484.3 423.2 483.6 423.2 482.9 422.7 482.2 423.2 481.5 423 480.8 422.7 480.1 422.3 479.4 422.9 478.7 422.4 478 422 477.3 421.4 476.6 421.6 475.9 421.6 475.2 421.1 474.5 421.1 473.8 420.6 473.1 420.8 472.4 420.9 471.7 420.9 471 421 470.3 419.9 469.6 420.3 468.9 420.3 468.2 419.9 467.5 420 466.8 420.6 466.1 420.4 465.4 420.9 464.7 420.4 464 420 463.3 420.1 462.6 420.6 461.9 420.7 461.2 420.2 460.5 419.9 459.8 419.9 459.1 419.8 458.4 420 457.7 420 457 420.5 456.3 420.3 455.6 420.1 454.9 420.6 454.2 420.2 453.5 420.3 452.8 421.2 452.1 421.4 451.4 420.4 450.7 420.5 450 421.3 449.3 421.6 448.6 422.3 447.9 422 447.2 421.4 446.5 422 445.8 422.3 445.1 422 444.4 422.6 443.7 422.8 443 422.5 442.3 422.6 441.6 423.5 440.9 423.5 440.2 423 439.5 423.8 438.8 423.2 438.1 424.2 437.4 423.9 436.7 424.2 436 424.6 435.3 424.2 434.6 423.9 433.9 424.3 433.2 425.3 432.5 425.1 431.8 425.4 431.1 425.6 430.4 425.4 429.7 425.9 429 425.7 428.3 426.1 427.6 425.8 426.9 426.5 426.2 425.8 425.5 425.9 424.8 427 424.1 426.9 423.4 427.2 422.7 426.8 422 426.6 421.3 427 420.6 427.8 419.9 427.9 419.2 428 418.5 427.2 417.8 427.2 417.1 427.9 416.4 428.3 415.7 428.1 415 428.2 414.3 428.5 413.6 428.3 412.9 428.1 412.2 428.2 411.5 428.3 410.8 428.8 410.1 429 409.4 428.7 408.7 428.5 408 428.6 407.3 428.9 406.6 428.9 405.9 429.1 405.2 428.6 404.5 428.7 403.8 429.1 403.1 428.8 402.4 429.2 401.7 428.9 401 429.2 400.3 429.4 399.6 429.4 398.9 429.2 398.2 429.2 397.5 429.3 396.8 429.7 396.1 429.7 395.4 429.8 394.7 429.9 394 429.7Z" fill="#ef8565" fill-opacity="0.12"/>
<path d="M414.6 424 415 407.4 415.4 427.2 416.4 418.4 416.8 425.6 417.5 427.1 417.9 404.1 418.3 425.3 419.3 416 419.6 426.9 420.2 427.8 420.6 393.1 421 423.2 422.1 416.9 422.4 423.1 423 424.9 423.4 395.5 423.8 426.9 424.8 414.9 425.1 421.7 425.8 425.5 426.2 400.2 426.6 425.2 427.7 414.7 428 425.3 428.8 424.6 429.2 397.5 429.6 424.4 430.7 407.7 431 422.9 431.8 421 432.2 394.6 432.6 422.5 433.6 406.3 433.9 421.4 434.8 421.7 435.2 387.8 435.6 421.2 436.6 403.3 436.9 420.9 437.7 422.6 438.1 386 438.5 423.6 439.6 417.1 439.9 419.9 440.6 422.6 441 385.2 441.4 419.3 442.5 411 442.8 421.4 443.6 419.6 444 389.6 444.4 416.9 445.5 409 445.8 418.7 446.5 418.6 446.9 383.7 447.3 418.1 448.3 401.1 448.6 421.6 449.4 421.9 449.8 379.2 450.2 417.7 451.2 405.7 451.5 421.1 452.2 418.1 452.6 378.2 453 419.8 454 406.9 454.3 417.2 455.1 414.5 455.5 377.4 455.9 417.6 456.9 406.8 457.2 415.3 458 420.7 458.4 384.6 458.8 417.3 459.9 398.3 460.2 414.9 460.9 416.1 461.3 379.8 461.7 418.5 462.8 398.2 463.1 419.8 463.7 420.2 464.1 392 464.5 420 465.6 400.8 465.9 416.5 466.5 417.4 466.9 387.8 467.3 417 468.4 409.1 468.7 419.1 469.3 418.3 469.7 385.6 470.1 420.6 471.2 400.5 471.5 418 472.3 417 472.7 396.1 473.1 417.6 474.1 411.2 474.4 416.1 475.1 419 475.5 391.3 475.9 418.8 477 416.3 477.3 419.9 478.2 417.8 478.6 394.5 479 420.3 480 407.7 480.3 422.5 481.1 418.7 481.5 400.5 481.9 420.9 482.9 407.8 483.2 419.8 483.9 421.2 484.3 403 484.7 422.2 485.7 411.2 486 423.7 486.8 423.6 487.2 403.1 487.6 424.5 488.6 411.7 488.9 423.1 489.7 423.8 490.1 405.5 490.5 424.5 491.5 414.8 491.8 424.4 492.7 423.9 493.1 407.7 493.5 424.8 494.5 417.3 494.8 422.4 495.6 423.8 496 414 496.4 424.7 497.5 420.7 497.8 423.8 498.6 424.3 499 413.9 499.4 427.3 500.4 420.5 500.7 424 501.4 424.6 501.8 417.6 502.2 426.3 503.3 423.7 503.6 428.3 504.3 427.9 504.7 418.4 505.1 425.6 506.1 422.3 506.4 427.6 507.1 427.2 507.5 420.6 507.9 429 509 422.4 509.3 428.7 510.1 428.8 510.5 419.7 510.9 430 511.9 426 512.2 427.6 513.1 428.4 513.5 423.1 513.9 428.7 514.9 426.8 515.2 429.7 515.9 431.9 516.3 422.8 516.7 430.2 517.7 427 518 432 518.9 430.1 519.3 426.5 519.7 430.6 520.7 427.4 521 430.2 521.7 431.8 522.1 427.3 522.5 432.1 523.5 428.8 523.8 431.4" fill="none" stroke="#ef8565" stroke-width="0.9" stroke-opacity="1" stroke-linejoin="round"/>
<path d="M583 389.2 583.6 393.1 584.2 378.6 584.8 381.4 585.4 386.8 586 387.8 586.6 384.8 587.2 383.6 587.8 387.2 588.4 390.9 589 390.4 589.6 385.7 590.2 381.2 590.8 391.9 591.4 389.1 592 383.5 592.6 384.2 593.2 382.8 593.8 394.9 594.4 385.1 595 386.7 595.6 394.7 596.2 384.4 596.8 383.8 597.4 393.7 598 391.8 598.6 383.8 599.2 395.3 599.8 387.4 600.4 391.9 601 382.5 601.6 392.3 602.2 395.8 602.8 390.1 603.4 394.2 604 385.3 604.6 385.3 605.2 392 605.8 384.1 606.4 391.5 607 397.6 607.6 386.6 608.2 387.5 608.8 386.7 609.4 389.4 610 392.9 610.6 387.2 611.2 389.5 611.8 393.7 612.4 390.7 613 386.4 613.6 394.2 614.2 392.9 614.8 395 615.4 393.1 616 386.2 616.6 396.4 617.2 397.9 617.8 386.5 618.4 397.9 619 391.3 619.6 392.1 620.2 393.4 620.8 395.2 621.4 382.2 622 382.3 622.6 380.4 623.2 383.6 623.8 385.7 624.4 377.3 625 380.4 625.6 376.3 626.2 366 626.8 366.9 627.4 363.8 628 360.4 628.6 353.7 629.2 353.5 629.8 348.5 630.4 330.4 631 327.5 631.6 324 632.2 311.9 632.8 299.9 633.4 297.7 634 289.3 634.6 284.6 635.2 293.3 635.8 288.6 636.4 285.4 637 286.3 637.6 279.1 638.2 280.5 638.8 278.9 639.4 286.7 640 282.8 640.6 287.2 641.2 280.2 641.8 284.1 642.4 287.1 643 285.1 643.6 281.7 644.2 279.4 644.8 283.9 645.4 284.3 646 279.5 646.6 273.6 647.2 278.6 647.8 275.3 648.4 280.2 649 275.3 649.6 280 650.2 272.7 650.8 280.2 651.4 277.7 652 272.9 652.6 284.4 653.2 279.6 653.8 282.2 654.4 272.3 655 278.6 655.6 277.5 656.2 289.6 656.8 289.4 657.4 296.4 658 296.4 658.6 307.3 659.2 323.6 659.8 320.8 660.4 312 661 315 661.6 298.5 662.2 287.9 662.8 280.5 663.4 275.3 664 280 664.6 283.5 665.2 283.9 665.8 282.8 666.4 276.7 667 285.9 667.6 284.1 668.2 278.2 668.8 278.6 669.4 287.4 670 284.5 670.6 280.3 671.2 289.5 671.8 284.2 672.4 283.4 673 292.9 673.6 279.9 674.2 292.4 674.8 280 675.4 286.8 676 286.7 676.6 289.8 677.2 289.4 677.8 290.6 678.4 286.2 679 286.9 679.6 290.7 680.2 288.1 680.8 293 681.4 299 682 295.5 682.6 300.2 683.2 301.1 683.8 301.5 684.4 295.6 685 299.8 685.6 291.9 686.2 292.7 686.8 293.8 687.4 292 688 299.3 688.6 306.1 689.2 303.2 689.8 297 690.4 302.7 691 299.1 691.6 303.3 692.2 302.9 692.8 309.6 693.4 302.4 694 304 694.6 312.3 695.2 310.5 695.8 315.5 696.4 304.6 697 315.2 697.6 305.6 698.2 317.8 698.8 307 699.4 321.5 700 317.4 700.6 319.3 701.2 316.5 701.8 323.7 702.4 312.1 703 315.4 703.6 312.1 704.2 318.5 704.8 319.2 705.4 327.4 706 316.9 706.6 318 707.2 322.6 707.8 330.9 708.4 324.2 709 326.5 709.6 328.8 710.2 329.5 710.8 335 711.4 340.4 712 332.6 712.6 341.3 712.6 362.2 712 352.6 711.4 360.4 710.8 356.8 710.2 348.8 709.6 350.5 709 350.1 708.4 346.5 707.8 356.7 707.2 357.7 706.6 347.9 706 352.7 705.4 344.8 704.8 345.9 704.2 339.8 703.6 347.5 703 344.1 702.4 337.4 701.8 339.1 701.2 340.5 700.6 347.8 700 342.1 699.4 343.4 698.8 341.1 698.2 338.7 697.6 331.6 697 340.1 696.4 336.2 695.8 338 695.2 338.2 694.6 336 694 329 693.4 328.3 692.8 334.8 692.2 333.8 691.6 332.7 691 326.4 690.4 326 689.8 332.5 689.2 327.1 688.6 326.7 688 328.3 687.4 328.8 686.8 319.5 686.2 323 685.6 316.9 685 319.4 684.4 315.7 683.8 324.8 683.2 319 682.6 324.5 682 315.4 681.4 315.3 680.8 318.3 680.2 319.5 679.6 315.3 679 309.7 678.4 315.5 677.8 309.5 677.2 318.2 676.6 315.5 676 308.9 675.4 307.5 674.8 308.3 674.2 309.5 673.6 307.1 673 309 672.4 307.9 671.8 306.1 671.2 310.1 670.6 302.9 670 301.3 669.4 304.5 668.8 299.9 668.2 299.5 667.6 297.9 667 296.9 666.4 299.4 665.8 297.8 665.2 301.4 664.6 295.2 664 296.1 663.4 299.4 662.8 296.9 662.2 303.5 661.6 315 661 322.2 660.4 327.7 659.8 335.4 659.2 333.9 658.6 323.2 658 315.3 657.4 320.6 656.8 310.8 656.2 307.4 655.6 304.7 655 293.4 654.4 301.6 653.8 297.6 653.2 303.6 652.6 299.2 652 299.6 651.4 295.7 650.8 297.1 650.2 302.6 649.6 294 649 296.9 648.4 295.4 647.8 294.8 647.2 300.4 646.6 296.3 646 298 645.4 299.9 644.8 299.5 644.2 301.9 643.6 303.7 643 301.6 642.4 300.1 641.8 296.8 641.2 301.7 640.6 302.5 640 305.4 639.4 307.8 638.8 303.7 638.2 302.3 637.6 300.7 637 305.4 636.4 306.7 635.8 310.9 635.2 307.1 634.6 311.2 634 309.4 633.4 309.8 632.8 325.3 632.2 326.9 631.6 341.1 631 346 630.4 351 629.8 359 629.2 374.8 628.6 377.5 628 386.6 627.4 385.4 626.8 396.7 626.2 390.1 625.6 390.2 625 394.1 624.4 397.9 623.8 405.2 623.2 404.2 622.6 405.8 622 402.9 621.4 409.2 620.8 411.6 620.2 408.9 619.6 412.2 619 416.4 618.4 411.6 617.8 412.9 617.2 417 616.6 409.4 616 412.8 615.4 413.7 614.8 410 614.2 413.5 613.6 418 613 413.8 612.4 414.1 611.8 413.3 611.2 407.4 610.6 416.3 610 409.7 609.4 415 608.8 417 608.2 414.3 607.6 411 607 412.5 606.4 413.6 605.8 406.1 605.2 411.5 604.6 409.1 604 406.5 603.4 405.7 602.8 412.6 602.2 406.9 601.6 412.8 601 416.5 600.4 408.8 599.8 410.3 599.2 410.6 598.6 408.5 598 411.6 597.4 405.3 596.8 407 596.2 407.2 595.6 408.8 595 411.6 594.4 403.8 593.8 408 593.2 407.4 592.6 404.1 592 414.3 591.4 407.3 590.8 407.2 590.2 414.5 589.6 408.3 589 403.9 588.4 406.2 587.8 406.3 587.2 405.3 586.6 410.4 586 403.5 585.4 403 584.8 406.9 584.2 411.3 583.6 407.8 583 410Z" fill="#6ca2de" fill-opacity="0.45"/>
<path d="M583 359.9 583.4 374.6 583.7 413.9 584.1 379.7 584.4 368.5 584.8 403.2 585.1 395.3 585.5 391 585.8 403.9 586.2 390.2 586.5 378.1 586.9 378.7 587.2 408.9 587.6 399.8 587.9 391.9 588.3 373.5 588.6 375.9 589 418 589.3 383.9 589.7 423.2 590 407.6 590.4 392.9 590.7 383.5 591.1 412.7 591.4 376.6 591.8 404.4 592.1 381 592.5 378.2 592.8 418.2 593.2 413.5 593.5 379.4 593.9 414.5 594.2 375.5 594.6 374.1 594.9 417.7 595.3 394.6 595.6 404.9 596 388 596.3 379.9 596.7 411.6 597 406.3 597.4 410.1 597.7 381.6 598.1 378.3 598.4 381.3 598.8 394.2 599.1 369.2 599.5 416.1 599.8 380.6 600.2 404.8 600.5 405.3 600.9 373.9 601.2 388.3 601.6 420 601.9 410.7 602.3 379.3 602.6 417.7 603 388.8 603.3 409.2 603.7 404.4 604 374.6 604.4 385.1 604.7 420.8 605.1 381.5 605.4 434.5 605.8 394.1 606.1 397.5 606.5 418.7 606.8 377.9 607.2 393.3 607.5 379.2 607.9 385.7 608.2 392.9 608.6 417.3 608.9 407.5 609.3 394.5 609.6 432.2 610 428.1 610.3 393.6 610.7 396.6 611 403.1 611.4 384 611.7 399.9 612.1 391.3 612.4 416.2 612.8 382.5 613.1 379.9 613.5 390.9 613.8 404.8 614.2 385.8 614.5 421.1 614.9 386.7 615.2 401.7 615.6 407.9 615.9 400.9 616.3 414.6 616.6 421.4 617 388.9 617.3 405.5 617.7 387.4 618 380.4 618.4 391.1 618.7 424.9 619.1 386.5 619.4 405.4 619.8 384.1 620.1 428.2 620.5 411.9 620.8 393 621.2 392 621.5 416.1 621.9 374.8 622.2 373.8 622.6 396.7 622.9 395.8 623.3 387.4 623.6 400.4 624 393 624.3 376.2 624.7 410.1 625 396.5 625.4 362.1 625.7 359.4 626.1 398.4 626.4 358.8 626.8 398.5 627.1 381.5 627.5 390.9 627.8 392 628.2 368 628.5 384.7 628.9 354.8 629.2 374 629.6 343.7 629.9 332.8 630.3 344.5 630.6 334.8 631 323.3 631.3 316.9 631.7 342.8 632 309.9 632.4 321.8 632.7 307 633.1 293.4 633.4 292.5 633.8 310.4 634.1 308 634.5 313.7 634.8 305.7 635.2 270 635.5 275.3 635.9 288.2 636.2 269.2 636.6 280.9 636.9 302.9 637.3 317.9 637.6 272 638 312.9 638.3 301.1 638.7 300.6 639 303.1 639.4 305.3 639.7 279.5 640.1 286.9 640.4 277.2 640.8 298.5 641.1 287 641.5 295.8 641.8 293.3 642.2 279.4 642.5 285.1 642.9 301.2 643.2 282.6 643.6 275.9 643.9 289.6 644.3 269.8 644.6 274.5 645 298.8 645.3 277.7 645.7 277.9 646 281.1 646.4 298.7 646.7 304.8 647.1 300.9 647.4 270.6 647.8 285.7 648.1 285.3 648.5 267.5 648.8 287.4 649.2 282.4 649.5 305.9 649.9 308.3 650.2 284.4 650.6 289.7 650.9 297.2 651.3 306.6 651.6 300.1 652 298.4 652.3 291.8 652.7 276.6 653 320.1 653.4 277 653.7 298.1 654.1 275.3 654.4 290.5 654.8 309.8 655.1 299.8 655.5 289.8 655.8 300.6 656.2 300.9 656.5 296.3 656.9 306.3 657.2 306.8 657.6 316.8 657.9 304.2 658.3 304.6 658.6 326.3 659 315.9 659.3 328.2 659.7 323.3 660 320.9 660.4 331.4 660.7 319.6 661.1 333.2 661.4 326 661.8 297.1 662.1 278 662.5 282.9 662.8 285.1 663.2 275.6 663.5 286.6 663.9 279.8 664.2 274.2 664.6 297 664.9 290 665.3 304.7 665.6 271.6 666 270.7 666.3 284.3 666.7 305.8 667 309.5 667.4 294.7 667.7 282.1 668.1 290.5 668.4 306.1 668.8 306.7 669.1 292.7 669.5 261.9 669.8 306 670.2 276.3 670.5 297.1 670.9 307.4 671.2 298.1 671.6 301.9 671.9 309.5 672.3 292.7 672.6 298.6 673 296.8 673.3 305 673.7 289.5 674 320.4 674.4 274.1 674.7 321.9 675.1 301.3 675.4 296.1 675.8 290.7 676.1 300.6 676.5 290.7 676.8 326.5 677.2 318.7 677.5 337.5 677.9 283.5 678.2 296.2 678.6 291.8 678.9 318.4 679.3 278.5 679.6 324 680 284.5 680.3 329.4 680.7 281.3 681 284.6 681.4 277.9 681.7 307.2 682.1 300.5 682.4 292.4 682.8 327.1 683.1 329.5 683.5 314.2 683.8 333.2 684.2 295.7 684.5 297.6 684.9 283.8 685.2 271.2 685.6 329 685.9 298.5 686.3 270.8 686.6 285.8 687 329.9 687.3 307.4 687.7 339.2 688 326.7 688.4 285 688.7 324.4 689.1 297 689.4 305.6 689.8 291.4 690.1 324 690.5 337.9 690.8 301.4 691.2 303.5 691.5 313.2 691.9 340.9 692.2 301.3 692.6 322.6 692.9 332.7 693.3 304 693.6 325.3 694 333.6 694.3 307.9 694.7 347.7 695 308 695.4 327.1 695.7 330.7 696.1 342 696.4 313.9 696.8 286.8 697.1 310.5 697.5 305.1 697.8 352.3 698.2 300.8 698.5 297.1 698.9 285.2 699.2 331.7 699.6 315.2 699.9 322.7 700.3 347.1 700.6 317.4 701 352 701.3 356.2 701.7 343.4 702 329.3 702.4 318.5 702.7 312 703.1 371.9 703.4 304.4 703.8 313.1 704.1 340.4 704.5 353.8 704.8 360.6 705.2 354.7 705.5 329.6 705.9 328.9 706.2 337.3 706.6 362.8 706.9 326.4 707.3 344.4 707.6 311.4 708 341 708.3 320.3 708.7 312.6 709 366.6 709.4 330.1 709.7 367.9 710.1 347 710.4 316.3 710.8 359.9 711.1 339.7 711.5 323.7 711.8 323.4 712.2 328.4 712.5 348.2 712.9 331.1" fill="none" stroke="#6ca2de" stroke-width="0.8" stroke-linejoin="round"/>
<path d="M583 347.8 583.6 349 584.2 357 584.8 361.6 585.4 358.7 586 360.6 586.6 350.4 587.2 350.7 587.8 352 588.4 353.5 589 354.9 589.6 358.5 590.2 349.8 590.8 355.6 591.4 357.3 592 350.3 592.6 358.5 593.2 347.2 593.8 348.9 594.4 354.8 595 357 595.6 357.8 596.2 346.4 596.8 357.9 597.4 359.2 598 357.4 598.6 355.5 599.2 358.5 599.8 357.6 600.4 352.5 601 355 601.6 345.2 602.2 355.2 602.8 350.1 603.4 346.8 604 344 604.6 355 605.2 342.7 605.8 353.1 606.4 348.4 607 341.8 607.6 339.1 608.2 348.5 608.8 341.3 609.4 343.7 610 346.4 610.6 338.4 611.2 337.8 611.8 341.7 612.4 337.4 613 345.3 613.6 337.7 614.2 340.6 614.8 340.1 615.4 340.2 616 332.7 616.6 332 617.2 342.4 617.8 337.4 618.4 336.3 619 339.1 619.6 336.2 620.2 333.4 620.8 328.7 621.4 334.8 622 327 622.6 328.7 623.2 337 623.8 332.5 624.4 329 625 333.6 625.6 330.5 626.2 334.3 626.8 326.4 627.4 323.9 628 326.5 628.6 326.1 629.2 330.8 629.8 319.8 630.4 329.2 631 319 631.6 328.2 632.2 317.7 632.8 326.1 633.4 322.3 634 319.6 634.6 320.3 635.2 317.5 635.8 315.8 636.4 311.7 637 315.6 637.6 310.6 638.2 319.7 638.8 308 639.4 311.2 640 315.1 640.6 313.5 641.2 307.9 641.8 310.3 642.4 312 643 306.2 643.6 313.9 644.2 308.4 644.8 312.6 645.4 314.2 646 312.7 646.6 311.2 647.2 317 647.8 316.7 648.4 311.7 649 313.9 649.6 313.3 650.2 311.6 650.8 316.8 651.4 317 652 315.4 652.6 316.3 653.2 315.5 653.8 325 654.4 322.2 655 324.5 655.6 323.1 656.2 321.5 656.8 331.1 657.4 330.3 658 328.7 658.6 327.5 659.2 335.5 659.8 333.8 660.4 336.5 661 337.3 661.6 337.3 662.2 338.2 662.8 333.6 663.4 338.1 664 339.6 664.6 333.7 665.2 340.1 665.8 337.5 666.4 337.2 667 339.4 667.6 334.2 668.2 335.3 668.8 342.6 669.4 336.8 670 340.5 670.6 343 671.2 339.4 671.8 341.3 672.4 338.9 673 344.5 673.6 345.7 674.2 338.1 674.8 343.3 675.4 342.6 676 340.8 676.6 348 677.2 342.2 677.8 341.2 678.4 344.5 679 342.9 679.6 345.2 680.2 349.9 680.8 348.3 681.4 349.1 682 348.8 682.6 350.8 683.2 345.6 683.8 351.6 684.4 350 685 353.4 685.6 353.3 686.2 355.1 686.8 354.6 687.4 350.7 688 354 688.6 357.1 689.2 353.1 689.8 352.2 690.4 358.5 691 354.6 691.6 356.8 692.2 353 692.8 354.6 693.4 353.6 694 359.1 694.6 356 695.2 356.8 695.8 362.2 696.4 363.3 697 359.7 697.6 360.9 698.2 361.3 698.8 364.9 699.4 363.1 700 360.6 700.6 366.2 701.2 364.2 701.8 361.2 702.4 361.9 703 365.3 703.6 368.7 704.2 363 704.8 367 705.4 370.8 706 367.1 706.6 370 707.2 365.8 707.8 369 708.4 373.3 709 372.4 709.6 373.2 710.2 371.6 710.8 374.8 711.4 374.7 712 375 712.6 378.4 712.6 385.2 712 382.6 711.4 386.7 710.8 383.7 710.2 385.2 709.6 382.7 709 381 708.4 381 707.8 378.3 707.2 380.1 706.6 380.8 706 378.1 705.4 377.5 704.8 379.6 704.2 375.6 703.6 378.5 703 378.8 702.4 374.1 701.8 377.2 701.2 374.3 700.6 376.8 700 377.5 699.4 374.6 698.8 371.5 698.2 369.9 697.6 371 697 368.7 696.4 368.3 695.8 373.1 695.2 372.7 694.6 369.9 694 369.4 693.4 367.5 692.8 366.9 692.2 369.9 691.6 370 691 364.1 690.4 364.1 689.8 362.8 689.2 362.1 688.6 361.9 688 364.9 687.4 366.7 686.8 365.3 686.2 364.4 685.6 364.7 685 363.7 684.4 361.5 683.8 362.4 683.2 359.3 682.6 358.5 682 360.3 681.4 362.9 680.8 357 680.2 359.5 679.6 358.5 679 356.7 678.4 360.5 677.8 361.1 677.2 355 676.6 356.5 676 354.8 675.4 355 674.8 355 674.2 356.7 673.6 358.1 673 353.8 672.4 353.6 671.8 352.8 671.2 355.5 670.6 353.6 670 353.9 669.4 355.7 668.8 348.8 668.2 352.2 667.6 353.6 667 349.3 666.4 353.4 665.8 354.2 665.2 347.7 664.6 346.8 664 346.8 663.4 351.1 662.8 349.3 662.2 351.9 661.6 346.1 661 349.7 660.4 348.3 659.8 347.7 659.2 344 658.6 347.3 658 345.2 657.4 343.8 656.8 345.4 656.2 338.7 655.6 339.7 655 336 654.4 340.7 653.8 336.4 653.2 335.9 652.6 331.9 652 332.5 651.4 330.6 650.8 330.7 650.2 330.9 649.6 329.1 649 326.9 648.4 330.4 647.8 329.2 647.2 329.9 646.6 327.5 646 327.7 645.4 332.7 644.8 327 644.2 332.3 643.6 330.2 643 334.1 642.4 332.8 641.8 328.3 641.2 331 640.6 329.6 640 328.4 639.4 329.6 638.8 332.2 638.2 333 637.6 336.9 637 338.3 636.4 338.8 635.8 336.9 635.2 334.5 634.6 337.7 634 334.7 633.4 333.3 632.8 342.9 632.2 340.9 631.6 341.8 631 343.9 630.4 343.3 629.8 346.2 629.2 343.9 628.6 346.5 628 340.5 627.4 341.2 626.8 345.6 626.2 343.1 625.6 351.5 625 345.9 624.4 350.6 623.8 353.5 623.2 355.5 622.6 347.6 622 354.7 621.4 349.5 620.8 350.2 620.2 353 619.6 352.1 619 350.5 618.4 350.2 617.8 352.6 617.2 360.3 616.6 357.4 616 361.4 615.4 356.6 614.8 357.9 614.2 358.2 613.6 360.3 613 361.7 612.4 357.2 611.8 365.1 611.2 364.8 610.6 363.4 610 365.6 609.4 365.6 608.8 360.4 608.2 371.1 607.6 369 607 363.6 606.4 364.3 605.8 367.2 605.2 366.2 604.6 374.4 604 371 603.4 375.8 602.8 374.4 602.2 375.2 601.6 368.6 601 372.6 600.4 370.7 599.8 378.8 599.2 368.6 598.6 376.1 598 368.8 597.4 372.9 596.8 372.3 596.2 374.8 595.6 380 595 370.5 594.4 380.6 593.8 376.7 593.2 378.6 592.6 375.1 592 370.8 591.4 372.1 590.8 374.6 590.2 372.3 589.6 379.3 589 381 588.4 370.3 587.8 381.7 587.2 370.8 586.6 374.6 586 382.9 585.4 379 584.8 380.5 584.2 379.3 583.6 374 583 376.3Z" fill="#a4a600" fill-opacity="0.5"/>
<path d="M583 351.3 583.4 368 583.7 336.2 584.1 349.1 584.4 385 584.8 341 585.1 351.6 585.5 350.3 585.8 383 586.2 366.9 586.5 370.8 586.9 343.2 587.2 357.1 587.6 348.2 587.9 366.9 588.3 377.5 588.6 359.7 589 385.5 589.3 347.7 589.7 353.5 590 351.1 590.4 370.9 590.7 326.7 591.1 344.3 591.4 349.9 591.8 378.4 592.1 365 592.5 385.6 592.8 380.2 593.2 354.3 593.5 351.2 593.9 326.6 594.2 371.5 594.6 369.3 594.9 364.4 595.3 377.9 595.6 391.5 596 363.9 596.3 375.9 596.7 354.4 597 367.4 597.4 346.4 597.7 346.9 598.1 376.8 598.4 336.7 598.8 347.5 599.1 370.8 599.5 372.3 599.8 353.3 600.2 389.5 600.5 384.5 600.9 398.9 601.2 347.1 601.6 352.6 601.9 344.5 602.3 346.5 602.6 362.6 603 355.9 603.3 375.9 603.7 376.7 604 350.2 604.4 359.2 604.7 352.5 605.1 337.2 605.4 346.7 605.8 353.9 606.1 353.3 606.5 364.9 606.8 377.3 607.2 359.8 607.5 368 607.9 361.2 608.2 337.7 608.6 366.1 608.9 373.8 609.3 363.1 609.6 367.9 610 344.9 610.3 347.9 610.7 338.7 611 343.8 611.4 357.9 611.7 327.7 612.1 374.6 612.4 371.7 612.8 368.3 613.1 339.2 613.5 350.7 613.8 364 614.2 348.2 614.5 363.7 614.9 338.8 615.2 349.7 615.6 352.4 615.9 355.6 616.3 340.6 616.6 356 617 364.2 617.3 362.5 617.7 324.8 618 316.1 618.4 330.6 618.7 354.6 619.1 323.5 619.4 331.6 619.8 334 620.1 345.4 620.5 352.7 620.8 360 621.2 314.5 621.5 343.9 621.9 354.5 622.2 354.7 622.6 337.7 622.9 354.6 623.3 316.2 623.6 329.2 624 330.6 624.3 342.5 624.7 333.9 625 335.5 625.4 332.3 625.7 355.5 626.1 341.2 626.4 356.4 626.8 337 627.1 343.4 627.5 350.7 627.8 351.9 628.2 331.2 628.5 348.2 628.9 316.2 629.2 330.2 629.6 339.5 629.9 328.8 630.3 352.1 630.6 312.6 631 332.4 631.3 312 631.7 347.7 632 330.8 632.4 329.8 632.7 310.8 633.1 323.8 633.4 329.2 633.8 337.3 634.1 338.3 634.5 325.9 634.8 328.8 635.2 345.6 635.5 303.8 635.9 308.5 636.2 348.2 636.6 321.8 636.9 339.7 637.3 316 637.6 331.6 638 315.6 638.3 312.4 638.7 310.2 639 336.9 639.4 303.3 639.7 337.6 640.1 349.8 640.4 317.3 640.8 328 641.1 298.3 641.5 307.3 641.8 327.1 642.2 301.7 642.5 328.2 642.9 319.3 643.2 335.4 643.6 302.9 643.9 333.2 644.3 348.4 644.6 322.7 645 301.3 645.3 305.3 645.7 305.2 646 296.6 646.4 305.6 646.7 319.4 647.1 331.6 647.4 310.5 647.8 314.7 648.1 325.4 648.5 335.7 648.8 306.4 649.2 334.7 649.5 305.1 649.9 330.3 650.2 334.9 650.6 310.2 650.9 335 651.3 341.5 651.6 320.6 652 311.7 652.3 335.9 652.7 332.6 653 317.2 653.4 311.3 653.7 328 654.1 340.6 654.4 345.6 654.8 339 655.1 342.8 655.5 325.5 655.8 344.3 656.2 332.5 656.5 323.4 656.9 331.4 657.2 344.2 657.6 325.8 657.9 325.2 658.3 329.3 658.6 355.5 659 356.4 659.3 325.7 659.7 342.4 660 346 660.4 340.5 660.7 332.6 661.1 327 661.4 347.2 661.8 328.3 662.1 355.4 662.5 339.7 662.8 337.6 663.2 353.5 663.5 352.7 663.9 344.6 664.2 328.5 664.6 339.7 664.9 329.9 665.3 328.5 665.6 344.1 666 334.9 666.3 357.8 666.7 355.3 667 334.2 667.4 335.4 667.7 352.2 668.1 343.7 668.4 341.6 668.8 334.1 669.1 340.3 669.5 349.5 669.8 349.2 670.2 347.9 670.5 341.5 670.9 335.4 671.2 347.7 671.6 353.9 671.9 354.4 672.3 335.5 672.6 337.9 673 358.8 673.3 360.2 673.7 345 674 364.4 674.4 338.7 674.7 357.1 675.1 365.1 675.4 336.6 675.8 358.7 676.1 355.5 676.5 359.5 676.8 360.8 677.2 363.7 677.5 370.5 677.9 365.3 678.2 363.4 678.6 348.5 678.9 343.3 679.3 354.6 679.6 356.9 680 351.9 680.3 342 680.7 343 681 365.4 681.4 367.1 681.7 360.6 682.1 360.5 682.4 352 682.8 356.4 683.1 366.5 683.5 358.1 683.8 354.3 684.2 365.8 684.5 341.3 684.9 374.6 685.2 344.8 685.6 366.7 685.9 347.5 686.3 346.3 686.6 344.6 687 349.5 687.3 346 687.7 354.1 688 350.9 688.4 367.6 688.7 357.6 689.1 358.4 689.4 350.1 689.8 360.2 690.1 364.2 690.5 356.4 690.8 369.5 691.2 374.9 691.5 361.6 691.9 363.1 692.2 368.1 692.6 365 692.9 365.3 693.3 366.6 693.6 365.5 694 358.1 694.3 368.2 694.7 352 695 346.8 695.4 364.4 695.7 368.6 696.1 363.6 696.4 356 696.8 361.2 697.1 357.7 697.5 364.9 697.8 360.6 698.2 371.7 698.5 357 698.9 374.5 699.2 362.2 699.6 358.2 699.9 377.2 700.3 365.1 700.6 378.7 701 362.8 701.3 379.6 701.7 358 702 378.9 702.4 357.9 702.7 362.3 703.1 366.5 703.4 363.3 703.8 358.7 704.1 359.7 704.5 377.9 704.8 369.5 705.2 382.7 705.5 367.7 705.9 381.4 706.2 370.6 706.6 370.7 706.9 375.4 707.3 373.5 707.6 368 708 367.5 708.3 375.7 708.7 371.8 709 358.7 709.4 386.3 709.7 392.6 710.1 387.8 710.4 371.3 710.8 380.2 711.1 371.6 711.5 374.5 711.8 385.9 712.2 363.6 712.5 373.4 712.9 389.5" fill="none" stroke="#a4a600" stroke-width="0.9" stroke-linejoin="round"/>
<path d="M583 416.6 583.7 408.3 584.4 414.4 585.1 417.5 585.8 411.6 586.5 416 587.2 409.9 587.9 413.6 588.6 412.6 589.3 414.1 590 413.5 590.7 418.9 591.4 415.5 592.1 417.7 592.8 411.7 593.5 410.5 594.2 409.8 594.9 408.1 595.6 413 596.3 414.4 597 405.2 597.7 402.7 598.4 402.3 599.1 401.4 599.8 406.1 600.5 409 601.2 403.5 601.9 403.9 602.6 409.4 603.3 409.4 604 399 604.7 400.7 605.4 409.1 606.1 406.5 606.8 407.5 607.5 405.9 608.2 400.9 608.9 401.9 609.6 403.6 610.3 403.3 611 401.2 611.7 394.2 612.4 405.4 613.1 397.6 613.8 393.7 614.5 400.4 615.2 399 615.9 399.3 616.6 401.2 617.3 392.6 618 401.9 618.7 399.6 619.4 393.2 620.1 396.9 620.8 401 621.5 395.3 622.2 398.6 622.9 399.1 623.6 400.2 624.3 396.4 625 398.1 625.7 397.3 626.4 396.3 627.1 393.6 627.8 396.3 628.5 396.1 629.2 394.1 629.9 392.3 630.6 397.7 631.3 399.1 632 403.1 632.7 399.7 633.4 398.3 634.1 394.5 634.8 395.9 635.5 398.1 636.2 400.6 636.9 398.1 637.6 406.4 638.3 397.3 639 404.2 639.7 405.9 640.4 401.4 641.1 403.9 641.8 405.8 642.5 405.6 643.2 398.3 643.9 404.1 644.6 405.7 645.3 396.2 646 398.6 646.7 404 647.4 396.5 648.1 395.7 648.8 403 649.5 400.3 650.2 396.5 650.9 402 651.6 400.4 652.3 397.2 653 399.3 653.7 396.6 654.4 396.1 655.1 393 655.8 396.8 656.5 391.7 657.2 399.5 657.9 400.8 658.6 395.4 659.3 397.3 660 397.2 660.7 396 661.4 399.7 662.1 401.3 662.8 405.5 663.5 406.3 664.2 404.8 664.9 402.2 665.6 407.8 666.3 402 667 409.4 667.7 405.7 668.4 412.9 669.1 406.8 669.8 407.7 670.5 413.7 671.2 408.4 671.9 414.9 672.6 407 673.3 416.7 674 415.9 674.7 412.2 675.4 416.7 676.1 417.9 676.8 418 677.5 412.1 678.2 411 678.9 415.5 679.6 421.1 680.3 416.9 681 417.2 681.7 417.7 682.4 420.6 683.1 423.7 683.8 424.1 684.5 418 685.2 422 685.9 420 686.6 423.3 687.3 422.4 688 423.4 688.7 428.4 689.4 426.3 690.1 427.2 690.8 429.9 691.5 429.6 692.2 428.6 692.9 428.8 693.6 428.9 694.3 435.4 695 433.1 695.7 433.8 696.4 434.5 697.1 436.4 697.8 438.4 698.5 434.9 699.2 434.2 699.9 437.8 700.6 439.4 701.3 438.6 702 438.3 702.7 440.4 703.4 442.1 704.1 441.3 704.8 444.5 705.5 443.4 706.2 443.7 706.9 442.3 707.6 445.3 708.3 443.8 709 444.3 709.7 448.7 710.4 449.7 711.1 448.6 711.8 448.1 712.5 448.7 712.5 464.3 711.8 462.6 711.1 459.6 710.4 459.3 709.7 458.7 709 459.1 708.3 459.6 707.6 457.6 706.9 456.3 706.2 457.1 705.5 454.3 704.8 453.8 704.1 453.9 703.4 454.7 702.7 451.8 702 450.9 701.3 453.3 700.6 450.5 699.9 450.7 699.2 449.3 698.5 449.6 697.8 448.9 697.1 448.9 696.4 450.1 695.7 447.6 695 449.4 694.3 447 693.6 448.4 692.9 449.4 692.2 447.1 691.5 447.2 690.8 447 690.1 446.9 689.4 445.7 688.7 446.1 688 443.5 687.3 444.1 686.6 444.9 685.9 445.2 685.2 442.6 684.5 443.1 683.8 443.3 683.1 441.6 682.4 443.9 681.7 439.5 681 440.3 680.3 443.5 679.6 441 678.9 439.5 678.2 439.1 677.5 439.9 676.8 438.5 676.1 437.3 675.4 437.5 674.7 438 674 434.4 673.3 433.2 672.6 436 671.9 436.6 671.2 434.5 670.5 432.4 669.8 432.2 669.1 430.4 668.4 434.8 667.7 434.3 667 428.6 666.3 428.4 665.6 426.9 664.9 428.1 664.2 425.6 663.5 429.1 662.8 428.7 662.1 427.5 661.4 423.6 660.7 427.9 660 426.6 659.3 422.4 658.6 423.1 657.9 424.7 657.2 420.8 656.5 420.8 655.8 420.6 655.1 420.7 654.4 419 653.7 424.1 653 418.4 652.3 421.8 651.6 419.9 650.9 422 650.2 421.5 649.5 426 648.8 423.4 648.1 428.9 647.4 429.5 646.7 426.5 646 425.6 645.3 430.4 644.6 426.4 643.9 427.5 643.2 429.9 642.5 428.3 641.8 427.9 641.1 434.2 640.4 433 639.7 431.4 639 434.6 638.3 433.3 637.6 433.6 636.9 431.8 636.2 429.2 635.5 431.6 634.8 429.7 634.1 428.4 633.4 424.9 632.7 426.4 632 426.8 631.3 425.4 630.6 426.3 629.9 425.7 629.2 422.1 628.5 421 627.8 427.5 627.1 424.8 626.4 422.4 625.7 420.9 625 423.8 624.3 421.7 623.6 423.8 622.9 426.3 622.2 427.5 621.5 428.4 620.8 428.5 620.1 423.9 619.4 422.4 618.7 424 618 427.6 617.3 426.1 616.6 427.2 615.9 430.8 615.2 427.1 614.5 431.6 613.8 429.3 613.1 431.2 612.4 427.6 611.7 430.6 611 428.1 610.3 433.9 609.6 431 608.9 432.2 608.2 435.7 607.5 431.3 606.8 436.3 606.1 430.5 605.4 434.8 604.7 433.6 604 435.6 603.3 434.5 602.6 431.8 601.9 437 601.2 436.1 600.5 439.1 599.8 439.4 599.1 438.5 598.4 441.2 597.7 435.9 597 438.9 596.3 441.9 595.6 442.5 594.9 444.8 594.2 442.4 593.5 445.5 592.8 440.7 592.1 443 591.4 446.7 590.7 445.2 590 444.8 589.3 449.8 588.6 448.6 587.9 443.6 587.2 445.2 586.5 441.5 585.8 439.4 585.1 442.5 584.4 440.4 583.7 444.6 583 438.4Z" fill="#ef8565" fill-opacity="0.5"/>
<path d="M583.1 443.7 583.5 377.3 583.9 411.7 585 404.5 585.2 421.5 585.9 430.5 586.3 382.6 586.7 429.3 587.8 402.1 588.1 409.2 588.9 433.1 589.3 372.7 589.7 450.2 590.8 404 591.1 437.7 592 428.6 592.4 388.6 592.8 409.9 593.8 397.9 594.1 424.2 595 440.3 595.4 394.3 595.8 414.3 596.8 404.1 597.1 440 597.8 439.9 598.2 377.1 598.6 423.8 599.7 394.1 600 419.6 600.6 427.3 601 375.5 601.4 422.8 602.5 392.5 602.8 422.9 603.4 414.9 603.8 373.1 604.2 434.8 605.3 396.8 605.6 416.5 606.4 423.8 606.8 357.9 607.2 419.6 608.3 394.8 608.6 412.1 609.2 417 609.6 346.1 610 412.2 611.1 374.5 611.4 403.1 612.2 426 612.6 363.8 613 433.2 614 385.4 614.3 417.9 615.1 399.1 615.5 350.2 615.9 412.4 617 368.8 617.3 427.3 618 403.8 618.4 360.7 618.8 404.4 619.9 366.5 620.2 397.6 621 413.9 621.4 348.3 621.8 410.5 622.8 379.2 623.1 394.9 623.9 408.4 624.3 357.3 624.7 402.3 625.8 377.3 626.1 402.4 626.7 403.9 627.1 362.6 627.5 414.7 628.6 385.5 628.9 417.6 629.8 401.7 630.2 355 630.6 400.8 631.6 384.9 631.9 414.5 632.8 403.7 633.2 367.4 633.6 422.9 634.7 387.1 635 422.3 635.8 421.4 636.2 368.1 636.6 422.6 637.6 382.8 637.9 416.2 638.7 402.1 639.1 368.6 639.5 406.8 640.6 377.7 640.9 419.5 641.8 409.1 642.2 357.9 642.6 406.2 643.6 385.3 643.9 413.2 644.7 412.4 645.1 369.2 645.5 397.6 646.5 383 646.8 396.7 647.6 426 648 354.5 648.4 418.6 649.5 390.4 649.8 429.2 650.6 409.7 651 351.5 651.4 404.6 652.5 388.7 652.8 425.3 653.4 392.9 653.8 371.2 654.2 417.1 655.2 378.4 655.5 397.3 656.2 419 656.6 363.2 657 421.5 658 376.2 658.3 403.2 659.1 399.5 659.5 365.1 659.9 406.4 660.9 381.6 661.2 400 662.1 422.2 662.5 381.7 662.9 402 664 390.5 664.3 419.3 665.1 418.8 665.5 367.3 665.9 420.2 667 397.5 667.3 430.2 668.1 427.7 668.5 373.2 668.9 433.3 670 401.6 670.3 417.6 671.1 413 671.5 383.7 671.9 424.6 673 399.6 673.3 437.8 674 435.5 674.4 377 674.8 430.5 675.9 405.7 676.2 429.5 676.9 415.1 677.3 396.2 677.7 410.8 678.8 401.1 679.1 425.3 679.7 423.8 680.1 382.3 680.5 428.3 681.6 399.5 681.9 420.8 682.5 429.3 682.9 399.1 683.3 425.1 684.3 404.7 684.6 427.7 685.4 428.7 685.8 394 686.2 419.9 687.2 419.4 687.5 434.6 688.1 443.4 688.5 399.6 688.9 436 690 416.1 690.3 443.9 691.1 446.2 691.5 399.8 691.9 446.9 693 414.6 693.3 429.9 694 445.4 694.4 408.5 694.8 431.3 695.9 427.9 696.2 447.9 696.9 450.9 697.3 403.3 697.7 438.6 698.8 427.7 699.1 451 699.8 437.9 700.2 409.9 700.6 444.5 701.6 420.3 701.9 438.6 702.6 454 703 407.8 703.4 449.5 704.5 434.9 704.8 445.9 705.5 452.8 705.9 415.9 706.3 443.3 707.3 433.3 707.6 450.4 708.3 450.3 708.7 419.2 709.1 448.3 710.2 434.9 710.5 453.3 711.1 461.1 711.5 429.1 711.9 459.9 713 436.8" fill="none" stroke="#ef8565" stroke-width="1.0" stroke-opacity="1" stroke-linejoin="round"/>
<path d="M29.9 3.6H161.4V216.3H29.9Z" fill="none" stroke="#7a7a7a" stroke-width="1.2"/>
<path d="M29.9 211.57h2 M29.9 202.12h2 M29.9 192.67h4 M29.9 183.21h2 M29.9 173.76h2 M29.9 164.31h2 M29.9 154.85h2 M29.9 145.4h4 M29.9 135.95h2 M29.9 126.49h2 M29.9 117.04h2 M29.9 107.59h2 M29.9 98.13h4 M29.9 88.68h2 M29.9 79.23h2 M29.9 69.77h2 M29.9 60.32h2 M29.9 50.87h4 M29.9 41.41h2 M29.9 31.96h2 M29.9 22.51h2 M29.9 13.05h2 M36.48 216.3v-2M36.48 3.6v2 M43.05 216.3v-2M43.05 3.6v2 M49.62 216.3v-2M49.62 3.6v2 M56.2 216.3v-2M56.2 3.6v2 M62.77 216.3v-3.5M62.77 3.6v3.5 M69.35 216.3v-2M69.35 3.6v2 M75.92 216.3v-2M75.92 3.6v2 M82.5 216.3v-2M82.5 3.6v2 M89.07 216.3v-2M89.07 3.6v2 M95.65 216.3v-2M95.65 3.6v2 M102.22 216.3v-2M102.22 3.6v2 M108.8 216.3v-2M108.8 3.6v2 M115.38 216.3v-2M115.38 3.6v2 M121.95 216.3v-2M121.95 3.6v2 M128.53 216.3v-3.5M128.53 3.6v3.5 M135.1 216.3v-2M135.1 3.6v2 M141.68 216.3v-2M141.68 3.6v2 M148.25 216.3v-2M148.25 3.6v2 M154.82 216.3v-2M154.82 3.6v2 M161.4 39.3h-4 M161.4 86.23h-4 M161.4 133.17h-4 M161.4 180.1h-4" fill="none" stroke="#7a7a7a" stroke-width="1"/>
<text x="25.4" y="196.97" text-anchor="end" class="tk">10</text>
<text x="25.4" y="149.7" text-anchor="end" class="tk">20</text>
<text x="25.4" y="102.43" text-anchor="end" class="tk">30</text>
<text x="25.4" y="55.17" text-anchor="end" class="tk">40</text>
<text x="25.4" y="7.9" text-anchor="end" class="tk">50</text>
<text x="162.7" y="43" class="tk">32.4</text>
<text x="162.7" y="89.93" class="tk">32.3</text>
<text x="162.7" y="136.87" class="tk">32.2</text>
<text x="162.7" y="183.8" class="tk">32.1</text>
<text x="60.17" y="227.1" text-anchor="middle" class="tk">0.76</text>
<text x="125.93" y="227.1" text-anchor="middle" class="tk">0.77</text>
<text x="41.4" y="240.6" class="ti">Wavelength (μm)</text>
<text x="38" y="20.6" class="mol">O<tspan dx="1.2" dy="3.2" font-size="9.2">2</tspan></text>
<text x="150.8" y="205.6" text-anchor="end" class="star">F0V</text>
<path d="M204.6 3.6H335.4V216.3H204.6Z" fill="none" stroke="#7a7a7a" stroke-width="1.2"/>
<path d="M204.6 211.57h2 M204.6 202.12h2 M204.6 192.67h4 M204.6 183.21h2 M204.6 173.76h2 M204.6 164.31h2 M204.6 154.85h2 M204.6 145.4h4 M204.6 135.95h2 M204.6 126.49h2 M204.6 117.04h2 M204.6 107.59h2 M204.6 98.13h4 M204.6 88.68h2 M204.6 79.23h2 M204.6 69.77h2 M204.6 60.32h2 M204.6 50.87h4 M204.6 41.41h2 M204.6 31.96h2 M204.6 22.51h2 M204.6 13.05h2 M211.14 216.3v-2M211.14 3.6v2 M217.68 216.3v-2M217.68 3.6v2 M224.22 216.3v-2M224.22 3.6v2 M230.76 216.3v-2M230.76 3.6v2 M237.3 216.3v-3.5M237.3 3.6v3.5 M243.84 216.3v-2M243.84 3.6v2 M250.38 216.3v-2M250.38 3.6v2 M256.92 216.3v-2M256.92 3.6v2 M263.46 216.3v-2M263.46 3.6v2 M270 216.3v-2M270 3.6v2 M276.54 216.3v-2M276.54 3.6v2 M283.08 216.3v-2M283.08 3.6v2 M289.62 216.3v-2M289.62 3.6v2 M296.16 216.3v-2M296.16 3.6v2 M302.7 216.3v-3.5M302.7 3.6v3.5 M309.24 216.3v-2M309.24 3.6v2 M315.78 216.3v-2M315.78 3.6v2 M322.32 216.3v-2M322.32 3.6v2 M328.86 216.3v-2M328.86 3.6v2 M335.4 8.7h-4 M335.4 44.5h-4 M335.4 80.3h-4 M335.4 116.1h-4 M335.4 151.9h-4 M335.4 187.7h-4" fill="none" stroke="#7a7a7a" stroke-width="1"/>
<text x="200.1" y="196.97" text-anchor="end" class="tk">10</text>
<text x="200.1" y="149.7" text-anchor="end" class="tk">20</text>
<text x="200.1" y="102.43" text-anchor="end" class="tk">30</text>
<text x="200.1" y="55.17" text-anchor="end" class="tk">40</text>
<text x="200.1" y="7.9" text-anchor="end" class="tk">50</text>
<text x="336.7" y="12.4" class="tk">85.2</text>
<text x="336.7" y="48.2" class="tk">85.0</text>
<text x="336.7" y="84" class="tk">84.8</text>
<text x="336.7" y="119.8" class="tk">84.6</text>
<text x="336.7" y="155.6" class="tk">84.4</text>
<text x="336.7" y="191.4" class="tk">84.2</text>
<text x="234.7" y="227.1" text-anchor="middle" class="tk">0.76</text>
<text x="300.1" y="227.1" text-anchor="middle" class="tk">0.77</text>
<text x="216.1" y="240.6" class="ti">Wavelength (μm)</text>
<text x="220.9" y="20.6" class="mol">O<tspan dx="1.2" dy="3.2" font-size="9.2">2</tspan></text>
<text x="325" y="205.9" text-anchor="end" class="star">Sun</text>
<path d="M393.8 3.6H524.3V216.3H393.8Z" fill="none" stroke="#7a7a7a" stroke-width="1.2"/>
<path d="M393.8 211.57h2 M393.8 202.12h2 M393.8 192.67h4 M393.8 183.21h2 M393.8 173.76h2 M393.8 164.31h2 M393.8 154.85h2 M393.8 145.4h4 M393.8 135.95h2 M393.8 126.49h2 M393.8 117.04h2 M393.8 107.59h2 M393.8 98.13h4 M393.8 88.68h2 M393.8 79.23h2 M393.8 69.77h2 M393.8 60.32h2 M393.8 50.87h4 M393.8 41.41h2 M393.8 31.96h2 M393.8 22.51h2 M393.8 13.05h2 M400.32 216.3v-2M400.32 3.6v2 M406.85 216.3v-2M406.85 3.6v2 M413.38 216.3v-2M413.38 3.6v2 M419.9 216.3v-2M419.9 3.6v2 M426.43 216.3v-3.5M426.43 3.6v3.5 M432.95 216.3v-2M432.95 3.6v2 M439.47 216.3v-2M439.47 3.6v2 M446 216.3v-2M446 3.6v2 M452.52 216.3v-2M452.52 3.6v2 M459.05 216.3v-2M459.05 3.6v2 M465.57 216.3v-2M465.57 3.6v2 M472.1 216.3v-2M472.1 3.6v2 M478.62 216.3v-2M478.62 3.6v2 M485.15 216.3v-2M485.15 3.6v2 M491.67 216.3v-3.5M491.67 3.6v3.5 M498.2 216.3v-2M498.2 3.6v2 M504.72 216.3v-2M504.72 3.6v2 M511.25 216.3v-2M511.25 3.6v2 M517.77 216.3v-2M517.77 3.6v2 M524.3 18.4h-4 M524.3 44.5h-4 M524.3 70.6h-4 M524.3 96.7h-4 M524.3 122.8h-4 M524.3 148.9h-4 M524.3 175h-4 M524.3 201.1h-4" fill="none" stroke="#7a7a7a" stroke-width="1"/>
<text x="389.3" y="196.97" text-anchor="end" class="tk">10</text>
<text x="389.3" y="149.7" text-anchor="end" class="tk">20</text>
<text x="389.3" y="102.43" text-anchor="end" class="tk">30</text>
<text x="389.3" y="55.17" text-anchor="end" class="tk">40</text>
<text x="389.3" y="7.9" text-anchor="end" class="tk">50</text>
<text x="525.6" y="22.1" class="tk">292.0</text>
<text x="525.6" y="48.2" class="tk">291.5</text>
<text x="525.6" y="74.3" class="tk">291.0</text>
<text x="525.6" y="100.4" class="tk">290.5</text>
<text x="525.6" y="126.5" class="tk">290.0</text>
<text x="525.6" y="152.6" class="tk">289.5</text>
<text x="525.6" y="178.7" class="tk">289.0</text>
<text x="525.6" y="204.8" class="tk">288.5</text>
<text x="423.82" y="227.1" text-anchor="middle" class="tk">0.76</text>
<text x="489.07" y="227.1" text-anchor="middle" class="tk">0.77</text>
<text x="405.3" y="240.6" class="ti">Wavelength (μm)</text>
<text x="406.6" y="20.6" class="mol">O<tspan dx="1.2" dy="3.2" font-size="9.2">2</tspan></text>
<text x="514.2" y="207.9" text-anchor="end" class="star">K7V</text>
<path d="M582.5 3.6H713.6V216.3H582.5Z" fill="none" stroke="#7a7a7a" stroke-width="1.2"/>
<path d="M582.5 211.57h2 M582.5 202.12h2 M582.5 192.67h4 M582.5 183.21h2 M582.5 173.76h2 M582.5 164.31h2 M582.5 154.85h2 M582.5 145.4h4 M582.5 135.95h2 M582.5 126.49h2 M582.5 117.04h2 M582.5 107.59h2 M582.5 98.13h4 M582.5 88.68h2 M582.5 79.23h2 M582.5 69.77h2 M582.5 60.32h2 M582.5 50.87h4 M582.5 41.41h2 M582.5 31.96h2 M582.5 22.51h2 M582.5 13.05h2 M589.05 216.3v-2M589.05 3.6v2 M595.61 216.3v-2M595.61 3.6v2 M602.16 216.3v-2M602.16 3.6v2 M608.72 216.3v-2M608.72 3.6v2 M615.27 216.3v-3.5M615.27 3.6v3.5 M621.83 216.3v-2M621.83 3.6v2 M628.38 216.3v-2M628.38 3.6v2 M634.94 216.3v-2M634.94 3.6v2 M641.5 216.3v-2M641.5 3.6v2 M648.05 216.3v-2M648.05 3.6v2 M654.61 216.3v-2M654.61 3.6v2 M661.16 216.3v-2M661.16 3.6v2 M667.72 216.3v-2M667.72 3.6v2 M674.27 216.3v-2M674.27 3.6v2 M680.83 216.3v-3.5M680.83 3.6v3.5 M687.38 216.3v-2M687.38 3.6v2 M693.94 216.3v-2M693.94 3.6v2 M700.49 216.3v-2M700.49 3.6v2 M707.05 216.3v-2M707.05 3.6v2 M713.6 12.1h-4 M713.6 55.58h-4 M713.6 99.05h-4 M713.6 142.53h-4 M713.6 186h-4" fill="none" stroke="#7a7a7a" stroke-width="1"/>
<text x="578" y="196.97" text-anchor="end" class="tk">10</text>
<text x="578" y="149.7" text-anchor="end" class="tk">20</text>
<text x="578" y="102.43" text-anchor="end" class="tk">30</text>
<text x="578" y="55.17" text-anchor="end" class="tk">40</text>
<text x="578" y="7.9" text-anchor="end" class="tk">50</text>
<text x="714.9" y="15.8" class="tk">7040</text>
<text x="714.9" y="59.28" class="tk">7020</text>
<text x="714.9" y="102.75" class="tk">7000</text>
<text x="714.9" y="146.22" class="tk">6980</text>
<text x="714.9" y="189.7" class="tk">6960</text>
<text x="612.67" y="227.1" text-anchor="middle" class="tk">0.76</text>
<text x="678.23" y="227.1" text-anchor="middle" class="tk">0.77</text>
<text x="594" y="240.6" class="ti">Wavelength (μm)</text>
<text x="592" y="20.6" class="mol">O<tspan dx="1.2" dy="3.2" font-size="9.2">2</tspan></text>
<text x="708.1" y="207.9" text-anchor="end" class="star">M8Va</text>
<path d="M29.9 257.9H161.4V470.4H29.9Z" fill="none" stroke="#7a7a7a" stroke-width="1.2"/>
<path d="M29.9 465.68h2 M29.9 456.23h2 M29.9 446.79h4 M29.9 437.34h2 M29.9 427.9h2 M29.9 418.46h2 M29.9 409.01h2 M29.9 399.57h4 M29.9 390.12h2 M29.9 380.68h2 M29.9 371.23h2 M29.9 361.79h2 M29.9 352.34h4 M29.9 342.9h2 M29.9 333.46h2 M29.9 324.01h2 M29.9 314.57h2 M29.9 305.12h4 M29.9 295.68h2 M29.9 286.23h2 M29.9 276.79h2 M29.9 267.34h2 M43.05 470.4v-2M43.05 257.9v2 M56.2 470.4v-3.5M56.2 257.9v3.5 M69.35 470.4v-2M69.35 257.9v2 M82.5 470.4v-3.5M82.5 257.9v3.5 M95.65 470.4v-2M95.65 257.9v2 M108.8 470.4v-3.5M108.8 257.9v3.5 M121.95 470.4v-2M121.95 257.9v2 M135.1 470.4v-3.5M135.1 257.9v3.5 M148.25 470.4v-2M148.25 257.9v2 M161.4 293.7h-4 M161.4 340.63h-4 M161.4 387.57h-4 M161.4 434.5h-4" fill="none" stroke="#7a7a7a" stroke-width="1"/>
<text x="25.4" y="451.09" text-anchor="end" class="tk">10</text>
<text x="25.4" y="403.87" text-anchor="end" class="tk">20</text>
<text x="25.4" y="356.64" text-anchor="end" class="tk">30</text>
<text x="25.4" y="309.42" text-anchor="end" class="tk">40</text>
<text x="25.4" y="262.2" text-anchor="end" class="tk">50</text>
<text x="162.7" y="297.4" class="tk">32.4</text>
<text x="162.7" y="344.33" class="tk">32.3</text>
<text x="162.7" y="391.27" class="tk">32.2</text>
<text x="162.7" y="438.2" class="tk">32.1</text>
<text x="27.9" y="481.2" text-anchor="middle" class="tk">9.0</text>
<text x="54.2" y="481.2" text-anchor="middle" class="tk">9.2</text>
<text x="80.5" y="481.2" text-anchor="middle" class="tk">9.4</text>
<text x="106.8" y="481.2" text-anchor="middle" class="tk">9.6</text>
<text x="133.1" y="481.2" text-anchor="middle" class="tk">9.8</text>
<text x="159.4" y="481.2" text-anchor="middle" class="tk">10.0</text>
<text x="41.4" y="494.7" class="ti">Wavelength (μm)</text>
<text x="37.8" y="278.8" class="mol">O<tspan dx="1.2" dy="3.2" font-size="9.2">3</tspan></text>
<text x="149.9" y="462.9" text-anchor="end" class="star">F0V</text>
<path d="M204.6 257.9H335.4V470.4H204.6Z" fill="none" stroke="#7a7a7a" stroke-width="1.2"/>
<path d="M204.6 465.68h2 M204.6 456.23h2 M204.6 446.79h4 M204.6 437.34h2 M204.6 427.9h2 M204.6 418.46h2 M204.6 409.01h2 M204.6 399.57h4 M204.6 390.12h2 M204.6 380.68h2 M204.6 371.23h2 M204.6 361.79h2 M204.6 352.34h4 M204.6 342.9h2 M204.6 333.46h2 M204.6 324.01h2 M204.6 314.57h2 M204.6 305.12h4 M204.6 295.68h2 M204.6 286.23h2 M204.6 276.79h2 M204.6 267.34h2 M217.68 470.4v-2M217.68 257.9v2 M230.76 470.4v-3.5M230.76 257.9v3.5 M243.84 470.4v-2M243.84 257.9v2 M256.92 470.4v-3.5M256.92 257.9v3.5 M270 470.4v-2M270 257.9v2 M283.08 470.4v-3.5M283.08 257.9v3.5 M296.16 470.4v-2M296.16 257.9v2 M309.24 470.4v-3.5M309.24 257.9v3.5 M322.32 470.4v-2M322.32 257.9v2 M335.4 272.8h-4 M335.4 298.9h-4 M335.4 325h-4 M335.4 351.1h-4 M335.4 377.2h-4 M335.4 403.3h-4 M335.4 429.4h-4 M335.4 455.5h-4" fill="none" stroke="#7a7a7a" stroke-width="1"/>
<text x="200.1" y="451.09" text-anchor="end" class="tk">10</text>
<text x="200.1" y="403.87" text-anchor="end" class="tk">20</text>
<text x="200.1" y="356.64" text-anchor="end" class="tk">30</text>
<text x="200.1" y="309.42" text-anchor="end" class="tk">40</text>
<text x="200.1" y="262.2" text-anchor="end" class="tk">50</text>
<text x="336.7" y="276.5" class="tk">292.0</text>
<text x="336.7" y="302.6" class="tk">291.5</text>
<text x="336.7" y="328.7" class="tk">291.0</text>
<text x="336.7" y="354.8" class="tk">290.5</text>
<text x="336.7" y="380.9" class="tk">290.0</text>
<text x="336.7" y="407" class="tk">289.5</text>
<text x="336.7" y="433.1" class="tk">289.0</text>
<text x="336.7" y="459.2" class="tk">288.5</text>
<text x="202.6" y="481.2" text-anchor="middle" class="tk">9.0</text>
<text x="228.76" y="481.2" text-anchor="middle" class="tk">9.2</text>
<text x="254.92" y="481.2" text-anchor="middle" class="tk">9.4</text>
<text x="281.08" y="481.2" text-anchor="middle" class="tk">9.6</text>
<text x="307.24" y="481.2" text-anchor="middle" class="tk">9.8</text>
<text x="333.4" y="481.2" text-anchor="middle" class="tk">10.0</text>
<text x="216.1" y="494.7" class="ti">Wavelength (μm)</text>
<text x="222.5" y="278.8" class="mol">O<tspan dx="1.2" dy="3.2" font-size="9.2">3</tspan></text>
<text x="325" y="462.9" text-anchor="end" class="star">Sun</text>
<path d="M393.8 257.9H524.3V470.4H393.8Z" fill="none" stroke="#7a7a7a" stroke-width="1.2"/>
<path d="M393.8 465.68h2 M393.8 456.23h2 M393.8 446.79h4 M393.8 437.34h2 M393.8 427.9h2 M393.8 418.46h2 M393.8 409.01h2 M393.8 399.57h4 M393.8 390.12h2 M393.8 380.68h2 M393.8 371.23h2 M393.8 361.79h2 M393.8 352.34h4 M393.8 342.9h2 M393.8 333.46h2 M393.8 324.01h2 M393.8 314.57h2 M393.8 305.12h4 M393.8 295.68h2 M393.8 286.23h2 M393.8 276.79h2 M393.8 267.34h2 M406.85 470.4v-2M406.85 257.9v2 M419.9 470.4v-3.5M419.9 257.9v3.5 M432.95 470.4v-2M432.95 257.9v2 M446 470.4v-3.5M446 257.9v3.5 M459.05 470.4v-2M459.05 257.9v2 M472.1 470.4v-3.5M472.1 257.9v3.5 M485.15 470.4v-2M485.15 257.9v2 M498.2 470.4v-3.5M498.2 257.9v3.5 M511.25 470.4v-2M511.25 257.9v2 M524.3 263.1h-4 M524.3 298.9h-4 M524.3 334.7h-4 M524.3 370.5h-4 M524.3 406.3h-4 M524.3 442.1h-4" fill="none" stroke="#7a7a7a" stroke-width="1"/>
<text x="389.3" y="451.09" text-anchor="end" class="tk">10</text>
<text x="389.3" y="403.87" text-anchor="end" class="tk">20</text>
<text x="389.3" y="356.64" text-anchor="end" class="tk">30</text>
<text x="389.3" y="309.42" text-anchor="end" class="tk">40</text>
<text x="389.3" y="262.2" text-anchor="end" class="tk">50</text>
<text x="525.6" y="266.8" class="tk">85.2</text>
<text x="525.6" y="302.6" class="tk">85.0</text>
<text x="525.6" y="338.4" class="tk">84.8</text>
<text x="525.6" y="374.2" class="tk">84.6</text>
<text x="525.6" y="410" class="tk">84.4</text>
<text x="525.6" y="445.8" class="tk">84.2</text>
<text x="391.8" y="481.2" text-anchor="middle" class="tk">9.0</text>
<text x="417.9" y="481.2" text-anchor="middle" class="tk">9.2</text>
<text x="444" y="481.2" text-anchor="middle" class="tk">9.4</text>
<text x="470.1" y="481.2" text-anchor="middle" class="tk">9.6</text>
<text x="496.2" y="481.2" text-anchor="middle" class="tk">9.8</text>
<text x="522.3" y="481.2" text-anchor="middle" class="tk">10.0</text>
<text x="405.3" y="494.7" class="ti">Wavelength (μm)</text>
<text x="407.4" y="278.8" class="mol">O<tspan dx="1.2" dy="3.2" font-size="9.2">3</tspan></text>
<text x="515.8" y="465.7" text-anchor="end" class="star">K7V</text>
<path d="M582.5 257.9H713.6V470.4H582.5Z" fill="none" stroke="#7a7a7a" stroke-width="1.2"/>
<path d="M582.5 465.68h2 M582.5 456.23h2 M582.5 446.79h4 M582.5 437.34h2 M582.5 427.9h2 M582.5 418.46h2 M582.5 409.01h2 M582.5 399.57h4 M582.5 390.12h2 M582.5 380.68h2 M582.5 371.23h2 M582.5 361.79h2 M582.5 352.34h4 M582.5 342.9h2 M582.5 333.46h2 M582.5 324.01h2 M582.5 314.57h2 M582.5 305.12h4 M582.5 295.68h2 M582.5 286.23h2 M582.5 276.79h2 M582.5 267.34h2 M595.61 470.4v-2M595.61 257.9v2 M608.72 470.4v-3.5M608.72 257.9v3.5 M621.83 470.4v-2M621.83 257.9v2 M634.94 470.4v-3.5M634.94 257.9v3.5 M648.05 470.4v-2M648.05 257.9v2 M661.16 470.4v-3.5M661.16 257.9v3.5 M674.27 470.4v-2M674.27 257.9v2 M687.38 470.4v-3.5M687.38 257.9v3.5 M700.49 470.4v-2M700.49 257.9v2 M713.6 266.5h-4 M713.6 309.98h-4 M713.6 353.45h-4 M713.6 396.93h-4 M713.6 440.4h-4" fill="none" stroke="#7a7a7a" stroke-width="1"/>
<text x="578" y="451.09" text-anchor="end" class="tk">10</text>
<text x="578" y="403.87" text-anchor="end" class="tk">20</text>
<text x="578" y="356.64" text-anchor="end" class="tk">30</text>
<text x="578" y="309.42" text-anchor="end" class="tk">40</text>
<text x="578" y="262.2" text-anchor="end" class="tk">50</text>
<text x="714.9" y="270.2" class="tk">7040</text>
<text x="714.9" y="313.68" class="tk">7020</text>
<text x="714.9" y="357.15" class="tk">7000</text>
<text x="714.9" y="400.62" class="tk">6980</text>
<text x="714.9" y="444.1" class="tk">6960</text>
<text x="580.5" y="481.2" text-anchor="middle" class="tk">9.0</text>
<text x="606.72" y="481.2" text-anchor="middle" class="tk">9.2</text>
<text x="632.94" y="481.2" text-anchor="middle" class="tk">9.4</text>
<text x="659.16" y="481.2" text-anchor="middle" class="tk">9.6</text>
<text x="685.38" y="481.2" text-anchor="middle" class="tk">9.8</text>
<text x="711.6" y="481.2" text-anchor="middle" class="tk">10.0</text>
<text x="594" y="494.7" class="ti">Wavelength (μm)</text>
<text x="592.2" y="278.8" class="mol">O<tspan dx="1.2" dy="3.2" font-size="9.2">3</tspan></text>
<text x="694.7" y="464.1" text-anchor="end" class="star">M8Va</text>
<rect x="37" y="167.2" width="13" height="9.3" fill="#6ca2de"/>
<text x="53" y="176.2" class="leg">1 PAL O<tspan dx="0.5" dy="2.5" font-size="8.5">2</tspan></text>
<rect x="37" y="181.05" width="13" height="9.3" fill="#a4a600"/>
<text x="53" y="190.05" class="leg">10% PAL O<tspan dx="0.5" dy="2.5" font-size="8.5">2</tspan></text>
<rect x="37" y="194.9" width="13" height="9.3" fill="#ef8565"/>
<text x="53" y="203.9" class="leg">1% PAL O<tspan dx="0.5" dy="2.5" font-size="8.5">2</tspan></text>
<text transform="translate(9.3 176.2) rotate(-90)" class="yt">Effective height (km)</text>
<text transform="translate(758 178.5) rotate(-90)" class="yt" style="font-size:12.3px">Transit depth(R<tspan font-size="8" dx="1.2" dy="1.5">p</tspan><tspan dy="-1.5">/R</tspan><tspan font-size="9" dx="2.2" dy="-0.5">•</tspan><tspan dx="2.2" dy="0.5">)</tspan><tspan font-size="8" dx="1.8" dy="-5">2</tspan><tspan dx="2.5" dy="5">(ppm)</tspan></text>
<text transform="translate(9.3 430.3) rotate(-90)" class="yt">Effective height (km)</text>
<text transform="translate(758 435.4) rotate(-90)" class="yt" style="font-size:12.3px">Transit depth(R<tspan font-size="8" dx="1.2" dy="1.5">p</tspan><tspan dy="-1.5">/R</tspan><tspan font-size="9" dx="2.2" dy="-0.5">•</tspan><tspan dx="2.2" dy="0.5">)</tspan><tspan font-size="8" dx="1.8" dy="-5">2</tspan><tspan dx="2.5" dy="5">(ppm)</tspan></text>
</svg></body></html>
